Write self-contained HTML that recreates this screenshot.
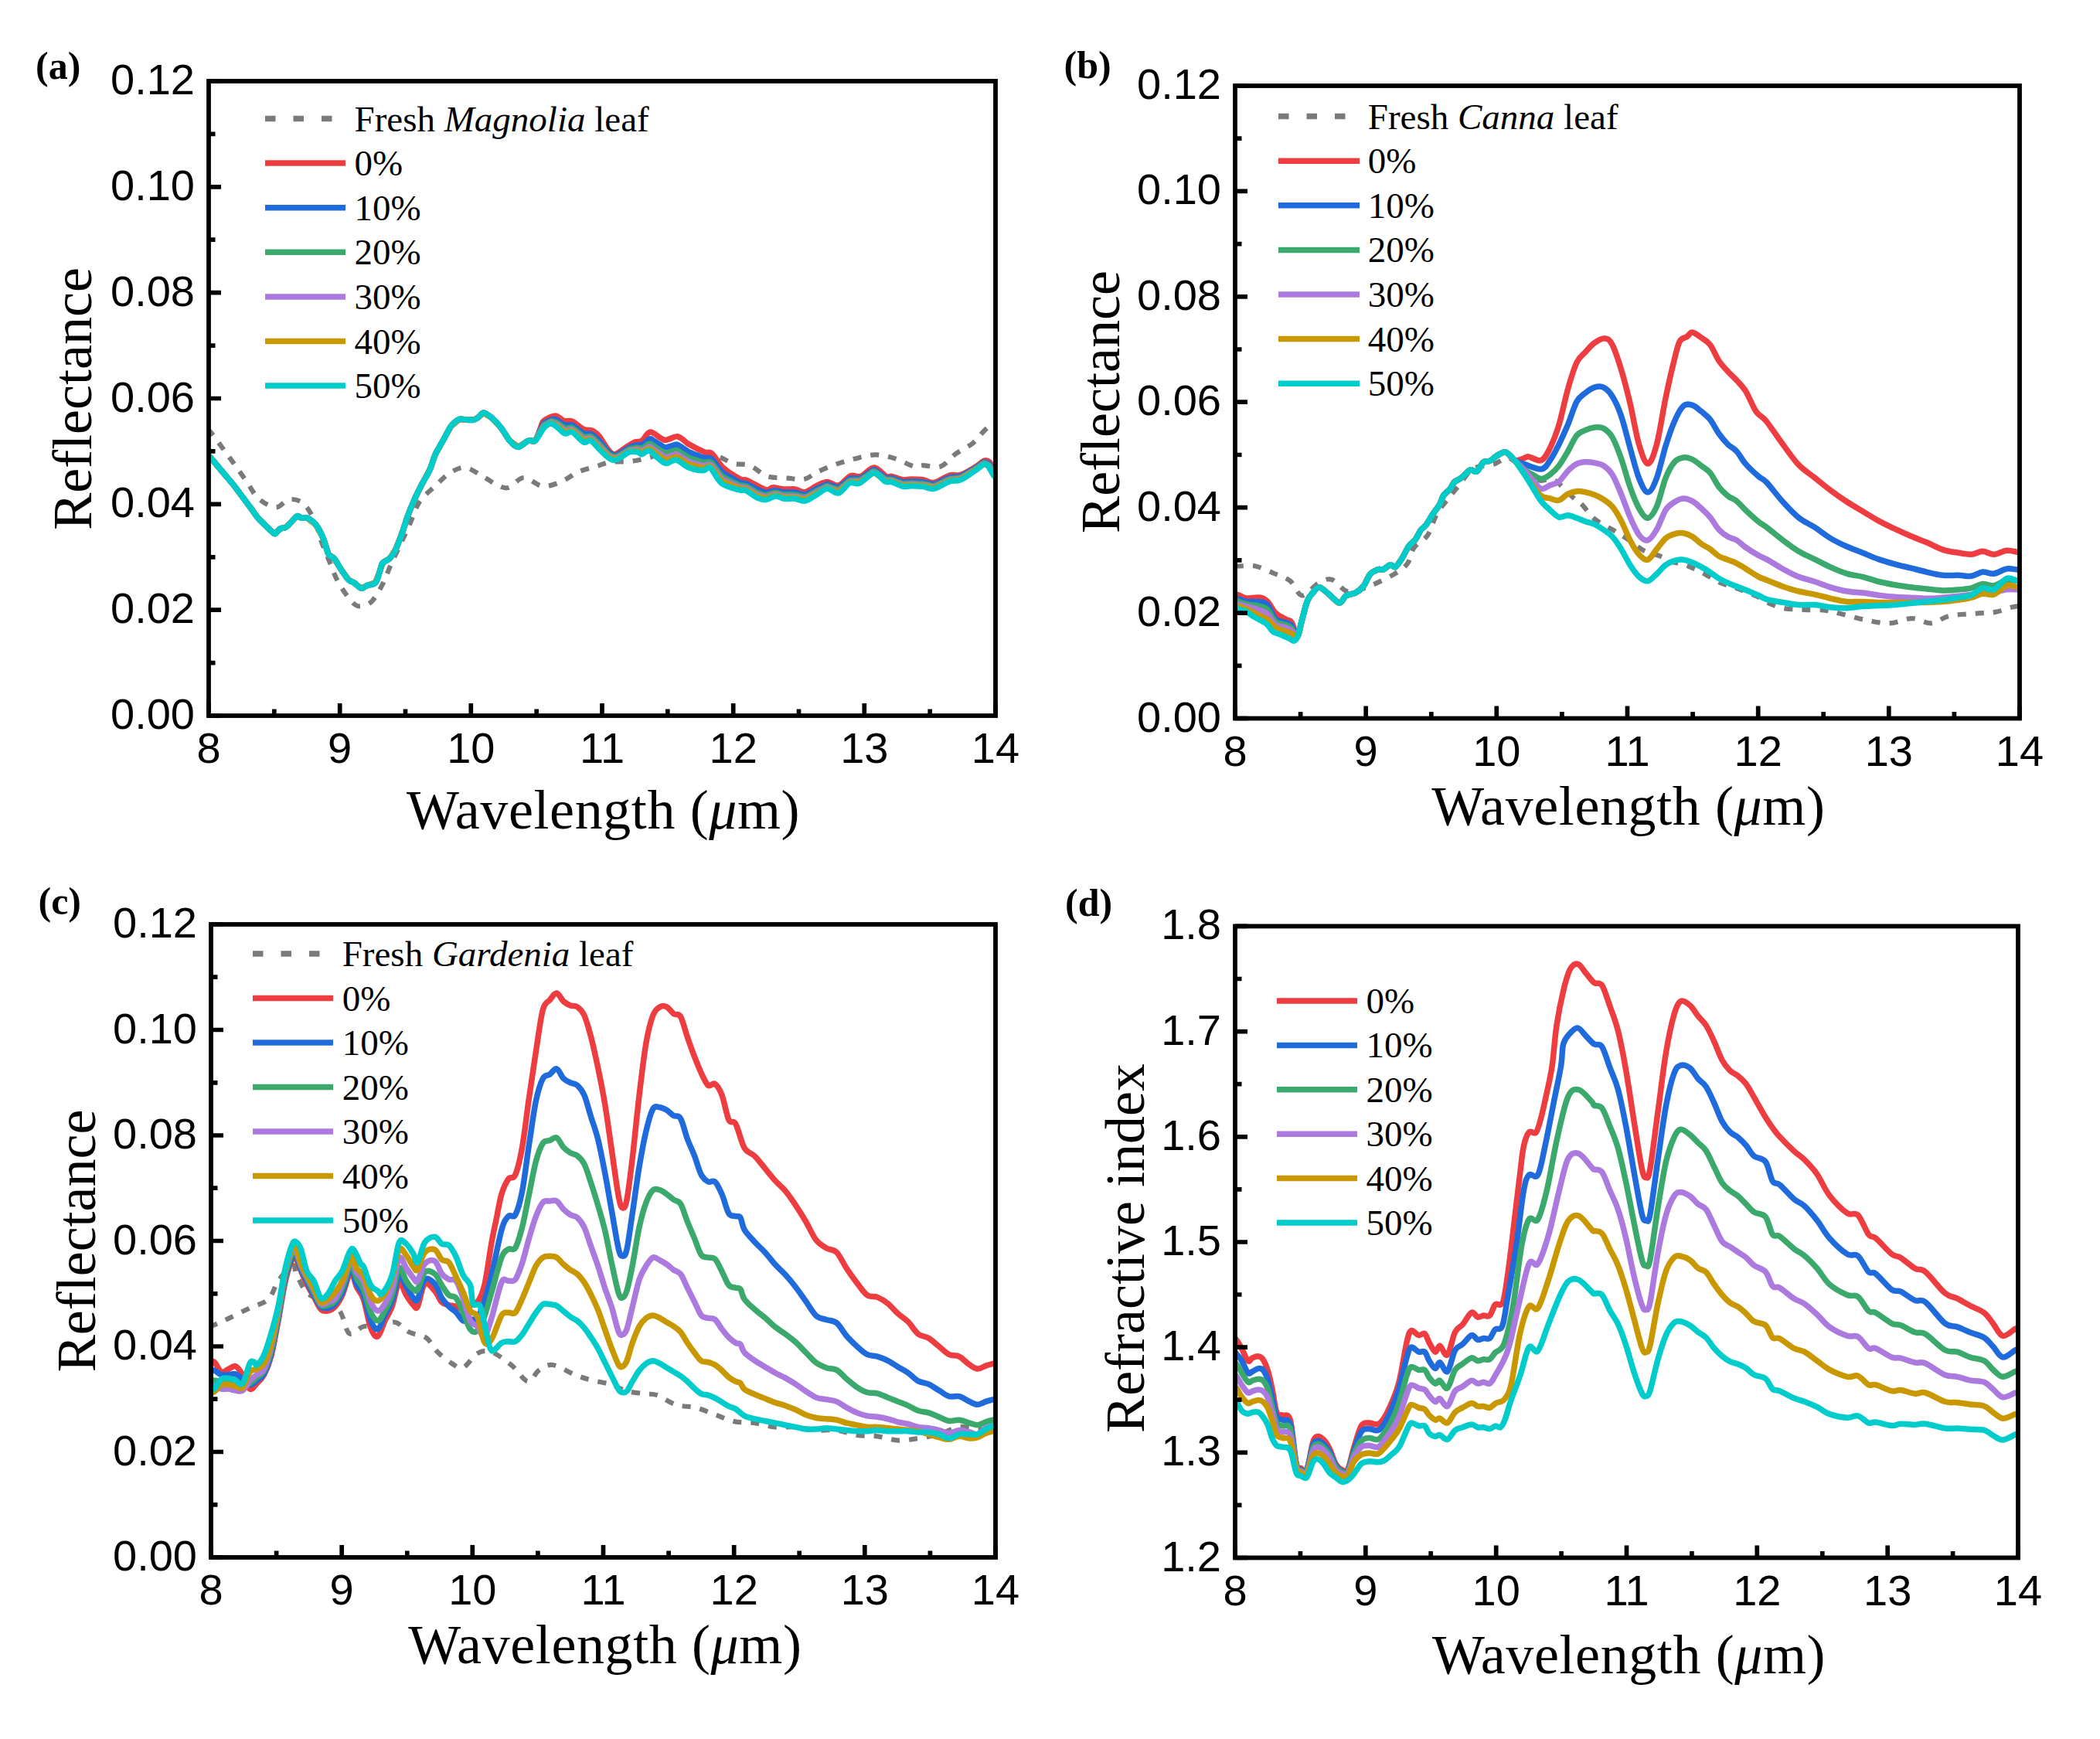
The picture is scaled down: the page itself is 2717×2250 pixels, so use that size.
<!DOCTYPE html><html><head><meta charset="utf-8"><style>html,body{margin:0;padding:0;background:#fff;width:2717px;height:2250px;overflow:hidden}svg{display:block}</style></head><body>
<svg width="2717" height="2250" viewBox="0 0 2717 2250">
<rect width="2717" height="2250" fill="#fff"/>
<clipPath id="clipa"><rect x="270.0" y="105.0" width="1018.0" height="821.0"/></clipPath>
<g clip-path="url(#clipa)" fill="none" stroke-linejoin="round" stroke-linecap="round">
<path d="M268.0 556.0C268.7 556.5 268.9 554.7 272.4 558.9C275.9 563.1 283.7 574.0 288.9 581.0C294.1 588.0 298.5 594.2 303.6 601.2C308.7 608.2 314.1 615.9 319.3 623.3C324.5 630.7 328.6 639.9 334.9 645.4C341.2 650.9 350.6 656.2 357.0 656.4C363.4 656.5 367.8 647.2 373.6 646.3C379.4 645.4 386.5 646.4 392.0 650.9C397.5 655.4 402.7 664.7 406.7 673.0C410.7 681.3 412.5 691.4 415.9 700.6C419.3 709.8 423.3 719.3 427.0 728.2C430.7 737.1 433.1 745.4 438.0 754.0C442.9 762.6 451.5 774.7 456.4 779.7C461.3 784.8 463.3 784.6 467.4 784.3C471.5 784.0 476.6 782.6 481.2 777.9C485.8 773.1 490.9 763.8 495.0 755.8C499.1 747.8 502.0 738.9 506.0 730.0C510.0 721.1 515.0 711.0 519.0 702.4C523.0 693.8 526.0 687.4 530.0 678.5C534.0 669.6 537.4 657.3 542.9 649.0C548.4 640.7 556.7 634.9 563.1 628.8C569.5 622.7 575.0 616.3 581.5 612.3C588.0 608.3 594.7 604.3 601.8 604.9C608.9 605.5 617.0 612.2 623.9 615.9C630.8 619.6 637.3 624.7 642.9 627.2C648.5 629.7 651.8 632.4 657.6 630.9C663.4 629.4 670.4 618.3 677.8 618.0C685.2 617.7 693.8 628.1 701.8 629.0C709.8 629.9 718.0 626.5 725.7 623.5C733.4 620.5 740.1 614.1 747.8 610.7C755.5 607.3 764.7 605.4 771.7 603.3C778.8 601.1 782.7 598.9 790.1 597.8C797.5 596.7 807.6 597.9 815.9 596.9C824.2 595.9 831.8 594.0 840.0 592.0C848.2 590.0 855.0 585.7 865.0 585.0C875.0 584.3 889.5 587.1 900.0 588.0C910.5 588.9 920.0 588.5 928.1 590.4C936.2 592.3 941.4 597.6 948.4 599.6C955.4 601.6 963.0 599.6 970.4 602.4C977.8 605.2 984.5 613.5 992.5 616.2C1000.5 618.9 1010.7 618.0 1018.7 618.6C1026.7 619.2 1033.8 621.3 1040.3 620.0C1046.8 618.7 1050.6 613.9 1057.5 610.7C1064.4 607.5 1073.8 603.5 1081.9 600.6C1090.1 597.7 1098.0 595.4 1106.4 593.4C1114.8 591.4 1123.7 588.4 1132.3 588.4C1140.9 588.4 1149.7 590.9 1158.1 593.4C1166.5 595.9 1176.6 602.0 1182.6 603.5C1188.6 605.0 1188.3 602.1 1194.1 602.1C1199.8 602.1 1210.1 605.9 1217.1 603.5C1224.0 601.1 1228.8 592.7 1235.8 587.7C1242.8 582.7 1252.3 578.6 1258.8 573.3C1265.3 568.0 1269.4 560.8 1274.6 556.1C1279.8 551.4 1287.4 546.9 1290.0 545.0" stroke="#7a7a7a" stroke-width="6.2" stroke-dasharray="11 12" stroke-linecap="butt"/>
<path d="M270.0 590.0C270.4 590.3 270.5 589.8 272.4 592.0C274.3 594.2 278.5 599.3 281.6 603.0C284.7 606.7 287.4 610.0 290.8 614.0C294.2 618.0 298.1 622.4 301.8 627.0C305.5 631.6 309.1 636.8 312.8 641.7C316.5 646.6 320.5 651.8 323.9 656.4C327.3 661.0 329.6 665.3 333.0 669.3C336.4 673.3 340.9 677.2 344.0 680.3C347.1 683.4 349.5 686.0 351.5 687.7C353.5 689.4 354.2 691.1 356.0 690.5C357.8 689.9 360.2 685.4 362.5 684.0C364.8 682.6 367.4 683.7 369.9 682.2C372.4 680.7 374.9 677.2 377.3 674.8C379.8 672.3 382.5 668.3 384.6 667.5C386.7 666.7 388.0 669.8 390.1 670.2C392.2 670.7 394.4 668.8 397.5 670.2C400.6 671.6 405.1 674.4 408.5 678.5C411.9 682.6 414.9 688.5 417.7 695.0C420.5 701.5 422.6 712.6 425.1 717.2C427.6 721.8 429.7 719.3 432.5 722.7C435.3 726.1 438.6 732.8 441.7 737.4C444.8 742.0 448.1 747.5 450.9 750.3C453.6 753.1 455.4 752.2 458.2 754.0C460.9 755.8 464.6 760.7 467.4 761.3C470.2 761.9 471.7 758.8 474.8 757.6C477.9 756.4 483.0 757.1 485.8 754.0C488.6 750.9 489.9 743.5 491.4 739.2C492.9 734.9 492.9 731.0 495.0 728.2C497.1 725.5 501.4 725.5 504.2 722.7C507.0 719.9 509.1 716.5 511.6 711.6C514.1 706.7 516.2 700.9 519.0 693.2C521.8 685.5 525.1 673.9 528.2 665.6C531.3 657.3 534.3 650.2 537.4 643.5C540.5 636.8 543.5 630.9 546.6 625.1C549.7 619.3 553.0 614.7 555.8 608.6C558.5 602.5 560.0 595.0 563.1 588.3C566.2 581.5 570.8 574.2 574.2 568.1C577.6 562.0 580.0 555.8 583.4 551.5C586.8 547.2 591.0 543.7 594.4 542.3C597.8 540.9 600.5 543.1 603.6 543.2C606.7 543.4 610.3 543.7 612.8 543.2C615.2 542.8 616.1 542.0 618.3 540.5C620.4 539.0 622.7 534.0 625.7 534.0C628.7 534.0 632.6 537.4 636.4 540.7C640.2 544.0 644.6 548.7 648.4 553.6C652.2 558.5 655.7 566.1 659.4 570.2C663.1 574.4 666.5 578.5 670.5 578.5C674.5 578.5 679.7 571.6 683.4 570.2C687.1 568.8 689.8 573.2 692.6 570.2C695.4 567.2 698.2 556.3 700.0 552.0C701.8 547.7 700.6 546.7 703.6 544.4C706.6 542.1 714.0 538.0 718.3 538.0C722.6 538.0 725.7 543.2 729.4 544.4C733.1 545.6 736.1 543.5 740.4 545.3C744.7 547.1 750.8 553.4 755.1 555.4C759.4 557.4 762.8 555.8 766.2 557.3C769.6 558.8 772.0 560.7 775.4 564.7C778.8 568.7 783.0 577.4 786.4 581.2C789.8 585.0 791.6 588.2 795.6 587.7C799.6 587.2 806.0 581.1 810.3 578.5C814.6 575.9 818.0 573.4 821.4 572.0C824.8 570.6 827.2 572.4 830.6 570.2C834.0 568.1 836.7 559.2 841.6 559.1C846.5 559.0 854.2 568.4 860.0 569.3C865.8 570.2 871.4 563.8 876.6 564.7C881.8 565.6 885.5 571.4 891.3 574.8C897.1 578.2 906.7 582.9 911.6 584.9C916.5 586.9 916.8 583.3 920.8 586.7C924.8 590.1 929.4 599.6 935.5 605.1C941.6 610.6 952.4 617.1 957.6 619.9C962.8 622.7 961.3 619.4 966.8 621.7C972.3 624.0 985.2 632.2 990.7 633.7C996.2 635.2 996.0 630.9 1000.0 630.8C1004.0 630.7 1009.6 632.6 1014.4 633.0C1019.2 633.4 1024.2 632.4 1028.8 633.0C1033.3 633.6 1036.9 637.4 1041.7 636.6C1046.5 635.8 1052.7 630.2 1057.5 628.0C1062.3 625.8 1065.9 623.6 1070.4 623.6C1075.0 623.6 1079.8 629.3 1084.8 628.0C1089.8 626.7 1095.8 617.6 1100.6 615.7C1105.4 613.8 1108.6 618.2 1113.6 616.4C1118.6 614.6 1125.3 604.9 1130.8 604.9C1136.3 604.9 1142.8 614.5 1146.6 616.4C1150.4 618.3 1150.2 615.7 1153.8 616.4C1157.4 617.1 1164.1 620.2 1168.2 620.8C1172.3 621.4 1174.0 620.0 1178.3 620.0C1182.6 620.0 1189.1 620.1 1194.1 620.8C1199.1 621.5 1202.8 625.4 1208.5 624.4C1214.2 623.4 1222.8 616.7 1228.6 615.0C1234.3 613.3 1237.2 616.2 1243.0 614.3C1248.8 612.4 1258.1 606.5 1263.1 603.5C1268.1 600.5 1270.2 597.2 1273.1 596.3C1276.0 595.3 1278.2 596.1 1280.3 597.8C1282.3 599.5 1283.8 604.0 1285.4 606.4C1287.0 608.8 1289.2 611.1 1290.0 612.0" stroke="#ee3d40" stroke-width="7.5"/>
<path d="M266.0 590.0C266.5 590.0 268.0 589.7 269.0 590.0C270.0 590.3 271.0 590.8 272.0 591.7C273.0 592.5 274.0 593.9 275.0 595.1C276.0 596.3 277.0 597.5 278.0 598.7C279.0 599.9 280.0 601.1 281.0 602.3C282.0 603.5 283.0 604.7 284.0 605.9C285.0 607.1 286.0 608.3 287.0 609.5C288.0 610.7 289.0 611.9 290.0 613.0C291.0 614.2 292.0 615.4 293.0 616.6C294.0 617.8 295.0 619.0 296.0 620.1C297.0 621.3 298.0 622.5 299.0 623.7C300.0 624.9 301.0 626.0 302.0 627.3C303.0 628.5 304.0 629.9 305.0 631.3C306.0 632.6 307.0 633.9 308.0 635.3C309.0 636.6 310.0 638.0 311.0 639.3C312.0 640.6 313.0 642.0 314.0 643.3C315.0 644.6 316.0 645.9 317.0 647.3C318.0 648.6 319.0 649.9 320.0 651.2C321.0 652.6 322.0 653.9 323.0 655.2C324.0 656.6 325.0 658.0 326.0 659.4C327.0 660.8 328.0 662.2 329.0 663.6C330.0 665.0 331.0 666.6 332.0 667.9C333.0 669.2 334.0 670.2 335.0 671.3C336.0 672.4 337.0 673.3 338.0 674.3C339.0 675.3 340.0 676.3 341.0 677.3C342.0 678.3 343.0 679.3 344.0 680.3C345.0 681.3 346.0 682.3 347.0 683.3C348.0 684.2 349.0 685.3 350.0 686.2C351.0 687.1 352.0 687.9 353.0 688.6C354.0 689.3 355.0 690.7 356.0 690.5C357.0 690.3 358.0 688.5 359.0 687.5C360.0 686.5 361.0 685.2 362.0 684.5C363.0 683.8 364.0 683.7 365.0 683.4C366.0 683.1 367.0 683.0 368.0 682.7C369.0 682.3 370.0 681.9 371.0 681.1C372.0 680.3 373.0 679.1 374.0 678.1C375.0 677.1 376.0 676.1 377.0 675.1C378.0 674.1 379.0 673.1 380.0 672.1C381.0 671.1 382.0 669.8 383.0 669.1C384.0 668.4 385.0 668.1 386.0 668.2C387.0 668.3 388.0 669.3 389.0 669.7C390.0 670.0 391.0 670.1 392.0 670.2C393.0 670.3 394.0 670.1 395.0 670.2C396.0 670.3 397.0 670.1 398.0 670.6C399.0 671.0 400.0 672.1 401.0 672.8C402.0 673.6 403.0 674.4 404.0 675.1C405.0 675.9 406.0 676.4 407.0 677.4C408.0 678.4 409.0 679.7 410.0 681.2C411.0 682.7 412.0 684.8 413.0 686.6C414.0 688.4 415.0 689.9 416.0 692.0C417.0 694.0 418.0 696.2 419.0 698.9C420.0 701.6 421.0 704.9 422.0 707.9C423.0 710.9 424.0 715.0 425.0 716.9C426.0 718.8 427.0 718.6 428.0 719.4C429.0 720.1 430.0 720.6 431.0 721.6C432.0 722.5 433.0 723.7 434.0 725.1C435.0 726.5 436.0 728.3 437.0 729.9C438.0 731.5 439.0 733.1 440.0 734.7C441.0 736.2 442.0 737.8 443.0 739.2C444.0 740.7 445.0 742.0 446.0 743.4C447.0 744.8 448.0 746.4 449.0 747.6C450.0 748.9 451.0 750.1 452.0 750.9C453.0 751.6 454.0 751.9 455.0 752.4C456.0 752.9 457.0 753.3 458.0 753.9C459.0 754.5 460.0 755.4 461.0 756.2C462.0 757.0 463.0 757.8 464.0 758.6C465.0 759.4 466.0 760.7 467.0 761.0C468.0 761.2 469.0 760.4 470.0 760.0C471.0 759.6 472.0 759.0 473.0 758.5C474.0 758.0 475.0 757.6 476.0 757.2C477.0 756.8 478.0 756.6 479.0 756.2C480.0 755.9 481.0 755.6 482.0 755.2C483.0 754.9 484.0 755.4 485.0 754.3C486.0 753.1 487.0 750.5 488.0 748.2C489.0 745.9 490.0 743.1 491.0 740.3C492.0 737.4 493.0 733.5 494.0 731.3C495.0 729.0 496.0 728.0 497.0 727.0C498.0 726.0 499.0 725.8 500.0 725.2C501.0 724.6 502.0 724.3 503.0 723.4C504.0 722.5 505.0 721.3 506.0 720.0C507.0 718.7 508.0 717.1 509.0 715.5C510.0 713.9 511.0 712.7 512.0 710.6C513.0 708.5 514.0 705.6 515.0 703.1C516.0 700.7 517.0 698.3 518.0 695.7C519.0 693.0 520.0 690.1 521.0 687.2C522.0 684.3 523.0 681.2 524.0 678.2C525.0 675.2 526.0 672.0 527.0 669.2C528.0 666.4 529.0 663.8 530.0 661.3C531.0 658.8 532.0 656.5 533.0 654.1C534.0 651.7 535.0 649.2 536.0 646.9C537.0 644.6 538.0 642.4 539.0 640.3C540.0 638.2 541.0 636.3 542.0 634.3C543.0 632.3 544.0 630.3 545.0 628.3C546.0 626.3 547.0 624.4 548.0 622.6C549.0 620.7 550.0 619.0 551.0 617.2C552.0 615.4 553.0 613.8 554.0 611.8C555.0 609.8 556.0 607.7 557.0 605.3C558.0 602.8 559.0 599.7 560.0 596.9C561.0 594.1 562.0 590.9 563.0 588.6C564.0 586.3 565.0 584.9 566.0 583.0C567.0 581.2 568.0 579.4 569.0 577.6C570.0 575.7 571.0 573.9 572.0 572.1C573.0 570.3 574.0 568.5 575.0 566.7C576.0 564.8 577.0 563.0 578.0 561.2C579.0 559.4 580.0 557.5 581.0 555.8C582.0 554.1 583.0 552.2 584.0 551.0C585.0 549.8 586.0 549.3 587.0 548.5C588.0 547.7 589.0 546.8 590.0 546.0C591.0 545.1 592.0 544.1 593.0 543.5C594.0 542.9 595.0 542.6 596.0 542.5C597.0 542.3 598.0 542.7 599.0 542.8C600.0 542.8 601.0 543.0 602.0 543.0C603.0 543.1 604.0 543.2 605.0 543.2C606.0 543.2 607.0 543.2 608.0 543.2C609.0 543.2 610.0 543.3 611.0 543.2C612.0 543.1 613.0 543.0 614.0 542.6C615.0 542.3 616.0 541.7 617.0 541.1C618.0 540.5 619.0 539.8 620.0 539.0C621.0 538.2 622.0 537.2 623.0 536.4C624.0 535.6 625.0 534.2 626.0 534.2C627.0 534.1 628.0 535.4 629.0 536.1C630.0 536.7 631.0 537.3 632.0 537.9C633.0 538.6 634.0 539.1 635.0 539.8C636.0 540.6 637.0 541.4 638.0 542.4C639.0 543.4 640.0 544.6 641.0 545.6C642.0 546.7 643.0 547.8 644.0 548.9C645.0 549.9 646.0 550.9 647.0 552.1C648.0 553.3 649.0 554.6 650.0 556.0C651.0 557.4 652.0 559.0 653.0 560.5C654.0 562.1 655.0 563.6 656.0 565.1C657.0 566.6 658.0 568.4 659.0 569.6C660.0 570.8 661.0 571.3 662.0 572.1C663.0 572.9 664.0 573.6 665.0 574.4C666.0 575.1 667.0 576.0 668.0 576.6C669.0 577.3 670.0 578.2 671.0 578.2C672.0 578.1 673.0 576.9 674.0 576.2C675.0 575.6 676.0 575.0 677.0 574.3C678.0 573.7 679.0 573.0 680.0 572.4C681.0 571.7 682.0 570.8 683.0 570.5C684.0 570.1 685.0 570.2 686.0 570.2C687.0 570.2 688.0 570.2 689.0 570.2C690.0 570.2 691.0 571.1 692.0 570.2C693.0 569.3 694.0 567.0 695.0 565.0C696.0 563.1 697.0 560.7 698.0 558.6C699.0 556.5 700.0 554.3 701.0 552.4C702.0 550.5 703.0 548.3 704.0 547.2C705.0 546.1 706.0 546.3 707.0 545.8C708.0 545.3 709.0 544.8 710.0 544.3C711.0 543.8 712.0 543.2 713.0 542.9C714.0 542.6 715.0 542.7 716.0 542.6C717.0 542.6 718.0 542.5 719.0 542.8C720.0 543.2 721.0 544.0 722.0 544.6C723.0 545.2 724.0 545.9 725.0 546.5C726.0 547.2 727.0 547.9 728.0 548.5C729.0 549.1 730.0 549.7 731.0 549.9C732.0 550.2 733.0 549.9 734.0 549.9C735.0 549.9 736.0 549.9 737.0 549.9C738.0 549.9 739.0 549.5 740.0 549.9C741.0 550.2 742.0 551.1 743.0 551.8C744.0 552.5 745.0 553.3 746.0 554.1C747.0 554.8 748.0 555.6 749.0 556.3C750.0 557.1 751.0 557.8 752.0 558.6C753.0 559.3 754.0 560.4 755.0 560.8C756.0 561.2 757.0 561.0 758.0 561.0C759.0 561.1 760.0 561.1 761.0 561.2C762.0 561.2 763.0 561.0 764.0 561.3C765.0 561.6 766.0 562.2 767.0 562.9C768.0 563.6 769.0 564.6 770.0 565.5C771.0 566.4 772.0 567.2 773.0 568.1C774.0 569.0 775.0 569.8 776.0 571.0C777.0 572.1 778.0 573.6 779.0 574.9C780.0 576.2 781.0 577.5 782.0 578.8C783.0 580.0 784.0 581.5 785.0 582.6C786.0 583.8 787.0 584.8 788.0 585.6C789.0 586.5 790.0 587.1 791.0 587.6C792.0 588.2 793.0 588.8 794.0 589.1C795.0 589.3 796.0 589.4 797.0 589.2C798.0 589.0 799.0 588.4 800.0 587.8C801.0 587.3 802.0 586.6 803.0 585.9C804.0 585.3 805.0 584.7 806.0 584.1C807.0 583.4 808.0 582.8 809.0 582.2C810.0 581.6 811.0 580.9 812.0 580.4C813.0 579.8 814.0 579.2 815.0 578.8C816.0 578.3 817.0 578.0 818.0 577.6C819.0 577.2 820.0 576.7 821.0 576.4C822.0 576.1 823.0 576.0 824.0 575.9C825.0 575.8 826.0 575.8 827.0 575.8C828.0 575.8 829.0 576.3 830.0 576.0C831.0 575.6 832.0 574.7 833.0 574.0C834.0 573.2 835.0 572.3 836.0 571.4C837.0 570.6 838.0 569.5 839.0 568.9C840.0 568.3 841.0 567.6 842.0 567.8C843.0 567.9 844.0 569.1 845.0 569.7C846.0 570.4 847.0 571.0 848.0 571.7C849.0 572.3 850.0 573.0 851.0 573.6C852.0 574.2 853.0 574.8 854.0 575.4C855.0 575.9 856.0 576.5 857.0 577.1C858.0 577.7 859.0 578.6 860.0 578.9C861.0 579.1 862.0 578.8 863.0 578.6C864.0 578.4 865.0 578.0 866.0 577.7C867.0 577.4 868.0 577.1 869.0 576.8C870.0 576.5 871.0 576.2 872.0 575.9C873.0 575.6 874.0 575.0 875.0 575.0C876.0 575.1 877.0 575.5 878.0 576.0C879.0 576.5 880.0 577.3 881.0 578.0C882.0 578.6 883.0 579.3 884.0 580.0C885.0 580.6 886.0 581.3 887.0 582.0C888.0 582.6 889.0 583.4 890.0 583.9C891.0 584.5 892.0 585.0 893.0 585.5C894.0 585.9 895.0 586.3 896.0 586.7C897.0 587.1 898.0 587.5 899.0 587.9C900.0 588.3 901.0 588.7 902.0 589.1C903.0 589.5 904.0 589.9 905.0 590.3C906.0 590.7 907.0 591.1 908.0 591.5C909.0 591.8 910.0 592.2 911.0 592.4C912.0 592.6 913.0 592.5 914.0 592.5C915.0 592.5 916.0 592.4 917.0 592.5C918.0 592.6 919.0 592.5 920.0 593.2C921.0 593.8 922.0 595.3 923.0 596.5C924.0 597.7 925.0 599.1 926.0 600.4C927.0 601.7 928.0 603.0 929.0 604.3C930.0 605.5 931.0 606.9 932.0 608.1C933.0 609.4 934.0 610.7 935.0 611.6C936.0 612.4 937.0 612.9 938.0 613.5C939.0 614.1 940.0 614.6 941.0 615.2C942.0 615.8 943.0 616.3 944.0 616.9C945.0 617.5 946.0 618.0 947.0 618.6C948.0 619.2 949.0 619.8 950.0 620.3C951.0 620.9 952.0 621.5 953.0 622.1C954.0 622.6 955.0 623.3 956.0 623.7C957.0 624.2 958.0 624.5 959.0 624.7C960.0 625.0 961.0 625.1 962.0 625.2C963.0 625.4 964.0 625.4 965.0 625.7C966.0 626.0 967.0 626.5 968.0 627.0C969.0 627.5 970.0 628.1 971.0 628.6C972.0 629.2 973.0 629.7 974.0 630.3C975.0 630.8 976.0 631.4 977.0 631.9C978.0 632.4 979.0 633.0 980.0 633.5C981.0 633.9 982.0 634.3 983.0 634.7C984.0 635.1 985.0 635.5 986.0 636.0C987.0 636.4 988.0 637.0 989.0 637.2C990.0 637.5 991.0 637.6 992.0 637.5C993.0 637.4 994.0 636.8 995.0 636.5C996.0 636.2 997.0 635.8 998.0 635.5C999.0 635.3 1000.0 635.0 1001.0 634.9C1002.0 634.8 1003.0 634.8 1004.0 634.9C1005.0 635.0 1006.0 635.3 1007.0 635.5C1008.0 635.7 1009.0 635.9 1010.0 636.1C1011.0 636.3 1012.0 636.6 1013.0 636.7C1014.0 636.9 1015.0 637.0 1016.0 637.0C1017.0 637.1 1018.0 637.0 1019.0 637.0C1020.0 637.0 1021.0 637.0 1022.0 637.0C1023.0 637.0 1024.0 637.0 1025.0 637.0C1026.0 637.0 1027.0 636.9 1028.0 637.0C1029.0 637.1 1030.0 637.4 1031.0 637.6C1032.0 637.8 1033.0 638.1 1034.0 638.4C1035.0 638.6 1036.0 638.9 1037.0 639.2C1038.0 639.4 1039.0 639.9 1040.0 640.0C1041.0 640.0 1042.0 640.0 1043.0 639.7C1044.0 639.4 1045.0 638.6 1046.0 638.0C1047.0 637.5 1048.0 637.0 1049.0 636.4C1050.0 635.9 1051.0 635.3 1052.0 634.8C1053.0 634.2 1054.0 633.7 1055.0 633.1C1056.0 632.6 1057.0 632.0 1058.0 631.6C1059.0 631.1 1060.0 630.7 1061.0 630.3C1062.0 629.9 1063.0 629.5 1064.0 629.1C1065.0 628.7 1066.0 628.3 1067.0 627.9C1068.0 627.5 1069.0 626.7 1070.0 626.6C1071.0 626.5 1072.0 627.1 1073.0 627.3C1074.0 627.6 1075.0 628.0 1076.0 628.3C1077.0 628.7 1078.0 629.0 1079.0 629.4C1080.0 629.7 1081.0 630.1 1082.0 630.4C1083.0 630.7 1084.0 631.4 1085.0 631.1C1086.0 630.9 1087.0 629.5 1088.0 628.7C1089.0 627.9 1090.0 627.1 1091.0 626.2C1092.0 625.4 1093.0 624.6 1094.0 623.8C1095.0 623.0 1096.0 622.1 1097.0 621.3C1098.0 620.6 1099.0 619.5 1100.0 619.1C1101.0 618.7 1102.0 618.9 1103.0 618.9C1104.0 618.9 1105.0 619.0 1106.0 619.0C1107.0 619.0 1108.0 619.1 1109.0 619.1C1110.0 619.1 1111.0 619.4 1112.0 619.2C1113.0 619.0 1114.0 618.5 1115.0 618.0C1116.0 617.4 1117.0 616.6 1118.0 615.9C1119.0 615.3 1120.0 614.6 1121.0 613.9C1122.0 613.2 1123.0 612.6 1124.0 611.9C1125.0 611.2 1126.0 610.5 1127.0 609.9C1128.0 609.2 1129.0 608.0 1130.0 607.8C1131.0 607.7 1132.0 608.3 1133.0 608.9C1134.0 609.4 1135.0 610.4 1136.0 611.1C1137.0 611.8 1138.0 612.6 1139.0 613.3C1140.0 614.0 1141.0 614.8 1142.0 615.5C1143.0 616.2 1144.0 617.2 1145.0 617.7C1146.0 618.2 1147.0 618.5 1148.0 618.6C1149.0 618.8 1150.0 618.7 1151.0 618.7C1152.0 618.7 1153.0 618.7 1154.0 618.8C1155.0 619.0 1156.0 619.5 1157.0 619.9C1158.0 620.2 1159.0 620.5 1160.0 620.9C1161.0 621.2 1162.0 621.5 1163.0 621.9C1164.0 622.2 1165.0 622.6 1166.0 622.9C1167.0 623.2 1168.0 623.5 1169.0 623.6C1170.0 623.7 1171.0 623.4 1172.0 623.3C1173.0 623.3 1174.0 623.2 1175.0 623.1C1176.0 623.0 1177.0 622.9 1178.0 622.9C1179.0 622.9 1180.0 623.0 1181.0 623.0C1182.0 623.0 1183.0 623.1 1184.0 623.1C1185.0 623.2 1186.0 623.2 1187.0 623.3C1188.0 623.3 1189.0 623.4 1190.0 623.4C1191.0 623.5 1192.0 623.5 1193.0 623.6C1194.0 623.7 1195.0 623.9 1196.0 624.1C1197.0 624.3 1198.0 624.6 1199.0 624.8C1200.0 625.0 1201.0 625.3 1202.0 625.5C1203.0 625.7 1204.0 626.0 1205.0 626.2C1206.0 626.4 1207.0 626.9 1208.0 626.9C1209.0 626.8 1210.0 626.2 1211.0 625.8C1212.0 625.4 1213.0 624.9 1214.0 624.4C1215.0 624.0 1216.0 623.5 1217.0 623.0C1218.0 622.6 1219.0 622.1 1220.0 621.6C1221.0 621.2 1222.0 620.7 1223.0 620.2C1224.0 619.8 1225.0 619.3 1226.0 618.8C1227.0 618.4 1228.0 617.8 1229.0 617.6C1230.0 617.3 1231.0 617.4 1232.0 617.3C1233.0 617.3 1234.0 617.2 1235.0 617.1C1236.0 617.0 1237.0 616.9 1238.0 616.8C1239.0 616.8 1240.0 616.8 1241.0 616.6C1242.0 616.4 1243.0 616.3 1244.0 615.9C1245.0 615.5 1246.0 614.7 1247.0 614.2C1248.0 613.6 1249.0 613.0 1250.0 612.4C1251.0 611.9 1252.0 611.3 1253.0 610.7C1254.0 610.1 1255.0 609.6 1256.0 609.0C1257.0 608.4 1258.0 607.8 1259.0 607.3C1260.0 606.7 1261.0 606.2 1262.0 605.5C1263.0 604.9 1264.0 604.2 1265.0 603.6C1266.0 602.9 1267.0 602.1 1268.0 601.4C1269.0 600.7 1270.0 599.8 1271.0 599.2C1272.0 598.7 1273.0 598.0 1274.0 598.0C1275.0 597.9 1276.0 598.5 1277.0 598.9C1278.0 599.3 1279.0 599.2 1280.0 600.3C1281.0 601.3 1282.0 603.5 1283.0 605.1C1284.0 606.7 1285.0 608.4 1286.0 609.8C1287.0 611.2 1288.0 612.6 1289.0 613.4C1290.0 614.2 1291.5 614.4 1292.0 614.6" stroke="#1f6bdb" stroke-width="7.5"/>
<path d="M266.0 590.0C266.5 590.0 268.0 589.7 269.0 590.0C270.0 590.3 271.0 590.8 272.0 591.7C273.0 592.5 274.0 593.9 275.0 595.1C276.0 596.3 277.0 597.5 278.0 598.7C279.0 599.9 280.0 601.1 281.0 602.3C282.0 603.5 283.0 604.7 284.0 605.9C285.0 607.1 286.0 608.3 287.0 609.5C288.0 610.7 289.0 611.9 290.0 613.0C291.0 614.2 292.0 615.4 293.0 616.6C294.0 617.8 295.0 619.0 296.0 620.1C297.0 621.3 298.0 622.5 299.0 623.7C300.0 624.9 301.0 626.0 302.0 627.3C303.0 628.5 304.0 629.9 305.0 631.3C306.0 632.6 307.0 633.9 308.0 635.3C309.0 636.6 310.0 638.0 311.0 639.3C312.0 640.6 313.0 642.0 314.0 643.3C315.0 644.6 316.0 645.9 317.0 647.3C318.0 648.6 319.0 649.9 320.0 651.2C321.0 652.6 322.0 653.9 323.0 655.2C324.0 656.6 325.0 658.0 326.0 659.4C327.0 660.8 328.0 662.2 329.0 663.6C330.0 665.0 331.0 666.6 332.0 667.9C333.0 669.2 334.0 670.2 335.0 671.3C336.0 672.4 337.0 673.3 338.0 674.3C339.0 675.3 340.0 676.3 341.0 677.3C342.0 678.3 343.0 679.3 344.0 680.3C345.0 681.3 346.0 682.3 347.0 683.3C348.0 684.2 349.0 685.3 350.0 686.2C351.0 687.1 352.0 687.9 353.0 688.6C354.0 689.3 355.0 690.7 356.0 690.5C357.0 690.3 358.0 688.5 359.0 687.5C360.0 686.5 361.0 685.2 362.0 684.5C363.0 683.8 364.0 683.7 365.0 683.4C366.0 683.1 367.0 683.0 368.0 682.7C369.0 682.3 370.0 681.9 371.0 681.1C372.0 680.3 373.0 679.1 374.0 678.1C375.0 677.1 376.0 676.1 377.0 675.1C378.0 674.1 379.0 673.1 380.0 672.1C381.0 671.1 382.0 669.8 383.0 669.1C384.0 668.4 385.0 668.1 386.0 668.2C387.0 668.3 388.0 669.3 389.0 669.7C390.0 670.0 391.0 670.1 392.0 670.2C393.0 670.3 394.0 670.1 395.0 670.2C396.0 670.3 397.0 670.1 398.0 670.6C399.0 671.0 400.0 672.1 401.0 672.8C402.0 673.6 403.0 674.4 404.0 675.1C405.0 675.9 406.0 676.4 407.0 677.4C408.0 678.4 409.0 679.7 410.0 681.2C411.0 682.7 412.0 684.8 413.0 686.6C414.0 688.4 415.0 689.9 416.0 692.0C417.0 694.0 418.0 696.2 419.0 698.9C420.0 701.6 421.0 704.9 422.0 707.9C423.0 710.9 424.0 715.0 425.0 716.9C426.0 718.8 427.0 718.6 428.0 719.4C429.0 720.1 430.0 720.6 431.0 721.6C432.0 722.5 433.0 723.7 434.0 725.1C435.0 726.5 436.0 728.3 437.0 729.9C438.0 731.5 439.0 733.1 440.0 734.7C441.0 736.2 442.0 737.8 443.0 739.2C444.0 740.7 445.0 742.0 446.0 743.4C447.0 744.8 448.0 746.4 449.0 747.6C450.0 748.9 451.0 750.1 452.0 750.9C453.0 751.6 454.0 751.9 455.0 752.4C456.0 752.9 457.0 753.3 458.0 753.9C459.0 754.5 460.0 755.4 461.0 756.2C462.0 757.0 463.0 757.8 464.0 758.6C465.0 759.4 466.0 760.7 467.0 761.0C468.0 761.2 469.0 760.4 470.0 760.0C471.0 759.6 472.0 759.0 473.0 758.5C474.0 758.0 475.0 757.6 476.0 757.2C477.0 756.8 478.0 756.6 479.0 756.2C480.0 755.9 481.0 755.6 482.0 755.2C483.0 754.9 484.0 755.4 485.0 754.3C486.0 753.1 487.0 750.5 488.0 748.2C489.0 745.9 490.0 743.1 491.0 740.3C492.0 737.4 493.0 733.5 494.0 731.3C495.0 729.0 496.0 728.0 497.0 727.0C498.0 726.0 499.0 725.8 500.0 725.2C501.0 724.6 502.0 724.3 503.0 723.4C504.0 722.5 505.0 721.3 506.0 720.0C507.0 718.7 508.0 717.1 509.0 715.5C510.0 713.9 511.0 712.7 512.0 710.6C513.0 708.5 514.0 705.6 515.0 703.1C516.0 700.7 517.0 698.3 518.0 695.7C519.0 693.0 520.0 690.1 521.0 687.2C522.0 684.3 523.0 681.2 524.0 678.2C525.0 675.2 526.0 672.0 527.0 669.2C528.0 666.4 529.0 663.8 530.0 661.3C531.0 658.8 532.0 656.5 533.0 654.1C534.0 651.7 535.0 649.2 536.0 646.9C537.0 644.6 538.0 642.4 539.0 640.3C540.0 638.2 541.0 636.3 542.0 634.3C543.0 632.3 544.0 630.3 545.0 628.3C546.0 626.3 547.0 624.4 548.0 622.6C549.0 620.7 550.0 619.0 551.0 617.2C552.0 615.4 553.0 613.8 554.0 611.8C555.0 609.8 556.0 607.7 557.0 605.3C558.0 602.8 559.0 599.7 560.0 596.9C561.0 594.1 562.0 590.9 563.0 588.6C564.0 586.3 565.0 584.9 566.0 583.0C567.0 581.2 568.0 579.4 569.0 577.6C570.0 575.7 571.0 573.9 572.0 572.1C573.0 570.3 574.0 568.5 575.0 566.7C576.0 564.8 577.0 563.0 578.0 561.2C579.0 559.4 580.0 557.5 581.0 555.8C582.0 554.1 583.0 552.2 584.0 551.0C585.0 549.8 586.0 549.3 587.0 548.5C588.0 547.7 589.0 546.8 590.0 546.0C591.0 545.1 592.0 544.1 593.0 543.5C594.0 542.9 595.0 542.6 596.0 542.5C597.0 542.3 598.0 542.7 599.0 542.8C600.0 542.8 601.0 543.0 602.0 543.0C603.0 543.1 604.0 543.2 605.0 543.2C606.0 543.2 607.0 543.2 608.0 543.2C609.0 543.2 610.0 543.3 611.0 543.2C612.0 543.1 613.0 543.0 614.0 542.6C615.0 542.3 616.0 541.7 617.0 541.1C618.0 540.5 619.0 539.8 620.0 539.0C621.0 538.2 622.0 537.2 623.0 536.4C624.0 535.6 625.0 534.2 626.0 534.2C627.0 534.1 628.0 535.4 629.0 536.1C630.0 536.7 631.0 537.3 632.0 537.9C633.0 538.6 634.0 539.1 635.0 539.8C636.0 540.6 637.0 541.4 638.0 542.4C639.0 543.4 640.0 544.6 641.0 545.6C642.0 546.7 643.0 547.8 644.0 548.9C645.0 549.9 646.0 550.9 647.0 552.1C648.0 553.3 649.0 554.6 650.0 556.0C651.0 557.4 652.0 559.0 653.0 560.5C654.0 562.1 655.0 563.6 656.0 565.1C657.0 566.6 658.0 568.4 659.0 569.6C660.0 570.8 661.0 571.3 662.0 572.1C663.0 572.9 664.0 573.6 665.0 574.4C666.0 575.1 667.0 576.0 668.0 576.6C669.0 577.3 670.0 578.2 671.0 578.2C672.0 578.1 673.0 576.9 674.0 576.2C675.0 575.6 676.0 575.0 677.0 574.3C678.0 573.7 679.0 573.0 680.0 572.4C681.0 571.7 682.0 570.8 683.0 570.5C684.0 570.1 685.0 570.2 686.0 570.2C687.0 570.2 688.0 570.2 689.0 570.2C690.0 570.2 691.0 571.0 692.0 570.2C693.0 569.4 694.0 567.3 695.0 565.6C696.0 563.9 697.0 561.8 698.0 559.9C699.0 558.0 700.0 556.0 701.0 554.3C702.0 552.6 703.0 550.6 704.0 549.5C705.0 548.5 706.0 548.5 707.0 547.9C708.0 547.4 709.0 546.9 710.0 546.3C711.0 545.8 712.0 545.1 713.0 544.9C714.0 544.7 715.0 545.2 716.0 545.4C717.0 545.6 718.0 545.8 719.0 546.2C720.0 546.6 721.0 547.3 722.0 547.9C723.0 548.6 724.0 549.4 725.0 550.1C726.0 550.8 727.0 551.5 728.0 552.2C729.0 552.8 730.0 553.7 731.0 554.0C732.0 554.3 733.0 553.9 734.0 553.9C735.0 553.8 736.0 553.7 737.0 553.6C738.0 553.5 739.0 553.0 740.0 553.3C741.0 553.6 742.0 554.6 743.0 555.4C744.0 556.1 745.0 557.0 746.0 557.8C747.0 558.6 748.0 559.4 749.0 560.2C750.0 561.0 751.0 561.8 752.0 562.6C753.0 563.4 754.0 564.6 755.0 564.9C756.0 565.3 757.0 564.9 758.0 564.9C759.0 564.9 760.0 564.8 761.0 564.8C762.0 564.7 763.0 564.4 764.0 564.7C765.0 565.0 766.0 565.8 767.0 566.6C768.0 567.4 769.0 568.5 770.0 569.4C771.0 570.3 772.0 571.2 773.0 572.1C774.0 573.1 775.0 574.0 776.0 575.1C777.0 576.1 778.0 577.4 779.0 578.5C780.0 579.7 781.0 580.8 782.0 581.9C783.0 583.0 784.0 584.2 785.0 585.3C786.0 586.3 787.0 587.3 788.0 588.1C789.0 588.9 790.0 589.6 791.0 590.0C792.0 590.5 793.0 590.8 794.0 590.9C795.0 591.1 796.0 591.2 797.0 591.0C798.0 590.9 799.0 590.5 800.0 590.0C801.0 589.5 802.0 588.7 803.0 588.1C804.0 587.5 805.0 586.9 806.0 586.2C807.0 585.6 808.0 585.0 809.0 584.4C810.0 583.7 811.0 583.1 812.0 582.5C813.0 582.0 814.0 581.4 815.0 581.1C816.0 580.7 817.0 580.6 818.0 580.3C819.0 580.1 820.0 579.8 821.0 579.6C822.0 579.4 823.0 579.3 824.0 579.3C825.0 579.3 826.0 579.4 827.0 579.6C828.0 579.7 829.0 580.4 830.0 580.2C831.0 580.1 832.0 579.3 833.0 578.6C834.0 578.0 835.0 577.2 836.0 576.5C837.0 575.8 838.0 574.7 839.0 574.4C840.0 574.0 841.0 573.9 842.0 574.2C843.0 574.5 844.0 575.6 845.0 576.3C846.0 577.1 847.0 577.8 848.0 578.5C849.0 579.2 850.0 580.0 851.0 580.6C852.0 581.3 853.0 581.8 854.0 582.5C855.0 583.1 856.0 583.7 857.0 584.3C858.0 584.9 859.0 585.8 860.0 586.1C861.0 586.5 862.0 586.4 863.0 586.3C864.0 586.2 865.0 585.7 866.0 585.3C867.0 585.0 868.0 584.7 869.0 584.4C870.0 584.0 871.0 583.7 872.0 583.4C873.0 583.1 874.0 582.5 875.0 582.5C876.0 582.6 877.0 583.3 878.0 583.8C879.0 584.3 880.0 585.1 881.0 585.7C882.0 586.4 883.0 587.0 884.0 587.7C885.0 588.3 886.0 589.0 887.0 589.6C888.0 590.3 889.0 591.0 890.0 591.5C891.0 592.1 892.0 592.5 893.0 592.9C894.0 593.3 895.0 593.6 896.0 593.9C897.0 594.2 898.0 594.6 899.0 594.9C900.0 595.2 901.0 595.5 902.0 595.9C903.0 596.2 904.0 596.5 905.0 596.8C906.0 597.2 907.0 597.6 908.0 597.8C909.0 598.1 910.0 598.3 911.0 598.3C912.0 598.4 913.0 598.1 914.0 598.0C915.0 597.8 916.0 597.5 917.0 597.5C918.0 597.5 919.0 597.5 920.0 598.2C921.0 598.9 922.0 600.5 923.0 601.8C924.0 603.1 925.0 604.5 926.0 605.8C927.0 607.1 928.0 608.4 929.0 609.8C930.0 611.1 931.0 612.6 932.0 613.8C933.0 614.9 934.0 616.1 935.0 616.9C936.0 617.7 937.0 618.0 938.0 618.5C939.0 619.1 940.0 619.5 941.0 620.0C942.0 620.5 943.0 621.0 944.0 621.5C945.0 622.0 946.0 622.5 947.0 623.0C948.0 623.5 949.0 624.0 950.0 624.5C951.0 625.0 952.0 625.5 953.0 626.0C954.0 626.5 955.0 627.1 956.0 627.5C957.0 627.8 958.0 628.0 959.0 628.2C960.0 628.4 961.0 628.5 962.0 628.6C963.0 628.8 964.0 628.7 965.0 629.1C966.0 629.4 967.0 630.0 968.0 630.6C969.0 631.1 970.0 631.7 971.0 632.3C972.0 632.9 973.0 633.4 974.0 634.0C975.0 634.6 976.0 635.2 977.0 635.7C978.0 636.3 979.0 636.9 980.0 637.4C981.0 637.8 982.0 638.1 983.0 638.4C984.0 638.8 985.0 639.1 986.0 639.5C987.0 639.8 988.0 640.3 989.0 640.5C990.0 640.7 991.0 640.8 992.0 640.7C993.0 640.5 994.0 640.0 995.0 639.7C996.0 639.3 997.0 639.0 998.0 638.7C999.0 638.4 1000.0 638.0 1001.0 637.8C1002.0 637.7 1003.0 637.5 1004.0 637.6C1005.0 637.6 1006.0 638.0 1007.0 638.3C1008.0 638.5 1009.0 638.8 1010.0 639.0C1011.0 639.3 1012.0 639.6 1013.0 639.7C1014.0 639.9 1015.0 640.0 1016.0 640.1C1017.0 640.1 1018.0 640.1 1019.0 640.1C1020.0 640.1 1021.0 640.1 1022.0 640.1C1023.0 640.1 1024.0 640.1 1025.0 640.1C1026.0 640.1 1027.0 640.0 1028.0 640.1C1029.0 640.2 1030.0 640.4 1031.0 640.6C1032.0 640.8 1033.0 641.1 1034.0 641.4C1035.0 641.6 1036.0 641.9 1037.0 642.1C1038.0 642.4 1039.0 642.8 1040.0 642.8C1041.0 642.9 1042.0 642.9 1043.0 642.6C1044.0 642.2 1045.0 641.5 1046.0 640.9C1047.0 640.4 1048.0 639.8 1049.0 639.3C1050.0 638.7 1051.0 638.2 1052.0 637.6C1053.0 637.1 1054.0 636.5 1055.0 636.0C1056.0 635.4 1057.0 634.9 1058.0 634.4C1059.0 633.9 1060.0 633.5 1061.0 633.0C1062.0 632.5 1063.0 632.1 1064.0 631.6C1065.0 631.1 1066.0 630.7 1067.0 630.2C1068.0 629.8 1069.0 628.9 1070.0 628.8C1071.0 628.7 1072.0 629.3 1073.0 629.6C1074.0 629.9 1075.0 630.3 1076.0 630.7C1077.0 631.0 1078.0 631.4 1079.0 631.7C1080.0 632.1 1081.0 632.5 1082.0 632.8C1083.0 633.1 1084.0 633.9 1085.0 633.6C1086.0 633.3 1087.0 631.9 1088.0 631.1C1089.0 630.2 1090.0 629.4 1091.0 628.6C1092.0 627.7 1093.0 626.9 1094.0 626.0C1095.0 625.2 1096.0 624.2 1097.0 623.5C1098.0 622.7 1099.0 621.7 1100.0 621.3C1101.0 621.0 1102.0 621.2 1103.0 621.2C1104.0 621.2 1105.0 621.3 1106.0 621.3C1107.0 621.3 1108.0 621.3 1109.0 621.3C1110.0 621.4 1111.0 621.7 1112.0 621.4C1113.0 621.2 1114.0 620.5 1115.0 619.9C1116.0 619.3 1117.0 618.5 1118.0 617.8C1119.0 617.1 1120.0 616.5 1121.0 615.8C1122.0 615.1 1123.0 614.4 1124.0 613.7C1125.0 613.0 1126.0 612.4 1127.0 611.7C1128.0 611.0 1129.0 609.8 1130.0 609.6C1131.0 609.5 1132.0 610.2 1133.0 610.7C1134.0 611.3 1135.0 612.2 1136.0 612.9C1137.0 613.7 1138.0 614.4 1139.0 615.1C1140.0 615.9 1141.0 616.6 1142.0 617.4C1143.0 618.1 1144.0 619.1 1145.0 619.6C1146.0 620.1 1147.0 620.2 1148.0 620.3C1149.0 620.4 1150.0 620.4 1151.0 620.4C1152.0 620.5 1153.0 620.4 1154.0 620.6C1155.0 620.9 1156.0 621.4 1157.0 621.7C1158.0 622.1 1159.0 622.5 1160.0 622.8C1161.0 623.2 1162.0 623.5 1163.0 623.9C1164.0 624.3 1165.0 624.7 1166.0 625.0C1167.0 625.3 1168.0 625.6 1169.0 625.7C1170.0 625.8 1171.0 625.6 1172.0 625.5C1173.0 625.4 1174.0 625.4 1175.0 625.3C1176.0 625.2 1177.0 625.1 1178.0 625.1C1179.0 625.0 1180.0 625.1 1181.0 625.2C1182.0 625.2 1183.0 625.3 1184.0 625.3C1185.0 625.4 1186.0 625.4 1187.0 625.5C1188.0 625.5 1189.0 625.5 1190.0 625.6C1191.0 625.6 1192.0 625.6 1193.0 625.7C1194.0 625.8 1195.0 626.0 1196.0 626.2C1197.0 626.4 1198.0 626.7 1199.0 626.9C1200.0 627.1 1201.0 627.3 1202.0 627.5C1203.0 627.8 1204.0 628.0 1205.0 628.2C1206.0 628.4 1207.0 628.9 1208.0 628.9C1209.0 628.8 1210.0 628.2 1211.0 627.8C1212.0 627.4 1213.0 626.9 1214.0 626.4C1215.0 625.9 1216.0 625.5 1217.0 625.0C1218.0 624.5 1219.0 624.1 1220.0 623.6C1221.0 623.1 1222.0 622.7 1223.0 622.2C1224.0 621.7 1225.0 621.2 1226.0 620.8C1227.0 620.4 1228.0 619.8 1229.0 619.5C1230.0 619.3 1231.0 619.3 1232.0 619.2C1233.0 619.1 1234.0 619.0 1235.0 618.9C1236.0 618.8 1237.0 618.7 1238.0 618.6C1239.0 618.5 1240.0 618.5 1241.0 618.3C1242.0 618.1 1243.0 617.9 1244.0 617.5C1245.0 617.0 1246.0 616.3 1247.0 615.7C1248.0 615.1 1249.0 614.5 1250.0 613.9C1251.0 613.3 1252.0 612.7 1253.0 612.1C1254.0 611.5 1255.0 610.9 1256.0 610.3C1257.0 609.7 1258.0 609.1 1259.0 608.5C1260.0 607.9 1261.0 607.3 1262.0 606.7C1263.0 606.0 1264.0 605.3 1265.0 604.6C1266.0 603.9 1267.0 603.2 1268.0 602.5C1269.0 601.7 1270.0 600.9 1271.0 600.3C1272.0 599.8 1273.0 599.1 1274.0 599.1C1275.0 599.1 1276.0 599.8 1277.0 600.3C1278.0 600.8 1279.0 601.0 1280.0 602.2C1281.0 603.4 1282.0 605.6 1283.0 607.2C1284.0 608.8 1285.0 610.5 1286.0 611.8C1287.0 613.2 1288.0 614.6 1289.0 615.4C1290.0 616.2 1291.5 616.4 1292.0 616.6" stroke="#3aa96b" stroke-width="7.5"/>
<path d="M266.0 590.0C266.5 590.0 268.0 589.7 269.0 590.0C270.0 590.3 271.0 590.8 272.0 591.7C273.0 592.5 274.0 593.9 275.0 595.1C276.0 596.3 277.0 597.5 278.0 598.7C279.0 599.9 280.0 601.1 281.0 602.3C282.0 603.5 283.0 604.7 284.0 605.9C285.0 607.1 286.0 608.3 287.0 609.5C288.0 610.7 289.0 611.9 290.0 613.0C291.0 614.2 292.0 615.4 293.0 616.6C294.0 617.8 295.0 619.0 296.0 620.1C297.0 621.3 298.0 622.5 299.0 623.7C300.0 624.9 301.0 626.0 302.0 627.3C303.0 628.5 304.0 629.9 305.0 631.3C306.0 632.6 307.0 633.9 308.0 635.3C309.0 636.6 310.0 638.0 311.0 639.3C312.0 640.6 313.0 642.0 314.0 643.3C315.0 644.6 316.0 645.9 317.0 647.3C318.0 648.6 319.0 649.9 320.0 651.2C321.0 652.6 322.0 653.9 323.0 655.2C324.0 656.6 325.0 658.0 326.0 659.4C327.0 660.8 328.0 662.2 329.0 663.6C330.0 665.0 331.0 666.6 332.0 667.9C333.0 669.2 334.0 670.2 335.0 671.3C336.0 672.4 337.0 673.3 338.0 674.3C339.0 675.3 340.0 676.3 341.0 677.3C342.0 678.3 343.0 679.3 344.0 680.3C345.0 681.3 346.0 682.3 347.0 683.3C348.0 684.2 349.0 685.3 350.0 686.2C351.0 687.1 352.0 687.9 353.0 688.6C354.0 689.3 355.0 690.7 356.0 690.5C357.0 690.3 358.0 688.5 359.0 687.5C360.0 686.5 361.0 685.2 362.0 684.5C363.0 683.8 364.0 683.7 365.0 683.4C366.0 683.1 367.0 683.0 368.0 682.7C369.0 682.3 370.0 681.9 371.0 681.1C372.0 680.3 373.0 679.1 374.0 678.1C375.0 677.1 376.0 676.1 377.0 675.1C378.0 674.1 379.0 673.1 380.0 672.1C381.0 671.1 382.0 669.8 383.0 669.1C384.0 668.4 385.0 668.1 386.0 668.2C387.0 668.3 388.0 669.3 389.0 669.7C390.0 670.0 391.0 670.1 392.0 670.2C393.0 670.3 394.0 670.1 395.0 670.2C396.0 670.3 397.0 670.1 398.0 670.6C399.0 671.0 400.0 672.1 401.0 672.8C402.0 673.6 403.0 674.4 404.0 675.1C405.0 675.9 406.0 676.4 407.0 677.4C408.0 678.4 409.0 679.7 410.0 681.2C411.0 682.7 412.0 684.8 413.0 686.6C414.0 688.4 415.0 689.9 416.0 692.0C417.0 694.0 418.0 696.2 419.0 698.9C420.0 701.6 421.0 704.9 422.0 707.9C423.0 710.9 424.0 715.0 425.0 716.9C426.0 718.8 427.0 718.6 428.0 719.4C429.0 720.1 430.0 720.6 431.0 721.6C432.0 722.5 433.0 723.7 434.0 725.1C435.0 726.5 436.0 728.3 437.0 729.9C438.0 731.5 439.0 733.1 440.0 734.7C441.0 736.2 442.0 737.8 443.0 739.2C444.0 740.7 445.0 742.0 446.0 743.4C447.0 744.8 448.0 746.4 449.0 747.6C450.0 748.9 451.0 750.1 452.0 750.9C453.0 751.6 454.0 751.9 455.0 752.4C456.0 752.9 457.0 753.3 458.0 753.9C459.0 754.5 460.0 755.4 461.0 756.2C462.0 757.0 463.0 757.8 464.0 758.6C465.0 759.4 466.0 760.7 467.0 761.0C468.0 761.2 469.0 760.4 470.0 760.0C471.0 759.6 472.0 759.0 473.0 758.5C474.0 758.0 475.0 757.6 476.0 757.2C477.0 756.8 478.0 756.6 479.0 756.2C480.0 755.9 481.0 755.6 482.0 755.2C483.0 754.9 484.0 755.4 485.0 754.3C486.0 753.1 487.0 750.5 488.0 748.2C489.0 745.9 490.0 743.1 491.0 740.3C492.0 737.4 493.0 733.5 494.0 731.3C495.0 729.0 496.0 728.0 497.0 727.0C498.0 726.0 499.0 725.8 500.0 725.2C501.0 724.6 502.0 724.3 503.0 723.4C504.0 722.5 505.0 721.3 506.0 720.0C507.0 718.7 508.0 717.1 509.0 715.5C510.0 713.9 511.0 712.7 512.0 710.6C513.0 708.5 514.0 705.6 515.0 703.1C516.0 700.7 517.0 698.3 518.0 695.7C519.0 693.0 520.0 690.1 521.0 687.2C522.0 684.3 523.0 681.2 524.0 678.2C525.0 675.2 526.0 672.0 527.0 669.2C528.0 666.4 529.0 663.8 530.0 661.3C531.0 658.8 532.0 656.5 533.0 654.1C534.0 651.7 535.0 649.2 536.0 646.9C537.0 644.6 538.0 642.4 539.0 640.3C540.0 638.2 541.0 636.3 542.0 634.3C543.0 632.3 544.0 630.3 545.0 628.3C546.0 626.3 547.0 624.4 548.0 622.6C549.0 620.7 550.0 619.0 551.0 617.2C552.0 615.4 553.0 613.8 554.0 611.8C555.0 609.8 556.0 607.7 557.0 605.3C558.0 602.8 559.0 599.7 560.0 596.9C561.0 594.1 562.0 590.9 563.0 588.6C564.0 586.3 565.0 584.9 566.0 583.0C567.0 581.2 568.0 579.4 569.0 577.6C570.0 575.7 571.0 573.9 572.0 572.1C573.0 570.3 574.0 568.5 575.0 566.7C576.0 564.8 577.0 563.0 578.0 561.2C579.0 559.4 580.0 557.5 581.0 555.8C582.0 554.1 583.0 552.2 584.0 551.0C585.0 549.8 586.0 549.3 587.0 548.5C588.0 547.7 589.0 546.8 590.0 546.0C591.0 545.1 592.0 544.1 593.0 543.5C594.0 542.9 595.0 542.6 596.0 542.5C597.0 542.3 598.0 542.7 599.0 542.8C600.0 542.8 601.0 543.0 602.0 543.0C603.0 543.1 604.0 543.2 605.0 543.2C606.0 543.2 607.0 543.2 608.0 543.2C609.0 543.2 610.0 543.3 611.0 543.2C612.0 543.1 613.0 543.0 614.0 542.6C615.0 542.3 616.0 541.7 617.0 541.1C618.0 540.5 619.0 539.8 620.0 539.0C621.0 538.2 622.0 537.2 623.0 536.4C624.0 535.6 625.0 534.2 626.0 534.2C627.0 534.1 628.0 535.4 629.0 536.1C630.0 536.7 631.0 537.3 632.0 537.9C633.0 538.6 634.0 539.1 635.0 539.8C636.0 540.6 637.0 541.4 638.0 542.4C639.0 543.4 640.0 544.6 641.0 545.6C642.0 546.7 643.0 547.8 644.0 548.9C645.0 549.9 646.0 550.9 647.0 552.1C648.0 553.3 649.0 554.6 650.0 556.0C651.0 557.4 652.0 559.0 653.0 560.5C654.0 562.1 655.0 563.6 656.0 565.1C657.0 566.6 658.0 568.4 659.0 569.6C660.0 570.8 661.0 571.3 662.0 572.1C663.0 572.9 664.0 573.6 665.0 574.4C666.0 575.1 667.0 576.0 668.0 576.6C669.0 577.3 670.0 578.2 671.0 578.2C672.0 578.1 673.0 576.9 674.0 576.2C675.0 575.6 676.0 575.0 677.0 574.3C678.0 573.7 679.0 573.0 680.0 572.4C681.0 571.7 682.0 570.8 683.0 570.5C684.0 570.1 685.0 570.2 686.0 570.2C687.0 570.2 688.0 570.2 689.0 570.2C690.0 570.2 691.0 570.9 692.0 570.2C693.0 569.5 694.0 567.6 695.0 566.0C696.0 564.4 697.0 562.5 698.0 560.8C699.0 559.0 700.0 557.2 701.0 555.6C702.0 554.0 703.0 552.1 704.0 551.1C705.0 550.0 706.0 550.0 707.0 549.4C708.0 548.8 709.0 548.3 710.0 547.7C711.0 547.2 712.0 546.3 713.0 546.2C714.0 546.2 715.0 546.9 716.0 547.3C717.0 547.6 718.0 548.0 719.0 548.5C720.0 549.0 721.0 549.6 722.0 550.2C723.0 550.9 724.0 551.7 725.0 552.5C726.0 553.2 727.0 554.0 728.0 554.7C729.0 555.4 730.0 556.5 731.0 556.8C732.0 557.1 733.0 556.6 734.0 556.5C735.0 556.4 736.0 556.2 737.0 556.1C738.0 556.0 739.0 555.4 740.0 555.7C741.0 556.0 742.0 557.0 743.0 557.8C744.0 558.6 745.0 559.5 746.0 560.3C747.0 561.1 748.0 562.0 749.0 562.8C750.0 563.6 751.0 564.4 752.0 565.3C753.0 566.1 754.0 567.4 755.0 567.8C756.0 568.1 757.0 567.6 758.0 567.5C759.0 567.5 760.0 567.3 761.0 567.2C762.0 567.1 763.0 566.6 764.0 566.9C765.0 567.2 766.0 568.3 767.0 569.2C768.0 570.0 769.0 571.1 770.0 572.0C771.0 573.0 772.0 573.9 773.0 574.9C774.0 575.8 775.0 576.8 776.0 577.8C777.0 578.8 778.0 580.0 779.0 581.0C780.0 582.0 781.0 583.0 782.0 584.0C783.0 585.1 784.0 586.1 785.0 587.1C786.0 588.1 787.0 589.0 788.0 589.8C789.0 590.6 790.0 591.3 791.0 591.7C792.0 592.1 793.0 592.1 794.0 592.2C795.0 592.3 796.0 592.4 797.0 592.3C798.0 592.2 799.0 591.9 800.0 591.5C801.0 591.0 802.0 590.2 803.0 589.6C804.0 589.0 805.0 588.4 806.0 587.7C807.0 587.1 808.0 586.5 809.0 585.9C810.0 585.2 811.0 584.5 812.0 584.0C813.0 583.5 814.0 582.9 815.0 582.6C816.0 582.3 817.0 582.3 818.0 582.2C819.0 582.0 820.0 581.8 821.0 581.7C822.0 581.6 823.0 581.5 824.0 581.5C825.0 581.6 826.0 581.9 827.0 582.1C828.0 582.4 829.0 583.2 830.0 583.1C831.0 583.1 832.0 582.4 833.0 581.8C834.0 581.3 835.0 580.6 836.0 579.9C837.0 579.3 838.0 578.3 839.0 578.1C840.0 577.8 841.0 578.1 842.0 578.5C843.0 579.0 844.0 580.1 845.0 580.8C846.0 581.6 847.0 582.4 848.0 583.1C849.0 583.9 850.0 584.7 851.0 585.4C852.0 586.1 853.0 586.7 854.0 587.3C855.0 587.9 856.0 588.6 857.0 589.2C858.0 589.8 859.0 590.7 860.0 591.1C861.0 591.5 862.0 591.6 863.0 591.5C864.0 591.4 865.0 590.8 866.0 590.5C867.0 590.2 868.0 589.8 869.0 589.5C870.0 589.2 871.0 588.8 872.0 588.5C873.0 588.2 874.0 587.5 875.0 587.6C876.0 587.7 877.0 588.6 878.0 589.1C879.0 589.7 880.0 590.4 881.0 591.0C882.0 591.7 883.0 592.3 884.0 592.9C885.0 593.6 886.0 594.2 887.0 594.8C888.0 595.4 889.0 596.2 890.0 596.7C891.0 597.2 892.0 597.6 893.0 598.0C894.0 598.3 895.0 598.5 896.0 598.8C897.0 599.1 898.0 599.4 899.0 599.6C900.0 599.9 901.0 600.2 902.0 600.5C903.0 600.7 904.0 601.0 905.0 601.3C906.0 601.6 907.0 601.9 908.0 602.1C909.0 602.3 910.0 602.4 911.0 602.4C912.0 602.3 913.0 601.9 914.0 601.6C915.0 601.4 916.0 600.9 917.0 600.9C918.0 600.9 919.0 600.8 920.0 601.6C921.0 602.4 922.0 604.1 923.0 605.4C924.0 606.7 925.0 608.1 926.0 609.5C927.0 610.8 928.0 612.2 929.0 613.5C930.0 614.9 931.0 616.4 932.0 617.6C933.0 618.7 934.0 619.8 935.0 620.6C936.0 621.3 937.0 621.5 938.0 622.0C939.0 622.4 940.0 622.9 941.0 623.3C942.0 623.8 943.0 624.2 944.0 624.7C945.0 625.1 946.0 625.6 947.0 626.0C948.0 626.5 949.0 626.9 950.0 627.4C951.0 627.8 952.0 628.3 953.0 628.7C954.0 629.2 955.0 629.7 956.0 630.0C957.0 630.3 958.0 630.4 959.0 630.6C960.0 630.7 961.0 630.8 962.0 630.9C963.0 631.1 964.0 631.0 965.0 631.3C966.0 631.7 967.0 632.4 968.0 633.0C969.0 633.6 970.0 634.2 971.0 634.8C972.0 635.4 973.0 636.0 974.0 636.6C975.0 637.1 976.0 637.8 977.0 638.3C978.0 638.9 979.0 639.6 980.0 640.0C981.0 640.4 982.0 640.6 983.0 640.9C984.0 641.2 985.0 641.5 986.0 641.9C987.0 642.2 988.0 642.6 989.0 642.8C990.0 642.9 991.0 643.0 992.0 642.9C993.0 642.7 994.0 642.2 995.0 641.8C996.0 641.5 997.0 641.1 998.0 640.8C999.0 640.5 1000.0 640.1 1001.0 639.9C1002.0 639.6 1003.0 639.3 1004.0 639.4C1005.0 639.4 1006.0 639.9 1007.0 640.2C1008.0 640.4 1009.0 640.7 1010.0 641.0C1011.0 641.2 1012.0 641.6 1013.0 641.8C1014.0 642.0 1015.0 642.1 1016.0 642.2C1017.0 642.2 1018.0 642.2 1019.0 642.2C1020.0 642.2 1021.0 642.2 1022.0 642.2C1023.0 642.2 1024.0 642.2 1025.0 642.2C1026.0 642.2 1027.0 642.1 1028.0 642.2C1029.0 642.2 1030.0 642.5 1031.0 642.7C1032.0 642.9 1033.0 643.2 1034.0 643.4C1035.0 643.6 1036.0 643.9 1037.0 644.1C1038.0 644.3 1039.0 644.8 1040.0 644.8C1041.0 644.9 1042.0 644.8 1043.0 644.5C1044.0 644.2 1045.0 643.4 1046.0 642.9C1047.0 642.3 1048.0 641.8 1049.0 641.2C1050.0 640.7 1051.0 640.1 1052.0 639.6C1053.0 639.0 1054.0 638.5 1055.0 637.9C1056.0 637.4 1057.0 636.8 1058.0 636.3C1059.0 635.8 1060.0 635.3 1061.0 634.8C1062.0 634.3 1063.0 633.8 1064.0 633.3C1065.0 632.8 1066.0 632.3 1067.0 631.8C1068.0 631.3 1069.0 630.4 1070.0 630.3C1071.0 630.2 1072.0 630.8 1073.0 631.1C1074.0 631.4 1075.0 631.8 1076.0 632.2C1077.0 632.6 1078.0 633.0 1079.0 633.3C1080.0 633.7 1081.0 634.1 1082.0 634.5C1083.0 634.8 1084.0 635.6 1085.0 635.3C1086.0 635.0 1087.0 633.6 1088.0 632.7C1089.0 631.9 1090.0 631.0 1091.0 630.1C1092.0 629.3 1093.0 628.4 1094.0 627.5C1095.0 626.7 1096.0 625.7 1097.0 624.9C1098.0 624.2 1099.0 623.2 1100.0 622.9C1101.0 622.5 1102.0 622.8 1103.0 622.8C1104.0 622.8 1105.0 622.8 1106.0 622.8C1107.0 622.8 1108.0 622.8 1109.0 622.9C1110.0 622.9 1111.0 623.2 1112.0 622.9C1113.0 622.6 1114.0 621.8 1115.0 621.2C1116.0 620.5 1117.0 619.8 1118.0 619.1C1119.0 618.4 1120.0 617.7 1121.0 617.0C1122.0 616.4 1123.0 615.7 1124.0 615.0C1125.0 614.3 1126.0 613.6 1127.0 612.9C1128.0 612.2 1129.0 611.0 1130.0 610.9C1131.0 610.7 1132.0 611.4 1133.0 611.9C1134.0 612.5 1135.0 613.4 1136.0 614.2C1137.0 614.9 1138.0 615.7 1139.0 616.4C1140.0 617.1 1141.0 617.9 1142.0 618.6C1143.0 619.4 1144.0 620.4 1145.0 620.9C1146.0 621.3 1147.0 621.3 1148.0 621.4C1149.0 621.6 1150.0 621.6 1151.0 621.6C1152.0 621.7 1153.0 621.6 1154.0 621.9C1155.0 622.1 1156.0 622.6 1157.0 623.0C1158.0 623.4 1159.0 623.8 1160.0 624.1C1161.0 624.5 1162.0 624.9 1163.0 625.3C1164.0 625.7 1165.0 626.1 1166.0 626.4C1167.0 626.7 1168.0 627.1 1169.0 627.2C1170.0 627.3 1171.0 627.0 1172.0 627.0C1173.0 626.9 1174.0 626.8 1175.0 626.8C1176.0 626.7 1177.0 626.6 1178.0 626.5C1179.0 626.5 1180.0 626.6 1181.0 626.6C1182.0 626.7 1183.0 626.7 1184.0 626.8C1185.0 626.8 1186.0 626.9 1187.0 626.9C1188.0 627.0 1189.0 627.0 1190.0 627.1C1191.0 627.1 1192.0 627.1 1193.0 627.2C1194.0 627.3 1195.0 627.5 1196.0 627.7C1197.0 627.8 1198.0 628.1 1199.0 628.3C1200.0 628.5 1201.0 628.7 1202.0 628.9C1203.0 629.2 1204.0 629.4 1205.0 629.6C1206.0 629.8 1207.0 630.3 1208.0 630.2C1209.0 630.1 1210.0 629.6 1211.0 629.2C1212.0 628.7 1213.0 628.2 1214.0 627.8C1215.0 627.3 1216.0 626.8 1217.0 626.3C1218.0 625.9 1219.0 625.4 1220.0 624.9C1221.0 624.5 1222.0 624.0 1223.0 623.5C1224.0 623.1 1225.0 622.6 1226.0 622.1C1227.0 621.7 1228.0 621.1 1229.0 620.9C1230.0 620.6 1231.0 620.6 1232.0 620.5C1233.0 620.4 1234.0 620.3 1235.0 620.1C1236.0 620.0 1237.0 619.9 1238.0 619.8C1239.0 619.7 1240.0 619.6 1241.0 619.4C1242.0 619.2 1243.0 619.0 1244.0 618.6C1245.0 618.1 1246.0 617.3 1247.0 616.7C1248.0 616.1 1249.0 615.5 1250.0 614.8C1251.0 614.2 1252.0 613.6 1253.0 613.0C1254.0 612.4 1255.0 611.7 1256.0 611.1C1257.0 610.5 1258.0 609.9 1259.0 609.3C1260.0 608.6 1261.0 608.1 1262.0 607.4C1263.0 606.8 1264.0 606.1 1265.0 605.4C1266.0 604.7 1267.0 603.9 1268.0 603.2C1269.0 602.5 1270.0 601.6 1271.0 601.0C1272.0 600.5 1273.0 599.9 1274.0 599.9C1275.0 599.9 1276.0 600.6 1277.0 601.2C1278.0 601.8 1279.0 602.3 1280.0 603.5C1281.0 604.8 1282.0 607.0 1283.0 608.7C1284.0 610.3 1285.0 611.9 1286.0 613.2C1287.0 614.6 1288.0 616.0 1289.0 616.8C1290.0 617.6 1291.5 617.8 1292.0 618.0" stroke="#ac79df" stroke-width="7.5"/>
<path d="M266.0 590.0C266.5 590.0 268.0 589.7 269.0 590.0C270.0 590.3 271.0 590.8 272.0 591.7C273.0 592.5 274.0 593.9 275.0 595.1C276.0 596.3 277.0 597.5 278.0 598.7C279.0 599.9 280.0 601.1 281.0 602.3C282.0 603.5 283.0 604.7 284.0 605.9C285.0 607.1 286.0 608.3 287.0 609.5C288.0 610.7 289.0 611.9 290.0 613.0C291.0 614.2 292.0 615.4 293.0 616.6C294.0 617.8 295.0 619.0 296.0 620.1C297.0 621.3 298.0 622.5 299.0 623.7C300.0 624.9 301.0 626.0 302.0 627.3C303.0 628.5 304.0 629.9 305.0 631.3C306.0 632.6 307.0 633.9 308.0 635.3C309.0 636.6 310.0 638.0 311.0 639.3C312.0 640.6 313.0 642.0 314.0 643.3C315.0 644.6 316.0 645.9 317.0 647.3C318.0 648.6 319.0 649.9 320.0 651.2C321.0 652.6 322.0 653.9 323.0 655.2C324.0 656.6 325.0 658.0 326.0 659.4C327.0 660.8 328.0 662.2 329.0 663.6C330.0 665.0 331.0 666.6 332.0 667.9C333.0 669.2 334.0 670.2 335.0 671.3C336.0 672.4 337.0 673.3 338.0 674.3C339.0 675.3 340.0 676.3 341.0 677.3C342.0 678.3 343.0 679.3 344.0 680.3C345.0 681.3 346.0 682.3 347.0 683.3C348.0 684.2 349.0 685.3 350.0 686.2C351.0 687.1 352.0 687.9 353.0 688.6C354.0 689.3 355.0 690.7 356.0 690.5C357.0 690.3 358.0 688.5 359.0 687.5C360.0 686.5 361.0 685.2 362.0 684.5C363.0 683.8 364.0 683.7 365.0 683.4C366.0 683.1 367.0 683.0 368.0 682.7C369.0 682.3 370.0 681.9 371.0 681.1C372.0 680.3 373.0 679.1 374.0 678.1C375.0 677.1 376.0 676.1 377.0 675.1C378.0 674.1 379.0 673.1 380.0 672.1C381.0 671.1 382.0 669.8 383.0 669.1C384.0 668.4 385.0 668.1 386.0 668.2C387.0 668.3 388.0 669.3 389.0 669.7C390.0 670.0 391.0 670.1 392.0 670.2C393.0 670.3 394.0 670.1 395.0 670.2C396.0 670.3 397.0 670.1 398.0 670.6C399.0 671.0 400.0 672.1 401.0 672.8C402.0 673.6 403.0 674.4 404.0 675.1C405.0 675.9 406.0 676.4 407.0 677.4C408.0 678.4 409.0 679.7 410.0 681.2C411.0 682.7 412.0 684.8 413.0 686.6C414.0 688.4 415.0 689.9 416.0 692.0C417.0 694.0 418.0 696.2 419.0 698.9C420.0 701.6 421.0 704.9 422.0 707.9C423.0 710.9 424.0 715.0 425.0 716.9C426.0 718.8 427.0 718.6 428.0 719.4C429.0 720.1 430.0 720.6 431.0 721.6C432.0 722.5 433.0 723.7 434.0 725.1C435.0 726.5 436.0 728.3 437.0 729.9C438.0 731.5 439.0 733.1 440.0 734.7C441.0 736.2 442.0 737.8 443.0 739.2C444.0 740.7 445.0 742.0 446.0 743.4C447.0 744.8 448.0 746.4 449.0 747.6C450.0 748.9 451.0 750.1 452.0 750.9C453.0 751.6 454.0 751.9 455.0 752.4C456.0 752.9 457.0 753.3 458.0 753.9C459.0 754.5 460.0 755.4 461.0 756.2C462.0 757.0 463.0 757.8 464.0 758.6C465.0 759.4 466.0 760.7 467.0 761.0C468.0 761.2 469.0 760.4 470.0 760.0C471.0 759.6 472.0 759.0 473.0 758.5C474.0 758.0 475.0 757.6 476.0 757.2C477.0 756.8 478.0 756.6 479.0 756.2C480.0 755.9 481.0 755.6 482.0 755.2C483.0 754.9 484.0 755.4 485.0 754.3C486.0 753.1 487.0 750.5 488.0 748.2C489.0 745.9 490.0 743.1 491.0 740.3C492.0 737.4 493.0 733.5 494.0 731.3C495.0 729.0 496.0 728.0 497.0 727.0C498.0 726.0 499.0 725.8 500.0 725.2C501.0 724.6 502.0 724.3 503.0 723.4C504.0 722.5 505.0 721.3 506.0 720.0C507.0 718.7 508.0 717.1 509.0 715.5C510.0 713.9 511.0 712.7 512.0 710.6C513.0 708.5 514.0 705.6 515.0 703.1C516.0 700.7 517.0 698.3 518.0 695.7C519.0 693.0 520.0 690.1 521.0 687.2C522.0 684.3 523.0 681.2 524.0 678.2C525.0 675.2 526.0 672.0 527.0 669.2C528.0 666.4 529.0 663.8 530.0 661.3C531.0 658.8 532.0 656.5 533.0 654.1C534.0 651.7 535.0 649.2 536.0 646.9C537.0 644.6 538.0 642.4 539.0 640.3C540.0 638.2 541.0 636.3 542.0 634.3C543.0 632.3 544.0 630.3 545.0 628.3C546.0 626.3 547.0 624.4 548.0 622.6C549.0 620.7 550.0 619.0 551.0 617.2C552.0 615.4 553.0 613.8 554.0 611.8C555.0 609.8 556.0 607.7 557.0 605.3C558.0 602.8 559.0 599.7 560.0 596.9C561.0 594.1 562.0 590.9 563.0 588.6C564.0 586.3 565.0 584.9 566.0 583.0C567.0 581.2 568.0 579.4 569.0 577.6C570.0 575.7 571.0 573.9 572.0 572.1C573.0 570.3 574.0 568.5 575.0 566.7C576.0 564.8 577.0 563.0 578.0 561.2C579.0 559.4 580.0 557.5 581.0 555.8C582.0 554.1 583.0 552.2 584.0 551.0C585.0 549.8 586.0 549.3 587.0 548.5C588.0 547.7 589.0 546.8 590.0 546.0C591.0 545.1 592.0 544.1 593.0 543.5C594.0 542.9 595.0 542.6 596.0 542.5C597.0 542.3 598.0 542.7 599.0 542.8C600.0 542.8 601.0 543.0 602.0 543.0C603.0 543.1 604.0 543.2 605.0 543.2C606.0 543.2 607.0 543.2 608.0 543.2C609.0 543.2 610.0 543.3 611.0 543.2C612.0 543.1 613.0 543.0 614.0 542.6C615.0 542.3 616.0 541.7 617.0 541.1C618.0 540.5 619.0 539.8 620.0 539.0C621.0 538.2 622.0 537.2 623.0 536.4C624.0 535.6 625.0 534.2 626.0 534.2C627.0 534.1 628.0 535.4 629.0 536.1C630.0 536.7 631.0 537.3 632.0 537.9C633.0 538.6 634.0 539.1 635.0 539.8C636.0 540.6 637.0 541.4 638.0 542.4C639.0 543.4 640.0 544.6 641.0 545.6C642.0 546.7 643.0 547.8 644.0 548.9C645.0 549.9 646.0 550.9 647.0 552.1C648.0 553.3 649.0 554.6 650.0 556.0C651.0 557.4 652.0 559.0 653.0 560.5C654.0 562.1 655.0 563.6 656.0 565.1C657.0 566.6 658.0 568.4 659.0 569.6C660.0 570.8 661.0 571.3 662.0 572.1C663.0 572.9 664.0 573.6 665.0 574.4C666.0 575.1 667.0 576.0 668.0 576.6C669.0 577.3 670.0 578.2 671.0 578.2C672.0 578.1 673.0 576.9 674.0 576.2C675.0 575.6 676.0 575.0 677.0 574.3C678.0 573.7 679.0 573.0 680.0 572.4C681.0 571.7 682.0 570.8 683.0 570.5C684.0 570.1 685.0 570.2 686.0 570.2C687.0 570.2 688.0 570.2 689.0 570.2C690.0 570.2 691.0 570.9 692.0 570.2C693.0 569.5 694.0 567.7 695.0 566.3C696.0 564.8 697.0 563.0 698.0 561.3C699.0 559.7 700.0 558.0 701.0 556.5C702.0 554.9 703.0 553.1 704.0 552.1C705.0 551.1 706.0 550.9 707.0 550.4C708.0 549.8 709.0 549.2 710.0 548.6C711.0 548.1 712.0 547.1 713.0 547.1C714.0 547.1 715.0 548.0 716.0 548.5C717.0 548.9 718.0 549.4 719.0 549.9C720.0 550.5 721.0 551.0 722.0 551.7C723.0 552.4 724.0 553.3 725.0 554.0C726.0 554.8 727.0 555.6 728.0 556.3C729.0 557.1 730.0 558.2 731.0 558.6C732.0 558.9 733.0 558.4 734.0 558.2C735.0 558.1 736.0 557.9 737.0 557.7C738.0 557.6 739.0 557.0 740.0 557.2C741.0 557.5 742.0 558.6 743.0 559.4C744.0 560.2 745.0 561.1 746.0 561.9C747.0 562.8 748.0 563.6 749.0 564.5C750.0 565.3 751.0 566.2 752.0 567.0C753.0 567.9 754.0 569.2 755.0 569.6C756.0 570.0 757.0 569.4 758.0 569.3C759.0 569.1 760.0 569.0 761.0 568.8C762.0 568.7 763.0 568.1 764.0 568.4C765.0 568.7 766.0 569.9 767.0 570.8C768.0 571.7 769.0 572.8 770.0 573.7C771.0 574.7 772.0 575.7 773.0 576.6C774.0 577.6 775.0 578.6 776.0 579.6C777.0 580.6 778.0 581.6 779.0 582.6C780.0 583.6 781.0 584.5 782.0 585.4C783.0 586.4 784.0 587.3 785.0 588.3C786.0 589.2 787.0 590.2 788.0 590.9C789.0 591.7 790.0 592.4 791.0 592.7C792.0 593.1 793.0 593.0 794.0 593.0C795.0 593.1 796.0 593.2 797.0 593.1C798.0 593.0 799.0 592.9 800.0 592.4C801.0 592.0 802.0 591.2 803.0 590.6C804.0 589.9 805.0 589.3 806.0 588.7C807.0 588.1 808.0 587.4 809.0 586.8C810.0 586.2 811.0 585.5 812.0 584.9C813.0 584.4 814.0 583.9 815.0 583.6C816.0 583.4 817.0 583.5 818.0 583.4C819.0 583.3 820.0 583.2 821.0 583.1C822.0 583.1 823.0 582.9 824.0 583.0C825.0 583.1 826.0 583.4 827.0 583.8C828.0 584.1 829.0 585.0 830.0 585.0C831.0 585.0 832.0 584.4 833.0 583.9C834.0 583.4 835.0 582.7 836.0 582.2C837.0 581.6 838.0 580.6 839.0 580.5C840.0 580.3 841.0 580.8 842.0 581.4C843.0 581.9 844.0 582.9 845.0 583.7C846.0 584.5 847.0 585.3 848.0 586.1C849.0 586.9 850.0 587.8 851.0 588.5C852.0 589.2 853.0 589.8 854.0 590.4C855.0 591.1 856.0 591.7 857.0 592.4C858.0 593.0 859.0 593.9 860.0 594.3C861.0 594.7 862.0 595.0 863.0 594.9C864.0 594.8 865.0 594.2 866.0 593.9C867.0 593.5 868.0 593.2 869.0 592.8C870.0 592.5 871.0 592.1 872.0 591.8C873.0 591.5 874.0 590.8 875.0 590.9C876.0 591.1 877.0 592.0 878.0 592.6C879.0 593.2 880.0 593.8 881.0 594.4C882.0 595.1 883.0 595.7 884.0 596.3C885.0 596.9 886.0 597.6 887.0 598.2C888.0 598.8 889.0 599.5 890.0 600.0C891.0 600.6 892.0 600.9 893.0 601.3C894.0 601.6 895.0 601.8 896.0 602.0C897.0 602.2 898.0 602.5 899.0 602.7C900.0 603.0 901.0 603.2 902.0 603.5C903.0 603.7 904.0 603.9 905.0 604.2C906.0 604.4 907.0 604.8 908.0 604.9C909.0 605.0 910.0 605.1 911.0 605.0C912.0 604.8 913.0 604.3 914.0 604.0C915.0 603.7 916.0 603.1 917.0 603.1C918.0 603.0 919.0 603.0 920.0 603.8C921.0 604.6 922.0 606.4 923.0 607.8C924.0 609.1 925.0 610.5 926.0 611.9C927.0 613.2 928.0 614.6 929.0 616.0C930.0 617.3 931.0 618.9 932.0 620.0C933.0 621.2 934.0 622.2 935.0 622.9C936.0 623.6 937.0 623.8 938.0 624.2C939.0 624.6 940.0 625.0 941.0 625.5C942.0 625.9 943.0 626.3 944.0 626.7C945.0 627.1 946.0 627.5 947.0 628.0C948.0 628.4 949.0 628.8 950.0 629.2C951.0 629.6 952.0 630.1 953.0 630.5C954.0 630.9 955.0 631.4 956.0 631.6C957.0 631.9 958.0 632.0 959.0 632.1C960.0 632.2 961.0 632.3 962.0 632.4C963.0 632.5 964.0 632.4 965.0 632.8C966.0 633.2 967.0 634.0 968.0 634.5C969.0 635.1 970.0 635.8 971.0 636.4C972.0 637.0 973.0 637.6 974.0 638.2C975.0 638.8 976.0 639.4 977.0 640.0C978.0 640.6 979.0 641.3 980.0 641.7C981.0 642.1 982.0 642.3 983.0 642.6C984.0 642.8 985.0 643.1 986.0 643.4C987.0 643.7 988.0 644.1 989.0 644.2C990.0 644.4 991.0 644.4 992.0 644.3C993.0 644.1 994.0 643.6 995.0 643.2C996.0 642.9 997.0 642.5 998.0 642.2C999.0 641.8 1000.0 641.4 1001.0 641.2C1002.0 640.9 1003.0 640.5 1004.0 640.5C1005.0 640.6 1006.0 641.1 1007.0 641.4C1008.0 641.7 1009.0 642.0 1010.0 642.2C1011.0 642.5 1012.0 642.9 1013.0 643.1C1014.0 643.3 1015.0 643.4 1016.0 643.5C1017.0 643.6 1018.0 643.5 1019.0 643.5C1020.0 643.5 1021.0 643.5 1022.0 643.5C1023.0 643.5 1024.0 643.5 1025.0 643.5C1026.0 643.5 1027.0 643.4 1028.0 643.5C1029.0 643.6 1030.0 643.8 1031.0 644.0C1032.0 644.2 1033.0 644.5 1034.0 644.7C1035.0 644.9 1036.0 645.2 1037.0 645.4C1038.0 645.6 1039.0 646.0 1040.0 646.1C1041.0 646.2 1042.0 646.1 1043.0 645.8C1044.0 645.4 1045.0 644.7 1046.0 644.1C1047.0 643.6 1048.0 643.0 1049.0 642.5C1050.0 641.9 1051.0 641.4 1052.0 640.8C1053.0 640.3 1054.0 639.7 1055.0 639.2C1056.0 638.6 1057.0 638.1 1058.0 637.5C1059.0 637.0 1060.0 636.5 1061.0 636.0C1062.0 635.5 1063.0 634.9 1064.0 634.4C1065.0 633.9 1066.0 633.4 1067.0 632.9C1068.0 632.3 1069.0 631.4 1070.0 631.3C1071.0 631.2 1072.0 631.8 1073.0 632.1C1074.0 632.4 1075.0 632.8 1076.0 633.2C1077.0 633.6 1078.0 634.0 1079.0 634.4C1080.0 634.8 1081.0 635.2 1082.0 635.5C1083.0 635.9 1084.0 636.7 1085.0 636.4C1086.0 636.1 1087.0 634.7 1088.0 633.8C1089.0 632.9 1090.0 632.0 1091.0 631.1C1092.0 630.3 1093.0 629.4 1094.0 628.5C1095.0 627.6 1096.0 626.6 1097.0 625.9C1098.0 625.1 1099.0 624.2 1100.0 623.8C1101.0 623.5 1102.0 623.8 1103.0 623.8C1104.0 623.8 1105.0 623.8 1106.0 623.8C1107.0 623.8 1108.0 623.8 1109.0 623.8C1110.0 623.9 1111.0 624.2 1112.0 623.9C1113.0 623.6 1114.0 622.7 1115.0 622.0C1116.0 621.4 1117.0 620.6 1118.0 619.9C1119.0 619.3 1120.0 618.6 1121.0 617.9C1122.0 617.2 1123.0 616.5 1124.0 615.8C1125.0 615.1 1126.0 614.4 1127.0 613.7C1128.0 613.0 1129.0 611.8 1130.0 611.6C1131.0 611.5 1132.0 612.2 1133.0 612.7C1134.0 613.3 1135.0 614.2 1136.0 615.0C1137.0 615.7 1138.0 616.5 1139.0 617.2C1140.0 618.0 1141.0 618.7 1142.0 619.5C1143.0 620.2 1144.0 621.2 1145.0 621.7C1146.0 622.2 1147.0 622.1 1148.0 622.2C1149.0 622.3 1150.0 622.3 1151.0 622.4C1152.0 622.5 1153.0 622.4 1154.0 622.7C1155.0 622.9 1156.0 623.4 1157.0 623.8C1158.0 624.2 1159.0 624.6 1160.0 625.0C1161.0 625.4 1162.0 625.8 1163.0 626.2C1164.0 626.6 1165.0 627.0 1166.0 627.3C1167.0 627.7 1168.0 628.0 1169.0 628.1C1170.0 628.2 1171.0 628.0 1172.0 627.9C1173.0 627.9 1174.0 627.8 1175.0 627.7C1176.0 627.6 1177.0 627.5 1178.0 627.5C1179.0 627.5 1180.0 627.6 1181.0 627.6C1182.0 627.6 1183.0 627.7 1184.0 627.7C1185.0 627.8 1186.0 627.8 1187.0 627.9C1188.0 627.9 1189.0 628.0 1190.0 628.0C1191.0 628.1 1192.0 628.0 1193.0 628.1C1194.0 628.2 1195.0 628.4 1196.0 628.6C1197.0 628.8 1198.0 629.0 1199.0 629.2C1200.0 629.4 1201.0 629.6 1202.0 629.8C1203.0 630.0 1204.0 630.3 1205.0 630.5C1206.0 630.7 1207.0 631.2 1208.0 631.1C1209.0 631.0 1210.0 630.4 1211.0 630.0C1212.0 629.6 1213.0 629.1 1214.0 628.6C1215.0 628.2 1216.0 627.7 1217.0 627.2C1218.0 626.8 1219.0 626.3 1220.0 625.8C1221.0 625.3 1222.0 624.9 1223.0 624.4C1224.0 623.9 1225.0 623.5 1226.0 623.0C1227.0 622.6 1228.0 622.0 1229.0 621.7C1230.0 621.5 1231.0 621.5 1232.0 621.3C1233.0 621.2 1234.0 621.1 1235.0 620.9C1236.0 620.8 1237.0 620.7 1238.0 620.6C1239.0 620.4 1240.0 620.4 1241.0 620.2C1242.0 619.9 1243.0 619.7 1244.0 619.3C1245.0 618.8 1246.0 618.0 1247.0 617.4C1248.0 616.7 1249.0 616.1 1250.0 615.5C1251.0 614.8 1252.0 614.2 1253.0 613.6C1254.0 612.9 1255.0 612.3 1256.0 611.7C1257.0 611.0 1258.0 610.4 1259.0 609.8C1260.0 609.2 1261.0 608.6 1262.0 607.9C1263.0 607.2 1264.0 606.5 1265.0 605.8C1266.0 605.1 1267.0 604.4 1268.0 603.7C1269.0 602.9 1270.0 602.1 1271.0 601.5C1272.0 601.0 1273.0 600.4 1274.0 600.4C1275.0 600.5 1276.0 601.1 1277.0 601.8C1278.0 602.4 1279.0 603.1 1280.0 604.4C1281.0 605.7 1282.0 608.0 1283.0 609.6C1284.0 611.2 1285.0 612.8 1286.0 614.1C1287.0 615.5 1288.0 616.9 1289.0 617.7C1290.0 618.5 1291.5 618.7 1292.0 618.9" stroke="#c99700" stroke-width="7.5"/>
<path d="M270.0 590.0C270.4 590.3 270.5 589.8 272.4 592.0C274.3 594.2 278.5 599.3 281.6 603.0C284.7 606.7 287.4 610.0 290.8 614.0C294.2 618.0 298.1 622.4 301.8 627.0C305.5 631.6 309.1 636.8 312.8 641.7C316.5 646.6 320.5 651.8 323.9 656.4C327.3 661.0 329.6 665.3 333.0 669.3C336.4 673.3 340.9 677.2 344.0 680.3C347.1 683.4 349.5 686.0 351.5 687.7C353.5 689.4 354.2 691.1 356.0 690.5C357.8 689.9 360.2 685.4 362.5 684.0C364.8 682.6 367.4 683.7 369.9 682.2C372.4 680.7 374.9 677.2 377.3 674.8C379.8 672.3 382.5 668.3 384.6 667.5C386.7 666.7 388.0 669.8 390.1 670.2C392.2 670.7 394.4 668.8 397.5 670.2C400.6 671.6 405.1 674.4 408.5 678.5C411.9 682.6 414.9 688.5 417.7 695.0C420.5 701.5 422.6 712.6 425.1 717.2C427.6 721.8 429.7 719.3 432.5 722.7C435.3 726.1 438.6 732.8 441.7 737.4C444.8 742.0 448.1 747.5 450.9 750.3C453.6 753.1 455.4 752.2 458.2 754.0C460.9 755.8 464.6 760.7 467.4 761.3C470.2 761.9 471.7 758.8 474.8 757.6C477.9 756.4 483.0 757.1 485.8 754.0C488.6 750.9 489.9 743.5 491.4 739.2C492.9 734.9 492.9 731.0 495.0 728.2C497.1 725.5 501.4 725.5 504.2 722.7C507.0 719.9 509.1 716.5 511.6 711.6C514.1 706.7 516.2 700.9 519.0 693.2C521.8 685.5 525.1 673.9 528.2 665.6C531.3 657.3 534.3 650.2 537.4 643.5C540.5 636.8 543.5 630.9 546.6 625.1C549.7 619.3 553.0 614.7 555.8 608.6C558.5 602.5 560.0 595.0 563.1 588.3C566.2 581.5 570.8 574.2 574.2 568.1C577.6 562.0 580.0 555.8 583.4 551.5C586.8 547.2 591.0 543.7 594.4 542.3C597.8 540.9 600.5 543.1 603.6 543.2C606.7 543.4 610.3 543.7 612.8 543.2C615.2 542.8 616.1 542.0 618.3 540.5C620.4 539.0 622.7 534.0 625.7 534.0C628.7 534.0 632.6 537.4 636.4 540.7C640.2 544.0 644.6 548.7 648.4 553.6C652.2 558.5 655.7 566.1 659.4 570.2C663.1 574.4 666.5 578.5 670.5 578.5C674.5 578.5 679.7 571.6 683.4 570.2C687.1 568.8 689.2 573.0 692.6 570.2C696.0 567.4 700.2 557.3 703.6 553.6C707.0 549.9 709.7 548.1 712.8 548.1C715.9 548.1 718.9 551.5 722.0 553.6C725.1 555.8 728.1 560.1 731.2 561.0C734.3 561.9 736.4 557.3 740.4 559.1C744.4 560.9 751.1 570.1 755.1 572.0C759.1 573.9 760.6 568.4 764.3 570.2C768.0 572.1 772.9 579.1 777.2 583.1C781.5 587.1 786.4 592.3 790.1 594.1C793.8 595.9 795.3 595.6 799.3 594.1C803.3 592.6 809.7 586.4 814.0 584.9C818.3 583.4 822.3 584.4 825.1 584.9C827.9 585.4 828.2 588.0 830.6 587.7C833.0 587.4 836.4 582.3 839.8 583.1C843.2 583.9 847.1 589.5 850.8 592.3C854.5 595.0 857.9 599.1 861.9 599.6C865.9 600.1 869.9 594.1 874.8 595.0C879.7 595.9 885.5 602.8 891.3 605.1C897.1 607.4 905.1 608.8 909.7 608.8C914.3 608.8 914.9 602.3 918.9 605.1C922.9 607.9 927.5 620.6 933.6 625.4C939.7 630.2 950.5 632.2 955.7 633.7C960.9 635.2 960.9 632.9 964.9 634.6C968.9 636.3 975.3 641.8 979.6 643.8C983.9 645.8 986.7 646.8 990.7 646.5C994.7 646.2 999.7 642.1 1003.6 641.9C1007.5 641.7 1010.2 644.7 1014.4 645.2C1018.6 645.8 1024.2 644.7 1028.8 645.2C1033.3 645.7 1036.9 649.1 1041.7 648.1C1046.5 647.1 1052.7 642.0 1057.5 639.4C1062.3 636.8 1065.9 632.5 1070.4 632.3C1075.0 632.1 1080.0 639.2 1084.8 638.0C1089.6 636.8 1094.7 627.2 1099.2 625.1C1103.8 623.0 1106.8 627.3 1112.1 625.1C1117.4 622.9 1125.3 612.5 1130.8 612.1C1136.3 611.7 1141.4 621.0 1145.2 622.9C1149.0 624.8 1150.0 622.5 1153.8 623.6C1157.6 624.7 1164.1 628.5 1168.2 629.4C1172.3 630.2 1174.0 628.7 1178.3 628.7C1182.6 628.7 1189.1 628.8 1194.1 629.4C1199.1 630.0 1202.8 633.4 1208.5 632.3C1214.2 631.2 1222.8 624.8 1228.6 622.9C1234.3 621.0 1237.2 623.3 1243.0 620.8C1248.8 618.3 1258.1 611.2 1263.1 607.8C1268.1 604.4 1270.5 601.3 1273.1 600.6C1275.7 599.9 1277.0 601.3 1278.9 603.5C1280.8 605.7 1282.8 610.9 1284.6 613.6C1286.4 616.4 1289.1 618.9 1290.0 620.0" stroke="#00cccc" stroke-width="7.5"/>
</g>
<rect x="270.0" y="105.0" width="1018.0" height="821.0" fill="none" stroke="#000" stroke-width="5.8"/>
<path d="M270.0 926.0V910.0M354.8 926.0V917.5M439.7 926.0V910.0M524.5 926.0V917.5M609.3 926.0V910.0M694.2 926.0V917.5M779.0 926.0V910.0M863.8 926.0V917.5M948.7 926.0V910.0M1033.5 926.0V917.5M1118.3 926.0V910.0M1203.2 926.0V917.5M1288.0 926.0V910.0M270.0 926.0H286.0M270.0 857.6H278.5M270.0 789.2H286.0M270.0 720.8H278.5M270.0 652.3H286.0M270.0 583.9H278.5M270.0 515.5H286.0M270.0 447.1H278.5M270.0 378.7H286.0M270.0 310.2H278.5M270.0 241.8H286.0M270.0 173.4H278.5M270.0 105.0H286.0" stroke="#000" stroke-width="5.7" fill="none"/>
<g style="font-family:'Liberation Sans',sans-serif;font-size:56px" fill="#000">
<text x="252.0" y="943.0" text-anchor="end">0.00</text>
<text x="252.0" y="806.2" text-anchor="end">0.02</text>
<text x="252.0" y="669.3" text-anchor="end">0.04</text>
<text x="252.0" y="532.5" text-anchor="end">0.06</text>
<text x="252.0" y="395.7" text-anchor="end">0.08</text>
<text x="252.0" y="258.8" text-anchor="end">0.10</text>
<text x="252.0" y="122.0" text-anchor="end">0.12</text>
<text x="270.0" y="987.0" text-anchor="middle">8</text>
<text x="439.7" y="987.0" text-anchor="middle">9</text>
<text x="609.3" y="987.0" text-anchor="middle">10</text>
<text x="779.0" y="987.0" text-anchor="middle">11</text>
<text x="948.7" y="987.0" text-anchor="middle">12</text>
<text x="1118.3" y="987.0" text-anchor="middle">13</text>
<text x="1288.0" y="987.0" text-anchor="middle">14</text>
</g>
<text x="118.2" y="516.0" style="font-family:'Liberation Serif',serif;font-size:72px" transform="rotate(-90 118.2 516.0)" text-anchor="middle">Reflectance</text>
<text x="526.0" y="1072.4" style="font-family:'Liberation Serif',serif;font-size:72px;letter-spacing:0.6px">Wavelength (<tspan font-style="italic">&#956;</tspan>m)</text>
<text x="46.0" y="101.5" style="font-family:'Liberation Serif',serif;font-size:50px;font-weight:bold">(a)</text>
<path d="M343.0 153.5H430.0" stroke="#7a7a7a" stroke-width="7.5" stroke-dasharray="13.5 23"/>
<text x="458.5" y="169.5" style="font-family:'Liberation Serif',serif;font-size:47px">Fresh <tspan font-style="italic">Magnolia</tspan> leaf</text>
<path d="M343.0 211.1H447.0" stroke="#ee3d40" stroke-width="7.5"/>
<text x="458.5" y="227.1" style="font-family:'Liberation Serif',serif;font-size:47px">0%</text>
<path d="M343.0 268.7H447.0" stroke="#1f6bdb" stroke-width="7.5"/>
<text x="458.5" y="284.7" style="font-family:'Liberation Serif',serif;font-size:47px">10%</text>
<path d="M343.0 326.3H447.0" stroke="#3aa96b" stroke-width="7.5"/>
<text x="458.5" y="342.3" style="font-family:'Liberation Serif',serif;font-size:47px">20%</text>
<path d="M343.0 383.9H447.0" stroke="#ac79df" stroke-width="7.5"/>
<text x="458.5" y="399.9" style="font-family:'Liberation Serif',serif;font-size:47px">30%</text>
<path d="M343.0 441.5H447.0" stroke="#c99700" stroke-width="7.5"/>
<text x="458.5" y="457.5" style="font-family:'Liberation Serif',serif;font-size:47px">40%</text>
<path d="M343.0 499.1H447.0" stroke="#00cccc" stroke-width="7.5"/>
<text x="458.5" y="515.1" style="font-family:'Liberation Serif',serif;font-size:47px">50%</text>
<clipPath id="clipb"><rect x="1598.0" y="111.0" width="1015.0" height="818.5"/></clipPath>
<g clip-path="url(#clipb)" fill="none" stroke-linejoin="round" stroke-linecap="round">
<path d="M1598.0 732.0C1598.7 732.1 1597.5 732.4 1601.9 732.5C1606.3 732.6 1616.5 730.9 1624.3 732.5C1632.1 734.1 1641.0 738.8 1648.5 742.0C1656.0 745.2 1663.2 746.8 1669.2 751.5C1675.2 756.2 1678.7 769.9 1684.7 770.5C1690.7 771.1 1699.1 758.4 1705.4 754.9C1711.7 751.4 1716.4 748.1 1722.7 749.8C1729.0 751.5 1735.9 763.6 1743.4 765.3C1750.9 767.0 1757.5 763.8 1767.5 760.1C1777.5 756.4 1794.8 748.1 1803.7 742.9C1812.6 737.7 1816.7 734.9 1821.0 729.1C1825.3 723.4 1825.3 714.5 1829.6 708.4C1833.9 702.3 1842.0 700.0 1846.9 692.8C1851.8 685.6 1854.6 673.0 1858.9 665.2C1863.2 657.5 1867.8 652.6 1872.7 646.3C1877.6 640.0 1882.8 633.9 1888.3 627.3C1893.8 620.7 1898.6 610.9 1905.5 606.6C1912.4 602.3 1924.5 602.7 1929.7 601.4C1934.9 600.1 1933.5 600.3 1936.5 598.9C1939.5 597.5 1944.2 593.6 1948.0 593.2C1951.8 592.8 1952.6 592.0 1959.5 596.6C1966.4 601.2 1981.0 616.8 1989.4 620.8C1997.8 624.8 2002.4 617.0 2010.1 620.8C2017.8 624.6 2029.3 638.4 2035.4 643.8C2041.5 649.2 2042.3 648.4 2046.9 653.0C2051.5 657.6 2056.5 666.0 2063.0 671.4C2069.5 676.8 2079.1 681.0 2086.0 685.2C2092.9 689.4 2097.5 692.0 2104.4 696.6C2111.3 701.2 2120.1 708.9 2127.4 712.7C2134.7 716.5 2142.3 717.3 2148.1 719.6C2153.8 721.9 2156.5 724.6 2161.9 726.5C2167.3 728.4 2173.8 728.8 2180.3 731.1C2186.8 733.4 2193.3 736.5 2201.0 740.3C2208.7 744.1 2218.5 750.6 2226.2 754.1C2233.8 757.6 2238.8 757.9 2246.9 761.0C2255.0 764.1 2269.2 769.8 2275.0 772.5C2280.8 775.2 2276.4 775.0 2281.6 777.4C2286.8 779.8 2297.8 784.8 2306.4 786.7C2315.0 788.6 2324.0 788.3 2333.3 788.8C2342.6 789.3 2353.7 788.8 2362.3 789.8C2370.9 790.8 2376.5 792.9 2385.1 795.0C2393.7 797.1 2404.0 800.3 2414.0 802.2C2424.0 804.1 2435.1 806.8 2445.1 806.4C2455.1 806.0 2465.1 800.1 2474.1 800.1C2483.1 800.1 2491.0 806.9 2498.9 806.4C2506.8 805.9 2512.4 799.1 2521.7 797.0C2531.0 794.9 2544.8 794.8 2554.8 793.9C2564.8 793.0 2573.8 793.3 2581.7 791.9C2589.6 790.5 2596.5 787.1 2602.4 785.7C2608.3 784.3 2614.5 784.0 2616.9 783.6" stroke="#7a7a7a" stroke-width="6.2" stroke-dasharray="11 12" stroke-linecap="butt"/>
<path d="M1595.0 769.1C1596.2 769.2 1599.0 768.8 1601.9 769.6C1604.8 770.4 1607.7 773.3 1612.3 773.9C1616.9 774.5 1624.9 772.3 1629.5 773.0C1634.1 773.7 1636.5 774.9 1639.9 778.2C1643.4 781.5 1646.2 789.0 1650.2 792.9C1654.2 796.8 1660.5 799.5 1664.0 801.5C1667.5 803.5 1668.9 802.1 1670.9 805.0C1672.9 807.9 1674.7 815.9 1676.1 818.8C1677.5 821.7 1678.1 825.1 1679.5 822.2C1680.9 819.3 1682.7 809.0 1684.7 801.5C1686.7 794.0 1689.3 783.1 1691.6 777.4C1693.9 771.6 1695.9 769.9 1698.5 767.0C1701.1 764.1 1703.6 759.8 1707.1 760.1C1710.5 760.4 1714.9 765.4 1719.2 768.7C1723.5 772.0 1729.3 779.6 1733.0 779.9C1736.7 780.2 1738.1 772.6 1741.6 770.5C1745.0 768.4 1750.0 769.0 1753.7 767.0C1757.5 765.0 1760.9 762.4 1764.1 758.4C1767.3 754.4 1769.5 746.5 1772.7 742.9C1775.9 739.3 1780.1 737.8 1783.0 736.8C1785.9 735.8 1787.3 737.8 1789.9 736.8C1792.5 735.8 1796.0 731.4 1798.6 730.8C1801.2 730.2 1802.9 734.8 1805.5 733.4C1808.1 732.0 1811.2 726.7 1814.1 722.2C1817.0 717.7 1819.8 710.6 1822.7 706.6C1825.6 702.6 1828.7 701.5 1831.3 698.0C1833.9 694.5 1835.9 689.1 1838.2 685.9C1840.5 682.7 1842.5 682.5 1845.1 679.0C1847.7 675.5 1850.9 669.5 1853.8 665.2C1856.7 660.9 1860.1 657.2 1862.4 653.2C1864.7 649.2 1865.3 644.6 1867.6 641.1C1869.9 637.6 1873.9 635.4 1876.2 632.5C1878.5 629.6 1879.1 626.1 1881.4 623.8C1883.7 621.5 1886.5 621.3 1890.0 618.7C1893.5 616.1 1898.6 609.8 1902.1 608.3C1905.5 606.8 1907.8 611.7 1910.7 610.0C1913.6 608.3 1916.4 600.3 1919.3 598.0C1922.2 595.7 1925.0 597.6 1927.9 596.2C1930.8 594.8 1933.2 591.6 1936.5 589.7C1939.8 587.9 1944.2 584.1 1948.0 585.1C1951.8 586.1 1955.7 594.1 1959.5 595.5C1963.3 596.9 1967.9 594.0 1971.0 593.2C1974.1 592.4 1974.1 590.5 1977.9 590.9C1981.7 591.3 1989.4 597.4 1994.0 595.5C1998.6 593.6 2001.7 587.1 2005.5 579.4C2009.3 571.7 2013.2 562.1 2017.0 549.5C2020.8 536.9 2024.7 516.9 2028.5 503.5C2032.3 490.1 2036.2 477.1 2040.0 469.0C2043.8 460.9 2047.7 459.4 2051.5 455.2C2055.3 451.0 2058.8 446.6 2063.0 443.7C2067.2 440.8 2073.0 437.5 2076.8 437.9C2080.6 438.3 2082.6 439.3 2086.0 446.0C2089.4 452.7 2093.7 465.6 2097.5 478.2C2101.3 490.8 2105.2 505.8 2109.0 521.9C2112.8 538.0 2116.7 561.8 2120.5 574.8C2124.3 587.8 2128.2 600.1 2132.0 600.1C2135.8 600.1 2139.7 589.0 2143.5 574.8C2147.3 560.6 2151.2 533.4 2155.0 515.0C2158.8 496.6 2163.4 476.7 2166.5 464.4C2169.6 452.1 2170.7 446.2 2173.4 441.4C2176.1 436.6 2179.9 437.5 2182.6 435.6C2185.3 433.7 2186.4 429.7 2189.5 429.9C2192.6 430.1 2197.2 434.1 2201.0 436.8C2204.8 439.5 2208.7 441.0 2212.5 446.0C2216.3 451.0 2220.1 460.9 2223.9 466.7C2227.7 472.4 2231.6 476.3 2235.4 480.5C2239.2 484.7 2243.1 487.8 2246.9 492.0C2250.7 496.2 2254.6 499.7 2258.4 505.8C2262.2 511.9 2267.1 523.8 2269.9 528.8C2272.7 533.8 2272.4 532.9 2275.0 535.7C2277.6 538.5 2280.5 539.0 2285.7 545.5C2290.9 552.0 2299.5 565.2 2306.4 574.5C2313.3 583.8 2320.2 594.1 2327.1 601.4C2334.0 608.6 2340.9 612.5 2347.8 618.0C2354.7 623.5 2361.6 629.3 2368.5 634.5C2375.4 639.7 2382.3 644.5 2389.2 649.0C2396.1 653.5 2403.0 657.4 2409.9 661.5C2416.8 665.6 2423.7 670.1 2430.6 673.9C2437.5 677.7 2444.4 680.9 2451.3 684.2C2458.2 687.5 2465.1 690.6 2472.0 693.5C2478.9 696.4 2485.8 698.9 2492.7 701.8C2499.6 704.7 2506.5 708.9 2513.4 711.1C2520.3 713.4 2527.9 714.3 2534.1 715.3C2540.3 716.3 2545.5 717.6 2550.7 717.3C2555.9 716.9 2560.3 713.2 2565.1 713.2C2569.9 713.2 2574.4 717.5 2579.6 717.3C2584.8 717.1 2591.2 712.7 2596.2 712.2C2601.2 711.7 2607.4 713.9 2609.7 714.2" stroke="#ee3d40" stroke-width="7.5"/>
<path d="M1595.0 773.9C1596.2 774.0 1599.0 774.1 1601.9 774.8C1604.8 775.5 1607.7 777.6 1612.3 778.2C1616.9 778.9 1624.9 778.0 1629.5 778.7C1634.1 779.4 1636.5 778.9 1639.9 782.5C1643.4 786.1 1646.2 796.7 1650.2 800.6C1654.2 804.5 1660.5 804.3 1664.0 805.8C1667.5 807.2 1668.9 806.8 1670.9 809.3C1672.9 811.8 1674.7 818.4 1676.1 820.5C1677.5 822.6 1678.1 825.4 1679.5 822.2C1680.9 819.0 1682.7 809.0 1684.7 801.5C1686.7 794.0 1689.3 783.1 1691.6 777.4C1693.9 771.6 1695.9 769.9 1698.5 767.0C1701.1 764.1 1703.6 759.8 1707.1 760.1C1710.5 760.4 1714.9 765.4 1719.2 768.7C1723.5 772.0 1729.3 779.6 1733.0 779.9C1736.7 780.2 1738.1 772.6 1741.6 770.5C1745.0 768.4 1750.0 769.0 1753.7 767.0C1757.5 765.0 1760.9 762.4 1764.1 758.4C1767.3 754.4 1769.5 746.5 1772.7 742.9C1775.9 739.3 1780.1 737.8 1783.0 736.8C1785.9 735.8 1787.3 737.8 1789.9 736.8C1792.5 735.8 1796.0 731.4 1798.6 730.8C1801.2 730.2 1802.9 734.8 1805.5 733.4C1808.1 732.0 1811.2 726.7 1814.1 722.2C1817.0 717.7 1819.8 710.6 1822.7 706.6C1825.6 702.6 1828.7 701.5 1831.3 698.0C1833.9 694.5 1835.9 689.1 1838.2 685.9C1840.5 682.7 1842.5 682.5 1845.1 679.0C1847.7 675.5 1850.9 669.5 1853.8 665.2C1856.7 660.9 1860.1 657.2 1862.4 653.2C1864.7 649.2 1865.3 644.6 1867.6 641.1C1869.9 637.6 1873.9 635.4 1876.2 632.5C1878.5 629.6 1879.1 626.1 1881.4 623.8C1883.7 621.5 1886.5 621.3 1890.0 618.7C1893.5 616.1 1898.6 609.8 1902.1 608.3C1905.5 606.8 1907.8 611.7 1910.7 610.0C1913.6 608.3 1916.4 600.3 1919.3 598.0C1922.2 595.7 1925.0 597.6 1927.9 596.2C1930.8 594.8 1933.2 591.6 1936.5 589.7C1939.8 587.9 1944.2 584.1 1948.0 585.1C1951.8 586.1 1955.7 593.0 1959.5 595.5C1963.3 598.0 1965.2 598.2 1971.0 600.1C1976.8 602.0 1988.2 607.8 1994.0 607.0C1999.8 606.2 2001.7 600.9 2005.5 595.5C2009.3 590.1 2013.2 582.5 2017.0 574.8C2020.8 567.1 2024.7 558.7 2028.5 549.5C2032.3 540.3 2036.2 526.5 2040.0 519.6C2043.8 512.7 2047.7 511.2 2051.5 508.1C2055.3 505.0 2059.2 502.4 2063.0 501.2C2066.8 500.0 2070.7 499.3 2074.5 501.2C2078.3 503.1 2082.2 506.6 2086.0 512.7C2089.8 518.8 2093.7 526.9 2097.5 538.0C2101.3 549.1 2105.2 566.0 2109.0 579.4C2112.8 592.8 2116.7 608.9 2120.5 618.5C2124.3 628.1 2128.2 636.9 2132.0 636.9C2135.8 636.9 2139.7 628.5 2143.5 618.5C2147.3 608.5 2151.2 589.4 2155.0 577.1C2158.8 564.8 2162.7 553.5 2166.5 544.9C2170.3 536.3 2174.2 528.8 2178.0 525.3C2181.8 521.8 2185.7 523.1 2189.5 524.2C2193.3 525.4 2197.2 529.1 2201.0 532.2C2204.8 535.3 2208.7 537.8 2212.5 542.6C2216.3 547.4 2220.1 555.6 2223.9 561.0C2227.7 566.4 2231.6 571.0 2235.4 574.8C2239.2 578.6 2243.1 579.8 2246.9 584.0C2250.7 588.2 2253.7 594.7 2258.4 600.1C2263.1 605.5 2270.4 612.2 2275.0 616.2C2279.6 620.2 2280.5 618.7 2285.7 624.2C2290.9 629.7 2299.5 641.4 2306.4 649.0C2313.3 656.6 2320.2 664.2 2327.1 669.7C2334.0 675.2 2340.9 677.7 2347.8 682.2C2354.7 686.7 2361.6 692.5 2368.5 696.6C2375.4 700.7 2382.3 703.9 2389.2 707.0C2396.1 710.1 2403.0 712.5 2409.9 715.3C2416.8 718.1 2423.7 721.2 2430.6 723.6C2437.5 726.0 2444.4 727.9 2451.3 729.8C2458.2 731.7 2465.1 733.2 2472.0 734.9C2478.9 736.6 2485.8 738.5 2492.7 740.1C2499.6 741.7 2506.5 743.6 2513.4 744.3C2520.3 745.0 2527.9 744.1 2534.1 744.3C2540.3 744.5 2545.5 746.0 2550.7 745.3C2555.9 744.6 2560.3 740.6 2565.1 740.1C2569.9 739.6 2574.4 742.9 2579.6 742.2C2584.8 741.5 2591.2 736.9 2596.2 736.0C2601.2 735.1 2607.4 736.8 2609.7 737.0" stroke="#1f6bdb" stroke-width="7.5"/>
<path d="M1595.0 777.7C1596.2 777.8 1599.0 777.5 1601.9 778.2C1604.8 778.9 1607.7 780.7 1612.3 781.7C1616.9 782.7 1624.9 783.1 1629.5 784.3C1634.1 785.4 1636.5 785.3 1639.9 788.6C1643.4 791.9 1646.2 800.8 1650.2 804.1C1654.2 807.4 1660.5 807.0 1664.0 808.4C1667.5 809.8 1668.9 810.6 1670.9 812.7C1672.9 814.9 1674.7 819.7 1676.1 821.3C1677.5 822.9 1678.1 825.5 1679.5 822.2C1680.9 818.9 1682.7 809.0 1684.7 801.5C1686.7 794.0 1689.3 783.1 1691.6 777.4C1693.9 771.6 1695.9 769.9 1698.5 767.0C1701.1 764.1 1703.6 759.8 1707.1 760.1C1710.5 760.4 1714.9 765.4 1719.2 768.7C1723.5 772.0 1729.3 779.6 1733.0 779.9C1736.7 780.2 1738.1 772.6 1741.6 770.5C1745.0 768.4 1750.0 769.0 1753.7 767.0C1757.5 765.0 1760.9 762.4 1764.1 758.4C1767.3 754.4 1769.5 746.5 1772.7 742.9C1775.9 739.3 1780.1 737.8 1783.0 736.8C1785.9 735.8 1787.3 737.8 1789.9 736.8C1792.5 735.8 1796.0 731.4 1798.6 730.8C1801.2 730.2 1802.9 734.8 1805.5 733.4C1808.1 732.0 1811.2 726.7 1814.1 722.2C1817.0 717.7 1819.8 710.6 1822.7 706.6C1825.6 702.6 1828.7 701.5 1831.3 698.0C1833.9 694.5 1835.9 689.1 1838.2 685.9C1840.5 682.7 1842.5 682.5 1845.1 679.0C1847.7 675.5 1850.9 669.5 1853.8 665.2C1856.7 660.9 1860.1 657.2 1862.4 653.2C1864.7 649.2 1865.3 644.6 1867.6 641.1C1869.9 637.6 1873.9 635.4 1876.2 632.5C1878.5 629.6 1879.1 626.1 1881.4 623.8C1883.7 621.5 1886.5 621.3 1890.0 618.7C1893.5 616.1 1898.6 609.8 1902.1 608.3C1905.5 606.8 1907.8 611.7 1910.7 610.0C1913.6 608.3 1916.4 600.3 1919.3 598.0C1922.2 595.7 1925.0 597.6 1927.9 596.2C1930.8 594.8 1933.2 591.6 1936.5 589.7C1939.8 587.9 1944.2 584.1 1948.0 585.1C1951.8 586.1 1955.7 591.9 1959.5 595.5C1963.3 599.1 1967.2 603.9 1971.0 607.0C1974.8 610.1 1978.7 611.8 1982.5 613.9C1986.3 616.0 1990.2 619.6 1994.0 619.6C1997.8 619.6 2001.7 616.8 2005.5 613.9C2009.3 611.0 2013.2 607.4 2017.0 602.4C2020.8 597.4 2024.7 590.5 2028.5 584.0C2032.3 577.5 2036.2 567.9 2040.0 563.3C2043.8 558.7 2047.7 558.1 2051.5 556.4C2055.3 554.7 2059.2 553.3 2063.0 552.9C2066.8 552.5 2070.7 552.0 2074.5 554.1C2078.3 556.2 2082.2 559.1 2086.0 565.6C2089.8 572.1 2093.7 582.5 2097.5 593.2C2101.3 603.9 2105.2 619.3 2109.0 630.0C2112.8 640.7 2116.7 650.9 2120.5 657.6C2124.3 664.3 2128.2 670.6 2132.0 670.2C2135.8 669.8 2139.7 663.9 2143.5 655.3C2147.3 646.7 2151.2 628.1 2155.0 618.5C2158.8 608.9 2162.7 602.2 2166.5 597.8C2170.3 593.4 2174.2 592.6 2178.0 592.0C2181.8 591.4 2185.7 592.6 2189.5 594.3C2193.3 596.0 2197.2 599.5 2201.0 602.4C2204.8 605.3 2208.7 607.0 2212.5 611.6C2216.3 616.2 2220.1 625.0 2223.9 630.0C2227.7 635.0 2231.6 638.4 2235.4 641.5C2239.2 644.6 2243.1 645.3 2246.9 648.4C2250.7 651.5 2253.7 655.5 2258.4 659.9C2263.1 664.3 2270.4 671.1 2275.0 674.8C2279.6 678.5 2280.5 678.2 2285.7 682.2C2290.9 686.2 2299.5 693.5 2306.4 698.7C2313.3 703.9 2320.2 709.1 2327.1 713.2C2334.0 717.4 2340.9 720.2 2347.8 723.6C2354.7 727.0 2361.6 730.8 2368.5 733.9C2375.4 737.0 2382.3 740.1 2389.2 742.2C2396.1 744.3 2403.0 744.6 2409.9 746.3C2416.8 748.0 2423.7 750.8 2430.6 752.5C2437.5 754.2 2444.4 755.5 2451.3 756.7C2458.2 757.9 2465.1 758.9 2472.0 759.8C2478.9 760.7 2485.8 761.2 2492.7 761.9C2499.6 762.6 2506.5 763.7 2513.4 763.9C2520.3 764.1 2527.9 763.4 2534.1 762.9C2540.3 762.4 2545.5 762.0 2550.7 760.8C2555.9 759.6 2560.3 756.1 2565.1 755.6C2569.9 755.1 2574.4 758.6 2579.6 757.7C2584.8 756.9 2591.2 751.5 2596.2 750.5C2601.2 749.5 2607.4 751.3 2609.7 751.5" stroke="#3aa96b" stroke-width="7.5"/>
<path d="M1595.0 780.8C1596.2 780.9 1599.0 781.1 1601.9 781.7C1604.8 782.3 1607.7 783.0 1612.3 784.3C1616.9 785.6 1624.9 787.7 1629.5 789.4C1634.1 791.1 1636.5 791.4 1639.9 794.6C1643.4 797.8 1646.2 805.5 1650.2 808.4C1654.2 811.3 1660.5 810.6 1664.0 811.9C1667.5 813.2 1668.9 814.5 1670.9 816.2C1672.9 817.9 1674.7 821.2 1676.1 822.2C1677.5 823.2 1678.1 825.7 1679.5 822.2C1680.9 818.8 1682.7 809.0 1684.7 801.5C1686.7 794.0 1689.3 783.1 1691.6 777.4C1693.9 771.6 1695.9 769.9 1698.5 767.0C1701.1 764.1 1703.6 759.8 1707.1 760.1C1710.5 760.4 1714.9 765.4 1719.2 768.7C1723.5 772.0 1729.3 779.6 1733.0 779.9C1736.7 780.2 1738.1 772.6 1741.6 770.5C1745.0 768.4 1750.0 769.0 1753.7 767.0C1757.5 765.0 1760.9 762.4 1764.1 758.4C1767.3 754.4 1769.5 746.5 1772.7 742.9C1775.9 739.3 1780.1 737.8 1783.0 736.8C1785.9 735.8 1787.3 737.8 1789.9 736.8C1792.5 735.8 1796.0 731.4 1798.6 730.8C1801.2 730.2 1802.9 734.8 1805.5 733.4C1808.1 732.0 1811.2 726.7 1814.1 722.2C1817.0 717.7 1819.8 710.6 1822.7 706.6C1825.6 702.6 1828.7 701.5 1831.3 698.0C1833.9 694.5 1835.9 689.1 1838.2 685.9C1840.5 682.7 1842.5 682.5 1845.1 679.0C1847.7 675.5 1850.9 669.5 1853.8 665.2C1856.7 660.9 1860.1 657.2 1862.4 653.2C1864.7 649.2 1865.3 644.6 1867.6 641.1C1869.9 637.6 1873.9 635.4 1876.2 632.5C1878.5 629.6 1879.1 626.1 1881.4 623.8C1883.7 621.5 1886.5 621.3 1890.0 618.7C1893.5 616.1 1898.6 609.8 1902.1 608.3C1905.5 606.8 1907.8 611.7 1910.7 610.0C1913.6 608.3 1916.4 600.3 1919.3 598.0C1922.2 595.7 1925.0 597.6 1927.9 596.2C1930.8 594.8 1933.2 591.6 1936.5 589.7C1939.8 587.9 1944.2 584.1 1948.0 585.1C1951.8 586.1 1955.7 591.9 1959.5 595.5C1963.3 599.1 1967.2 602.8 1971.0 607.0C1974.8 611.2 1978.7 616.6 1982.5 620.8C1986.3 625.0 1990.2 631.1 1994.0 632.3C1997.8 633.4 2001.7 629.2 2005.5 627.7C2009.3 626.2 2013.2 626.2 2017.0 623.1C2020.8 620.0 2024.7 613.1 2028.5 609.3C2032.3 605.5 2036.2 602.0 2040.0 600.1C2043.8 598.2 2047.7 598.0 2051.5 597.8C2055.3 597.6 2059.2 598.1 2063.0 598.9C2066.8 599.7 2070.7 599.9 2074.5 602.4C2078.3 604.9 2082.2 607.8 2086.0 613.9C2089.8 620.0 2093.7 630.0 2097.5 639.2C2101.3 648.4 2105.2 660.3 2109.0 669.1C2112.8 677.9 2116.7 687.0 2120.5 692.0C2124.3 697.0 2128.2 700.0 2132.0 698.9C2135.8 697.8 2139.7 691.7 2143.5 685.2C2147.3 678.7 2151.2 665.9 2155.0 659.9C2158.8 653.9 2162.7 652.0 2166.5 649.5C2170.3 647.0 2174.2 645.1 2178.0 644.9C2181.8 644.7 2185.7 646.3 2189.5 648.4C2193.3 650.5 2197.2 654.1 2201.0 657.6C2204.8 661.1 2208.7 664.5 2212.5 669.1C2216.3 673.7 2220.1 681.0 2223.9 685.2C2227.7 689.4 2231.6 692.0 2235.4 694.3C2239.2 696.6 2243.1 696.6 2246.9 698.9C2250.7 701.2 2253.7 704.8 2258.4 708.1C2263.1 711.4 2270.4 715.9 2275.0 718.5C2279.6 721.1 2280.5 720.7 2285.7 723.6C2290.9 726.5 2299.5 732.2 2306.4 736.0C2313.3 739.8 2320.2 743.5 2327.1 746.3C2334.0 749.0 2340.9 750.2 2347.8 752.5C2354.7 754.8 2361.6 757.7 2368.5 759.8C2375.4 761.9 2382.3 763.8 2389.2 765.0C2396.1 766.2 2403.0 766.1 2409.9 767.0C2416.8 767.9 2423.7 769.2 2430.6 770.1C2437.5 771.0 2444.4 771.7 2451.3 772.2C2458.2 772.7 2465.1 772.9 2472.0 773.2C2478.9 773.6 2485.8 774.3 2492.7 774.3C2499.6 774.3 2506.5 773.7 2513.4 773.2C2520.3 772.7 2527.2 771.9 2534.1 771.2C2541.0 770.5 2547.9 769.8 2554.8 769.1C2561.7 768.4 2568.6 768.0 2575.5 767.0C2582.4 766.0 2590.5 763.6 2596.2 762.9C2601.9 762.2 2607.4 762.9 2609.7 762.9" stroke="#ac79df" stroke-width="7.5"/>
<path d="M1595.0 784.3C1596.2 784.3 1599.0 783.7 1601.9 784.3C1604.8 784.9 1607.7 785.7 1612.3 787.7C1616.9 789.7 1624.9 794.0 1629.5 796.3C1634.1 798.6 1636.5 798.9 1639.9 801.5C1643.4 804.1 1646.2 809.3 1650.2 811.9C1654.2 814.5 1660.5 815.7 1664.0 817.0C1667.5 818.3 1668.9 818.5 1670.9 819.6C1672.9 820.8 1674.7 823.5 1676.1 823.9C1677.5 824.3 1678.1 825.9 1679.5 822.2C1680.9 818.5 1682.7 809.0 1684.7 801.5C1686.7 794.0 1689.3 783.1 1691.6 777.4C1693.9 771.6 1695.9 769.9 1698.5 767.0C1701.1 764.1 1703.6 759.8 1707.1 760.1C1710.5 760.4 1714.9 765.4 1719.2 768.7C1723.5 772.0 1729.3 779.6 1733.0 779.9C1736.7 780.2 1738.1 772.6 1741.6 770.5C1745.0 768.4 1750.0 769.0 1753.7 767.0C1757.5 765.0 1760.9 762.4 1764.1 758.4C1767.3 754.4 1769.5 746.5 1772.7 742.9C1775.9 739.3 1780.1 737.8 1783.0 736.8C1785.9 735.8 1787.3 737.8 1789.9 736.8C1792.5 735.8 1796.0 731.4 1798.6 730.8C1801.2 730.2 1802.9 734.8 1805.5 733.4C1808.1 732.0 1811.2 726.7 1814.1 722.2C1817.0 717.7 1819.8 710.6 1822.7 706.6C1825.6 702.6 1828.7 701.5 1831.3 698.0C1833.9 694.5 1835.9 689.1 1838.2 685.9C1840.5 682.7 1842.5 682.5 1845.1 679.0C1847.7 675.5 1850.9 669.5 1853.8 665.2C1856.7 660.9 1860.1 657.2 1862.4 653.2C1864.7 649.2 1865.3 644.6 1867.6 641.1C1869.9 637.6 1873.9 635.4 1876.2 632.5C1878.5 629.6 1879.1 626.1 1881.4 623.8C1883.7 621.5 1886.5 621.3 1890.0 618.7C1893.5 616.1 1898.6 609.8 1902.1 608.3C1905.5 606.8 1907.8 611.7 1910.7 610.0C1913.6 608.3 1916.4 600.3 1919.3 598.0C1922.2 595.7 1925.0 597.6 1927.9 596.2C1930.8 594.8 1933.2 591.6 1936.5 589.7C1939.8 587.9 1944.2 584.1 1948.0 585.1C1951.8 586.1 1955.7 591.1 1959.5 595.5C1963.3 599.9 1967.2 606.2 1971.0 611.6C1974.8 617.0 1978.7 622.7 1982.5 627.7C1986.3 632.7 1990.2 638.6 1994.0 641.5C1997.8 644.4 2001.7 643.9 2005.5 644.9C2009.3 645.9 2013.2 648.2 2017.0 647.2C2020.8 646.2 2024.7 641.1 2028.5 639.2C2032.3 637.3 2036.2 636.1 2040.0 635.7C2043.8 635.3 2047.7 636.1 2051.5 636.9C2055.3 637.7 2059.2 638.8 2063.0 640.3C2066.8 641.8 2070.7 643.6 2074.5 646.1C2078.3 648.6 2082.2 650.7 2086.0 655.3C2089.8 659.9 2093.7 666.4 2097.5 673.7C2101.3 681.0 2105.2 691.6 2109.0 698.9C2112.8 706.2 2116.7 713.1 2120.5 717.3C2124.3 721.5 2128.2 725.4 2132.0 724.2C2135.8 723.1 2139.7 715.0 2143.5 710.4C2147.3 705.8 2151.2 699.9 2155.0 696.6C2158.8 693.4 2162.7 692.0 2166.5 690.9C2170.3 689.8 2174.2 689.2 2178.0 689.8C2181.8 690.4 2185.7 692.0 2189.5 694.3C2193.3 696.6 2197.2 700.8 2201.0 703.5C2204.8 706.2 2208.7 707.7 2212.5 710.4C2216.3 713.1 2220.1 717.3 2223.9 719.6C2227.7 721.9 2231.6 722.7 2235.4 724.2C2239.2 725.7 2243.1 726.9 2246.9 728.8C2250.7 730.7 2253.7 732.8 2258.4 735.7C2263.1 738.6 2270.4 743.6 2275.0 746.1C2279.6 748.6 2280.5 748.4 2285.7 750.5C2290.9 752.6 2299.5 756.3 2306.4 758.7C2313.3 761.1 2320.2 763.3 2327.1 765.0C2334.0 766.7 2340.9 767.6 2347.8 769.1C2354.7 770.6 2361.6 772.8 2368.5 774.3C2375.4 775.8 2382.3 777.7 2389.2 778.4C2396.1 779.1 2403.0 778.2 2409.9 778.4C2416.8 778.6 2423.7 779.2 2430.6 779.4C2437.5 779.6 2444.4 779.4 2451.3 779.4C2458.2 779.4 2465.1 779.4 2472.0 779.4C2478.9 779.4 2485.8 779.6 2492.7 779.4C2499.6 779.2 2506.5 778.9 2513.4 778.4C2520.3 777.9 2527.9 777.2 2534.1 776.3C2540.3 775.4 2545.5 774.6 2550.7 773.2C2555.9 771.8 2560.3 768.8 2565.1 768.1C2569.9 767.4 2574.4 770.8 2579.6 769.1C2584.8 767.4 2591.2 759.2 2596.2 757.7C2601.2 756.2 2607.4 759.4 2609.7 759.8" stroke="#c99700" stroke-width="7.5"/>
<path d="M1598.0 785.0C1598.7 785.5 1599.5 786.7 1601.9 787.7C1604.3 788.7 1608.8 789.5 1612.3 791.2C1615.8 792.9 1618.3 795.5 1622.6 798.1C1626.9 800.7 1634.1 803.6 1638.1 806.7C1642.1 809.9 1643.9 814.7 1646.8 817.0C1649.7 819.3 1652.0 819.0 1655.4 820.5C1658.9 822.0 1664.3 824.3 1667.5 825.7C1670.7 827.1 1672.4 829.7 1674.4 829.1C1676.4 828.5 1677.8 826.8 1679.5 822.2C1681.2 817.6 1682.7 809.0 1684.7 801.5C1686.7 794.0 1689.3 783.1 1691.6 777.4C1693.9 771.6 1695.9 769.9 1698.5 767.0C1701.1 764.1 1703.6 759.8 1707.1 760.1C1710.5 760.4 1714.9 765.4 1719.2 768.7C1723.5 772.0 1729.3 779.6 1733.0 779.9C1736.7 780.2 1738.1 772.6 1741.6 770.5C1745.0 768.4 1750.0 769.0 1753.7 767.0C1757.5 765.0 1760.9 762.4 1764.1 758.4C1767.3 754.4 1769.5 746.5 1772.7 742.9C1775.9 739.3 1780.1 737.8 1783.0 736.8C1785.9 735.8 1787.3 737.8 1789.9 736.8C1792.5 735.8 1796.0 731.4 1798.6 730.8C1801.2 730.2 1802.9 734.8 1805.5 733.4C1808.1 732.0 1811.2 726.7 1814.1 722.2C1817.0 717.7 1819.8 710.6 1822.7 706.6C1825.6 702.6 1828.7 701.5 1831.3 698.0C1833.9 694.5 1835.9 689.1 1838.2 685.9C1840.5 682.7 1842.5 682.5 1845.1 679.0C1847.7 675.5 1850.9 669.5 1853.8 665.2C1856.7 660.9 1860.1 657.2 1862.4 653.2C1864.7 649.2 1865.3 644.6 1867.6 641.1C1869.9 637.6 1873.9 635.4 1876.2 632.5C1878.5 629.6 1879.1 626.1 1881.4 623.8C1883.7 621.5 1886.5 621.3 1890.0 618.7C1893.5 616.1 1898.6 609.8 1902.1 608.3C1905.5 606.8 1907.8 611.7 1910.7 610.0C1913.6 608.3 1916.4 600.3 1919.3 598.0C1922.2 595.7 1925.0 597.6 1927.9 596.2C1930.8 594.8 1933.2 591.6 1936.5 589.7C1939.8 587.9 1944.2 584.1 1948.0 585.1C1951.8 586.1 1955.7 591.1 1959.5 595.5C1963.3 599.9 1967.2 605.9 1971.0 611.6C1974.8 617.4 1978.7 623.9 1982.5 630.0C1986.3 636.1 1990.2 643.4 1994.0 648.4C1997.8 653.4 2001.7 656.4 2005.5 659.9C2009.3 663.4 2013.2 668.0 2017.0 669.1C2020.8 670.2 2024.7 666.6 2028.5 666.8C2032.3 667.0 2036.2 668.9 2040.0 670.2C2043.8 671.5 2047.7 673.4 2051.5 674.8C2055.3 676.1 2059.2 676.6 2063.0 678.3C2066.8 680.0 2070.7 682.5 2074.5 685.2C2078.3 687.9 2082.2 690.1 2086.0 694.3C2089.8 698.5 2093.7 704.3 2097.5 710.4C2101.3 716.5 2105.2 725.1 2109.0 731.1C2112.8 737.1 2116.7 742.7 2120.5 746.1C2124.3 749.5 2128.2 752.4 2132.0 751.8C2135.8 751.2 2139.7 746.0 2143.5 742.6C2147.3 739.2 2151.2 734.0 2155.0 731.1C2158.8 728.2 2162.7 726.5 2166.5 725.4C2170.3 724.2 2174.2 723.8 2178.0 724.2C2181.8 724.6 2185.7 726.2 2189.5 727.7C2193.3 729.2 2197.2 731.3 2201.0 733.4C2204.8 735.5 2208.7 737.8 2212.5 740.3C2216.3 742.8 2220.1 746.1 2223.9 748.4C2227.7 750.7 2231.6 752.4 2235.4 754.1C2239.2 755.8 2243.1 757.2 2246.9 758.7C2250.7 760.2 2253.7 761.4 2258.4 763.3C2263.1 765.2 2270.4 768.2 2275.0 770.2C2279.6 772.2 2280.5 773.8 2285.7 775.3C2290.9 776.8 2299.5 778.2 2306.4 779.4C2313.3 780.6 2320.2 782.1 2327.1 782.6C2334.0 783.1 2340.9 782.1 2347.8 782.6C2354.7 783.1 2361.6 785.0 2368.5 785.7C2375.4 786.4 2382.3 786.9 2389.2 786.7C2396.1 786.5 2403.0 785.1 2409.9 784.6C2416.8 784.1 2423.7 783.9 2430.6 783.6C2437.5 783.3 2444.4 783.1 2451.3 782.6C2458.2 782.1 2465.1 781.2 2472.0 780.5C2478.9 779.8 2485.8 779.1 2492.7 778.4C2499.6 777.7 2506.5 777.2 2513.4 776.3C2520.3 775.4 2527.9 774.2 2534.1 773.2C2540.3 772.2 2545.5 772.2 2550.7 770.1C2555.9 768.0 2560.3 762.0 2565.1 760.8C2569.9 759.6 2574.4 765.0 2579.6 762.9C2584.8 760.8 2591.2 750.3 2596.2 748.4C2601.2 746.5 2607.4 751.0 2609.7 751.5" stroke="#00cccc" stroke-width="7.5"/>
</g>
<rect x="1598.0" y="111.0" width="1015.0" height="818.5" fill="none" stroke="#000" stroke-width="5.8"/>
<path d="M1598.0 929.5V913.5M1682.6 929.5V921.0M1767.2 929.5V913.5M1851.8 929.5V921.0M1936.3 929.5V913.5M2020.9 929.5V921.0M2105.5 929.5V913.5M2190.1 929.5V921.0M2274.7 929.5V913.5M2359.2 929.5V921.0M2443.8 929.5V913.5M2528.4 929.5V921.0M2613.0 929.5V913.5M1598.0 929.5H1614.0M1598.0 861.3H1606.5M1598.0 793.1H1614.0M1598.0 724.9H1606.5M1598.0 656.7H1614.0M1598.0 588.5H1606.5M1598.0 520.2H1614.0M1598.0 452.0H1606.5M1598.0 383.8H1614.0M1598.0 315.6H1606.5M1598.0 247.4H1614.0M1598.0 179.2H1606.5M1598.0 111.0H1614.0" stroke="#000" stroke-width="5.7" fill="none"/>
<g style="font-family:'Liberation Sans',sans-serif;font-size:56px" fill="#000">
<text x="1580.0" y="946.5" text-anchor="end">0.00</text>
<text x="1580.0" y="810.1" text-anchor="end">0.02</text>
<text x="1580.0" y="673.7" text-anchor="end">0.04</text>
<text x="1580.0" y="537.2" text-anchor="end">0.06</text>
<text x="1580.0" y="400.8" text-anchor="end">0.08</text>
<text x="1580.0" y="264.4" text-anchor="end">0.10</text>
<text x="1580.0" y="128.0" text-anchor="end">0.12</text>
<text x="1598.0" y="990.5" text-anchor="middle">8</text>
<text x="1767.2" y="990.5" text-anchor="middle">9</text>
<text x="1936.3" y="990.5" text-anchor="middle">10</text>
<text x="2105.5" y="990.5" text-anchor="middle">11</text>
<text x="2274.7" y="990.5" text-anchor="middle">12</text>
<text x="2443.8" y="990.5" text-anchor="middle">13</text>
<text x="2613.0" y="990.5" text-anchor="middle">14</text>
</g>
<text x="1447.9" y="520.0" style="font-family:'Liberation Serif',serif;font-size:72px" transform="rotate(-90 1447.9 520.0)" text-anchor="middle">Reflectance</text>
<text x="1852.3" y="1066.7" style="font-family:'Liberation Serif',serif;font-size:72px;letter-spacing:0.6px">Wavelength (<tspan font-style="italic">&#956;</tspan>m)</text>
<text x="1376.5" y="101.3" style="font-family:'Liberation Serif',serif;font-size:50px;font-weight:bold">(b)</text>
<path d="M1654.0 150.6H1741.0" stroke="#7a7a7a" stroke-width="7.5" stroke-dasharray="13.5 23"/>
<text x="1769.8" y="166.6" style="font-family:'Liberation Serif',serif;font-size:47px">Fresh <tspan font-style="italic">Canna</tspan> leaf</text>
<path d="M1654.0 208.2H1759.0" stroke="#ee3d40" stroke-width="7.5"/>
<text x="1769.8" y="224.2" style="font-family:'Liberation Serif',serif;font-size:47px">0%</text>
<path d="M1654.0 265.8H1759.0" stroke="#1f6bdb" stroke-width="7.5"/>
<text x="1769.8" y="281.8" style="font-family:'Liberation Serif',serif;font-size:47px">10%</text>
<path d="M1654.0 323.4H1759.0" stroke="#3aa96b" stroke-width="7.5"/>
<text x="1769.8" y="339.4" style="font-family:'Liberation Serif',serif;font-size:47px">20%</text>
<path d="M1654.0 381.0H1759.0" stroke="#ac79df" stroke-width="7.5"/>
<text x="1769.8" y="397.0" style="font-family:'Liberation Serif',serif;font-size:47px">30%</text>
<path d="M1654.0 438.6H1759.0" stroke="#c99700" stroke-width="7.5"/>
<text x="1769.8" y="454.6" style="font-family:'Liberation Serif',serif;font-size:47px">40%</text>
<path d="M1654.0 496.2H1759.0" stroke="#00cccc" stroke-width="7.5"/>
<text x="1769.8" y="512.2" style="font-family:'Liberation Serif',serif;font-size:47px">50%</text>
<clipPath id="clipc"><rect x="273.0" y="1196.0" width="1015.0" height="819.0"/></clipPath>
<g clip-path="url(#clipc)" fill="none" stroke-linejoin="round" stroke-linecap="round">
<path d="M271.0 1717.3C272.0 1716.8 272.8 1716.3 277.2 1714.3C281.6 1712.3 289.7 1708.8 297.4 1705.1C305.1 1701.4 314.9 1696.3 323.2 1692.3C331.5 1688.3 341.0 1687.0 347.1 1681.2C353.2 1675.4 354.8 1664.7 360.0 1657.3C365.2 1649.9 374.4 1638.2 378.4 1637.0C382.4 1635.8 380.8 1644.1 383.9 1649.9C387.0 1655.7 391.6 1666.5 396.8 1672.0C402.0 1677.5 408.1 1679.1 415.2 1683.1C422.2 1687.1 433.0 1688.9 439.1 1695.9C445.2 1703.0 446.8 1722.0 452.0 1725.4C457.2 1728.8 464.3 1717.4 470.4 1716.2C476.5 1715.0 482.1 1718.9 488.8 1718.0C495.6 1717.1 504.1 1709.8 510.9 1710.7C517.6 1711.6 522.5 1720.1 529.3 1723.5C536.0 1726.9 545.3 1726.6 551.4 1730.9C557.5 1735.2 560.6 1743.8 566.1 1749.3C571.6 1754.8 579.0 1760.6 584.5 1764.0C590.0 1767.4 593.7 1771.7 599.2 1769.5C604.7 1767.3 611.5 1754.5 617.6 1751.1C623.7 1747.7 628.7 1746.8 636.0 1749.3C643.3 1751.8 653.6 1759.7 661.4 1766.0C669.2 1772.3 676.9 1786.2 682.8 1787.4C688.7 1788.6 691.7 1776.7 697.0 1773.1C702.3 1769.5 707.1 1765.1 714.8 1766.0C722.5 1766.9 735.0 1775.2 743.3 1778.5C751.6 1781.8 757.0 1783.5 764.7 1785.6C772.4 1787.7 782.0 1788.6 789.7 1791.0C797.4 1793.4 803.3 1797.8 811.0 1799.9C818.7 1802.0 829.5 1802.5 836.0 1803.4C842.5 1804.3 843.7 1802.8 850.2 1805.2C856.7 1807.6 866.9 1815.0 875.2 1817.7C883.5 1820.4 891.8 1819.1 900.1 1821.2C908.4 1823.3 916.8 1827.2 925.1 1830.2C933.4 1833.2 941.4 1837.3 950.0 1839.1C958.6 1840.9 967.7 1839.9 976.5 1841.1C985.3 1842.3 994.1 1845.5 1002.9 1846.4C1011.7 1847.3 1020.6 1845.7 1029.4 1846.4C1038.2 1847.1 1047.0 1849.7 1055.8 1850.4C1064.6 1851.1 1073.5 1849.3 1082.3 1850.4C1091.1 1851.5 1099.9 1855.7 1108.7 1857.0C1117.5 1858.3 1126.4 1857.2 1135.2 1858.3C1144.0 1859.4 1152.9 1863.1 1161.7 1863.6C1170.5 1864.0 1179.3 1862.3 1188.1 1861.0C1196.9 1859.7 1205.8 1858.1 1214.6 1855.7C1223.4 1853.3 1232.2 1847.5 1241.0 1846.4C1249.8 1845.3 1260.2 1848.4 1267.5 1849.1C1274.8 1849.8 1281.8 1850.2 1284.7 1850.4" stroke="#7a7a7a" stroke-width="6.2" stroke-dasharray="11 12" stroke-linecap="butt"/>
<path d="M271.0 1762.2C272.0 1762.2 274.6 1760.1 277.2 1762.2C279.8 1764.3 283.3 1773.6 286.4 1775.1C289.5 1776.6 292.5 1772.6 295.6 1771.4C298.7 1770.2 301.7 1766.5 304.8 1767.7C307.9 1768.9 310.9 1773.8 314.0 1778.7C317.1 1783.6 320.1 1795.2 323.2 1797.1C326.3 1798.9 329.3 1792.9 332.4 1789.8C335.5 1786.7 338.5 1784.5 341.6 1778.7C344.7 1772.9 347.7 1766.5 350.8 1754.8C353.9 1743.1 356.9 1725.0 360.0 1708.8C363.1 1692.5 366.1 1670.8 369.2 1657.3C372.3 1643.8 376.2 1633.0 378.4 1627.8C380.5 1622.6 380.2 1623.2 382.1 1626.0C384.0 1628.8 387.1 1638.6 389.5 1644.4C391.9 1650.2 394.1 1655.5 396.8 1661.0C399.6 1666.5 402.9 1672.0 406.0 1677.5C409.1 1683.0 412.1 1691.0 415.2 1694.1C418.3 1697.2 421.3 1696.5 424.4 1695.9C427.5 1695.3 430.5 1693.8 433.6 1690.4C436.7 1687.0 439.7 1682.8 442.8 1675.7C445.9 1668.7 449.9 1653.0 452.0 1648.1C454.1 1643.2 454.2 1643.5 455.7 1646.2C457.2 1649.0 458.8 1658.8 461.2 1664.6C463.6 1670.4 467.3 1672.3 470.4 1681.2C473.5 1690.1 476.5 1710.0 479.6 1718.0C482.7 1726.0 485.7 1730.6 488.8 1729.1C491.9 1727.6 494.9 1715.2 498.0 1708.8C501.1 1702.3 504.1 1698.7 507.2 1690.4C510.3 1682.1 513.3 1661.5 516.4 1659.1C519.5 1656.6 522.5 1670.8 525.6 1675.7C528.7 1680.6 532.3 1686.1 534.8 1688.6C537.2 1691.0 537.8 1695.0 540.3 1690.4C542.8 1685.8 545.8 1664.4 549.5 1661.0C553.2 1657.6 558.7 1666.2 562.4 1670.2C566.1 1674.2 568.5 1681.8 571.6 1684.9C574.7 1688.0 577.7 1687.7 580.8 1688.6C583.9 1689.5 586.9 1689.5 590.0 1690.4C593.1 1691.3 596.1 1694.4 599.2 1694.1C602.3 1693.8 605.3 1690.1 608.4 1688.6C611.5 1687.1 614.5 1689.2 617.6 1684.9C620.7 1680.6 623.7 1675.7 626.8 1662.8C629.9 1649.9 633.5 1621.4 636.0 1607.6C638.5 1593.8 639.5 1590.4 641.6 1580.0C643.8 1569.6 646.2 1554.2 648.9 1545.1C651.6 1536.0 654.8 1529.7 657.8 1525.5C660.8 1521.3 663.7 1526.9 666.7 1520.1C669.7 1513.3 672.6 1501.1 675.6 1484.5C678.6 1467.9 681.5 1441.2 684.5 1420.4C687.5 1399.6 690.5 1378.8 693.5 1359.8C696.5 1340.8 699.4 1317.3 702.4 1306.3C705.4 1295.3 708.3 1297.5 711.3 1293.9C714.3 1290.3 717.2 1284.6 720.2 1284.9C723.2 1285.2 726.1 1292.9 729.1 1295.6C732.1 1298.3 735.0 1299.8 738.0 1301.0C741.0 1302.2 743.9 1300.7 746.9 1302.8C749.9 1304.9 752.8 1307.0 755.8 1313.5C758.8 1320.0 761.7 1330.7 764.7 1342.0C767.7 1353.3 770.6 1367.0 773.6 1381.2C776.6 1395.5 779.5 1409.7 782.5 1427.5C785.5 1445.3 788.4 1467.9 791.4 1488.1C794.4 1508.3 798.0 1536.1 800.4 1548.6C802.8 1561.1 803.9 1562.3 805.7 1562.9C807.5 1563.5 808.9 1562.9 811.0 1552.2C813.1 1541.5 815.5 1521.4 818.2 1498.8C820.9 1476.2 824.1 1441.8 827.1 1416.8C830.1 1391.8 833.0 1366.3 836.0 1349.1C839.0 1331.9 841.9 1321.2 844.9 1313.5C847.9 1305.8 850.8 1304.6 853.8 1302.8C856.8 1301.0 859.7 1301.3 862.7 1302.8C865.7 1304.3 868.6 1309.6 871.6 1311.7C874.6 1313.8 877.5 1310.2 880.5 1315.2C883.5 1320.2 886.4 1333.4 889.4 1342.0C892.4 1350.6 895.4 1359.2 898.4 1366.9C901.4 1374.6 904.3 1382.1 907.3 1388.3C910.3 1394.5 913.2 1401.9 916.2 1404.3C919.2 1406.7 922.1 1400.4 925.1 1402.5C928.1 1404.6 931.0 1409.1 934.0 1416.8C937.0 1424.5 939.9 1442.7 942.9 1448.9C945.9 1455.1 948.4 1448.1 951.8 1454.2C955.2 1460.3 959.1 1478.3 963.2 1485.3C967.3 1492.2 972.1 1491.5 976.5 1495.9C980.9 1500.3 985.3 1506.4 989.7 1511.7C994.1 1517.0 998.5 1522.7 1002.9 1527.6C1007.3 1532.5 1011.7 1535.6 1016.1 1540.9C1020.5 1546.2 1025.0 1552.8 1029.4 1559.4C1033.8 1566.0 1038.2 1573.0 1042.6 1580.5C1047.0 1588.0 1051.4 1598.6 1055.8 1604.3C1060.2 1610.0 1064.7 1612.2 1069.1 1614.9C1073.5 1617.6 1077.9 1615.8 1082.3 1620.2C1086.7 1624.6 1091.1 1634.8 1095.5 1641.4C1099.9 1648.0 1104.3 1654.2 1108.7 1659.9C1113.1 1665.6 1117.6 1672.7 1122.0 1675.8C1126.4 1678.9 1130.8 1676.6 1135.2 1678.4C1139.6 1680.2 1144.0 1682.9 1148.4 1686.4C1152.8 1689.9 1157.3 1695.6 1161.7 1699.6C1166.1 1703.6 1170.5 1705.8 1174.9 1710.2C1179.3 1714.6 1183.7 1722.6 1188.1 1726.1C1192.5 1729.6 1196.9 1728.7 1201.3 1731.3C1205.7 1733.9 1210.2 1738.4 1214.6 1741.9C1219.0 1745.4 1223.4 1750.3 1227.8 1752.5C1232.2 1754.7 1236.6 1753.0 1241.0 1755.2C1245.4 1757.4 1250.3 1763.1 1254.3 1765.7C1258.3 1768.3 1261.3 1770.8 1264.8 1771.0C1268.3 1771.2 1272.1 1768.2 1275.4 1767.1C1278.7 1766.0 1283.2 1764.9 1284.7 1764.4" stroke="#ee3d40" stroke-width="7.5"/>
<path d="M271.0 1773.2C272.0 1773.2 274.6 1772.3 277.2 1773.2C279.8 1774.1 283.3 1777.8 286.4 1778.7C289.5 1779.6 292.5 1778.9 295.6 1778.7C298.7 1778.5 301.7 1776.9 304.8 1777.8C307.9 1778.7 310.9 1782.0 314.0 1784.3C317.1 1786.6 320.1 1791.3 323.2 1791.6C326.3 1791.9 329.3 1788.5 332.4 1786.1C335.5 1783.6 338.5 1782.7 341.6 1776.9C344.7 1771.1 347.7 1763.1 350.8 1751.1C353.9 1739.1 356.9 1721.3 360.0 1705.1C363.1 1688.8 366.1 1667.1 369.2 1653.6C372.3 1640.1 376.2 1629.4 378.4 1624.2C380.5 1619.0 380.2 1619.2 382.1 1622.3C384.0 1625.4 387.1 1636.8 389.5 1642.6C391.9 1648.4 394.1 1651.8 396.8 1657.3C399.6 1662.8 402.9 1670.2 406.0 1675.7C409.1 1681.2 412.1 1687.6 415.2 1690.4C418.3 1693.2 421.3 1692.9 424.4 1692.3C427.5 1691.7 430.5 1690.1 433.6 1686.7C436.7 1683.3 439.7 1679.3 442.8 1672.0C445.9 1664.7 449.9 1647.8 452.0 1642.6C454.1 1637.4 454.2 1637.6 455.7 1640.7C457.2 1643.8 458.8 1655.2 461.2 1661.0C463.6 1666.8 467.3 1667.7 470.4 1675.7C473.5 1683.7 476.5 1701.4 479.6 1708.8C482.7 1716.2 485.7 1721.1 488.8 1719.9C491.9 1718.7 494.9 1707.6 498.0 1701.5C501.1 1695.4 504.1 1691.7 507.2 1683.1C510.3 1674.5 513.3 1653.0 516.4 1649.9C519.5 1646.8 522.5 1659.7 525.6 1664.6C528.7 1669.5 532.3 1676.6 534.8 1679.4C537.2 1682.2 537.8 1685.2 540.3 1681.2C542.8 1677.2 545.8 1658.8 549.5 1655.4C553.2 1652.0 558.7 1657.0 562.4 1661.0C566.1 1665.0 568.5 1674.5 571.6 1679.4C574.7 1684.3 577.7 1687.3 580.8 1690.4C583.9 1693.5 586.9 1694.7 590.0 1697.8C593.1 1700.9 596.1 1707.3 599.2 1708.8C602.3 1710.3 605.3 1707.6 608.4 1707.0C611.5 1706.4 614.5 1709.1 617.6 1705.1C620.7 1701.1 623.7 1692.3 626.8 1683.1C629.9 1673.9 632.3 1665.2 636.0 1649.9C639.7 1634.6 645.3 1604.1 648.9 1591.4C652.5 1578.7 654.8 1576.9 657.8 1573.6C660.8 1570.3 663.7 1577.1 666.7 1571.8C669.7 1566.5 672.6 1556.7 675.6 1541.5C678.6 1526.3 681.5 1500.5 684.5 1480.9C687.5 1461.3 690.5 1438.2 693.5 1423.9C696.5 1409.7 699.4 1401.0 702.4 1395.4C705.4 1389.8 708.3 1392.2 711.3 1390.1C714.3 1388.0 717.2 1382.0 720.2 1382.9C723.2 1383.8 726.1 1392.4 729.1 1395.4C732.1 1398.4 735.0 1399.3 738.0 1400.8C741.0 1402.3 743.9 1401.6 746.9 1404.3C749.9 1407.0 752.8 1410.0 755.8 1416.8C758.8 1423.6 761.7 1435.8 764.7 1445.3C767.7 1454.8 770.6 1461.9 773.6 1473.8C776.6 1485.7 779.5 1501.1 782.5 1516.6C785.5 1532.0 788.4 1549.9 791.4 1566.5C794.4 1583.1 798.0 1606.5 800.4 1616.3C802.8 1626.1 803.9 1625.3 805.7 1625.3C807.5 1625.3 808.9 1625.5 811.0 1616.3C813.1 1607.1 815.5 1587.8 818.2 1570.0C820.9 1552.2 824.1 1527.2 827.1 1509.4C830.1 1491.6 833.0 1475.6 836.0 1463.1C839.0 1450.6 841.9 1439.6 844.9 1434.6C847.9 1429.5 850.8 1432.5 853.8 1432.8C856.8 1433.1 859.7 1434.6 862.7 1436.4C865.7 1438.2 868.6 1441.7 871.6 1443.5C874.6 1445.3 877.5 1442.0 880.5 1447.1C883.5 1452.1 886.4 1465.8 889.4 1473.8C892.4 1481.8 895.4 1487.5 898.4 1495.2C901.4 1502.9 904.3 1514.5 907.3 1520.1C910.3 1525.7 913.2 1527.5 916.2 1529.0C919.2 1530.5 922.1 1526.3 925.1 1529.0C928.1 1531.7 931.0 1538.3 934.0 1545.1C937.0 1551.9 939.9 1565.2 942.9 1570.0C945.9 1574.8 949.3 1572.7 951.8 1573.6C954.3 1574.5 956.0 1572.3 957.9 1575.2C959.8 1578.1 960.1 1585.8 963.2 1591.1C966.3 1596.4 972.1 1602.2 976.5 1607.0C980.9 1611.8 985.3 1615.4 989.7 1620.2C994.1 1625.0 998.5 1631.2 1002.9 1636.1C1007.3 1640.9 1011.7 1644.4 1016.1 1649.3C1020.5 1654.2 1025.0 1659.5 1029.4 1665.2C1033.8 1670.9 1038.2 1677.5 1042.6 1683.7C1047.0 1689.9 1051.4 1698.2 1055.8 1702.2C1060.2 1706.2 1064.7 1706.0 1069.1 1707.5C1073.5 1709.0 1077.9 1708.0 1082.3 1711.5C1086.7 1715.0 1091.1 1723.6 1095.5 1728.7C1099.9 1733.8 1104.3 1737.9 1108.7 1741.9C1113.1 1745.9 1117.6 1750.3 1122.0 1752.5C1126.4 1754.7 1130.8 1753.9 1135.2 1755.2C1139.6 1756.5 1144.0 1758.2 1148.4 1760.4C1152.8 1762.6 1157.3 1765.8 1161.7 1768.4C1166.1 1771.1 1170.5 1773.2 1174.9 1776.3C1179.3 1779.4 1183.7 1784.5 1188.1 1786.9C1192.5 1789.3 1196.9 1788.9 1201.3 1790.9C1205.7 1792.9 1210.2 1796.2 1214.6 1798.8C1219.0 1801.4 1223.4 1805.4 1227.8 1806.7C1232.2 1808.0 1236.6 1805.6 1241.0 1806.7C1245.4 1807.8 1250.3 1811.6 1254.3 1813.4C1258.3 1815.2 1261.3 1817.3 1264.8 1817.3C1268.3 1817.3 1272.1 1814.5 1275.4 1813.4C1278.7 1812.3 1283.2 1811.2 1284.7 1810.7" stroke="#1f6bdb" stroke-width="7.5"/>
<path d="M271.0 1786.1C272.0 1786.1 274.6 1785.8 277.2 1786.1C279.8 1786.4 283.3 1787.6 286.4 1787.9C289.5 1788.2 292.5 1787.3 295.6 1787.9C298.7 1788.5 301.7 1790.7 304.8 1791.6C307.9 1792.5 310.9 1793.8 314.0 1793.5C317.1 1793.2 320.1 1791.6 323.2 1789.8C326.3 1788.0 329.3 1785.2 332.4 1782.4C335.5 1779.6 338.5 1779.0 341.6 1773.2C344.7 1767.4 347.7 1759.5 350.8 1747.5C353.9 1735.5 356.9 1717.8 360.0 1701.5C363.1 1685.2 366.1 1663.4 369.2 1649.9C372.3 1636.4 376.2 1625.7 378.4 1620.5C380.5 1615.3 380.2 1615.5 382.1 1618.6C384.0 1621.7 387.1 1633.1 389.5 1638.9C391.9 1644.7 394.1 1648.1 396.8 1653.6C399.6 1659.1 402.9 1666.2 406.0 1672.0C409.1 1677.8 412.1 1685.8 415.2 1688.6C418.3 1691.4 421.3 1689.5 424.4 1688.6C427.5 1687.7 430.5 1686.8 433.6 1683.1C436.7 1679.4 439.7 1673.9 442.8 1666.5C445.9 1659.1 449.9 1644.1 452.0 1638.9C454.1 1633.7 454.2 1632.8 455.7 1635.2C457.2 1637.7 458.8 1648.1 461.2 1653.6C463.6 1659.1 467.3 1660.9 470.4 1668.3C473.5 1675.7 476.5 1691.0 479.6 1697.8C482.7 1704.5 485.7 1709.1 488.8 1708.8C491.9 1708.5 494.9 1701.4 498.0 1695.9C501.1 1690.4 504.1 1684.9 507.2 1675.7C510.3 1666.5 513.3 1643.8 516.4 1640.7C519.5 1637.6 522.5 1652.7 525.6 1657.3C528.7 1661.9 532.3 1666.5 534.8 1668.3C537.2 1670.1 537.8 1672.0 540.3 1668.3C542.8 1664.6 545.8 1649.6 549.5 1646.2C553.2 1642.8 558.7 1645.3 562.4 1648.1C566.1 1650.9 568.5 1658.2 571.6 1662.8C574.7 1667.4 577.7 1672.9 580.8 1675.7C583.9 1678.5 586.9 1675.7 590.0 1679.4C593.1 1683.1 596.1 1691.0 599.2 1697.8C602.3 1704.5 605.3 1715.9 608.4 1719.9C611.5 1723.9 614.5 1724.5 617.6 1721.7C620.7 1718.9 623.7 1711.6 626.8 1703.3C629.9 1695.0 632.3 1684.7 636.0 1672.0C639.7 1659.3 645.3 1636.3 648.9 1627.0C652.5 1617.7 654.8 1618.4 657.8 1616.3C660.8 1614.2 663.7 1619.3 666.7 1614.6C669.7 1609.8 672.6 1599.4 675.6 1587.8C678.6 1576.2 681.5 1559.3 684.5 1545.1C687.5 1530.8 690.5 1513.3 693.5 1502.3C696.5 1491.3 699.4 1483.7 702.4 1479.2C705.4 1474.8 708.3 1476.8 711.3 1475.6C714.3 1474.4 717.2 1470.5 720.2 1472.0C723.2 1473.5 726.1 1481.2 729.1 1484.5C732.1 1487.8 735.0 1489.8 738.0 1491.6C741.0 1493.4 743.9 1492.8 746.9 1495.2C749.9 1497.6 752.8 1500.0 755.8 1505.9C758.8 1511.8 761.7 1521.9 764.7 1530.8C767.7 1539.7 770.6 1549.2 773.6 1559.3C776.6 1569.4 779.5 1578.9 782.5 1591.4C785.5 1603.9 788.4 1620.5 791.4 1634.2C794.4 1647.9 798.0 1666.0 800.4 1673.4C802.8 1680.8 803.9 1679.3 805.7 1678.7C807.5 1678.1 808.9 1676.6 811.0 1669.8C813.1 1663.0 815.5 1651.4 818.2 1637.7C820.9 1624.0 824.1 1601.5 827.1 1587.8C830.1 1574.1 833.0 1563.8 836.0 1555.8C839.0 1547.8 841.9 1542.4 844.9 1539.7C847.9 1537.0 850.8 1538.8 853.8 1539.7C856.8 1540.6 859.7 1543.0 862.7 1545.1C865.7 1547.2 868.6 1550.1 871.6 1552.2C874.6 1554.3 877.5 1552.8 880.5 1557.6C883.5 1562.3 886.4 1573.3 889.4 1580.7C892.4 1588.1 895.4 1595.0 898.4 1602.1C901.4 1609.2 904.3 1619.3 907.3 1623.5C910.3 1627.7 913.2 1626.1 916.2 1627.0C919.2 1627.9 922.1 1625.8 925.1 1628.8C928.1 1631.8 931.0 1639.2 934.0 1644.9C937.0 1650.6 939.9 1659.2 942.9 1662.7C945.9 1666.2 949.3 1665.4 951.8 1666.2C954.3 1667.0 956.0 1665.3 957.9 1667.8C959.8 1670.3 960.1 1676.7 963.2 1681.1C966.3 1685.5 972.1 1690.3 976.5 1694.3C980.9 1698.3 985.3 1701.2 989.7 1704.9C994.1 1708.7 998.5 1713.3 1002.9 1716.8C1007.3 1720.3 1011.7 1722.8 1016.1 1726.1C1020.5 1729.4 1025.0 1732.6 1029.4 1736.6C1033.8 1740.6 1038.2 1745.5 1042.6 1749.9C1047.0 1754.3 1051.4 1759.8 1055.8 1763.1C1060.2 1766.4 1064.7 1768.2 1069.1 1769.7C1073.5 1771.2 1077.9 1770.0 1082.3 1772.4C1086.7 1774.8 1091.1 1780.6 1095.5 1784.3C1099.9 1788.0 1104.3 1791.9 1108.7 1794.8C1113.1 1797.7 1117.6 1800.2 1122.0 1801.5C1126.4 1802.8 1130.8 1801.7 1135.2 1802.8C1139.6 1803.9 1144.0 1806.3 1148.4 1808.1C1152.8 1809.9 1157.3 1811.6 1161.7 1813.4C1166.1 1815.2 1170.5 1816.7 1174.9 1818.7C1179.3 1820.7 1183.7 1823.8 1188.1 1825.3C1192.5 1826.8 1196.9 1826.6 1201.3 1827.9C1205.7 1829.2 1210.2 1831.4 1214.6 1833.2C1219.0 1835.0 1223.4 1837.8 1227.8 1838.5C1232.2 1839.2 1236.6 1836.8 1241.0 1837.2C1245.4 1837.6 1250.3 1840.0 1254.3 1841.1C1258.3 1842.2 1261.3 1844.0 1264.8 1843.8C1268.3 1843.6 1272.1 1840.9 1275.4 1839.8C1278.7 1838.7 1283.2 1837.6 1284.7 1837.2" stroke="#3aa96b" stroke-width="7.5"/>
<path d="M271.0 1793.5C272.0 1793.5 274.6 1792.9 277.2 1793.5C279.8 1794.1 283.3 1796.5 286.4 1797.1C289.5 1797.7 292.5 1796.8 295.6 1797.1C298.7 1797.4 301.7 1798.7 304.8 1799.0C307.9 1799.3 310.9 1801.2 314.0 1799.0C317.1 1796.8 320.1 1789.5 323.2 1786.1C326.3 1782.7 329.3 1781.2 332.4 1778.7C335.5 1776.2 338.5 1777.5 341.6 1771.4C344.7 1765.3 347.7 1754.2 350.8 1741.9C353.9 1729.6 356.9 1714.0 360.0 1697.8C363.1 1681.5 366.1 1657.9 369.2 1644.4C372.3 1630.9 376.2 1621.5 378.4 1616.8C380.5 1612.0 380.2 1612.5 382.1 1615.9C384.0 1619.3 387.1 1631.0 389.5 1637.0C391.9 1643.0 394.1 1646.6 396.8 1651.8C399.6 1657.0 402.9 1662.5 406.0 1668.3C409.1 1674.1 412.1 1683.9 415.2 1686.7C418.3 1689.5 421.3 1686.1 424.4 1684.9C427.5 1683.7 430.5 1683.4 433.6 1679.4C436.7 1675.4 439.7 1668.7 442.8 1661.0C445.9 1653.3 449.9 1638.9 452.0 1633.4C454.1 1627.9 454.2 1625.7 455.7 1627.8C457.2 1629.9 458.8 1641.3 461.2 1646.2C463.6 1651.1 467.3 1650.8 470.4 1657.3C473.5 1663.8 476.5 1678.5 479.6 1684.9C482.7 1691.3 485.7 1695.6 488.8 1695.9C491.9 1696.2 494.9 1691.6 498.0 1686.7C501.1 1681.8 504.1 1676.3 507.2 1666.5C510.3 1656.7 513.3 1632.1 516.4 1627.8C519.5 1623.5 522.5 1636.4 525.6 1640.7C528.7 1645.0 532.3 1650.8 534.8 1653.6C537.2 1656.4 537.8 1660.4 540.3 1657.3C542.8 1654.2 545.8 1639.5 549.5 1635.2C553.2 1630.9 558.7 1629.3 562.4 1631.5C566.1 1633.7 568.5 1644.1 571.6 1648.1C574.7 1652.1 577.7 1653.9 580.8 1655.4C583.9 1656.9 586.9 1653.3 590.0 1657.3C593.1 1661.3 596.1 1670.8 599.2 1679.4C602.3 1688.0 605.3 1702.7 608.4 1708.8C611.5 1714.9 614.5 1712.8 617.6 1716.2C620.7 1719.6 623.7 1730.9 626.8 1729.1C629.9 1727.2 632.3 1716.8 636.0 1705.1C639.7 1693.4 645.3 1667.1 648.9 1659.1C652.5 1651.1 654.8 1657.9 657.8 1657.3C660.8 1656.7 663.7 1659.3 666.7 1655.5C669.7 1651.7 672.6 1643.1 675.6 1634.2C678.6 1625.3 681.5 1612.2 684.5 1602.1C687.5 1592.0 690.5 1581.3 693.5 1573.6C696.5 1565.9 699.4 1559.1 702.4 1555.8C705.4 1552.5 708.3 1554.3 711.3 1554.0C714.3 1553.7 717.2 1552.2 720.2 1554.0C723.2 1555.8 726.1 1561.7 729.1 1564.7C732.1 1567.7 735.0 1570.0 738.0 1571.8C741.0 1573.6 743.9 1572.7 746.9 1575.4C749.9 1578.1 752.8 1581.6 755.8 1587.8C758.8 1594.0 761.7 1604.5 764.7 1612.8C767.7 1621.1 770.6 1628.8 773.6 1637.7C776.6 1646.6 779.5 1657.3 782.5 1666.2C785.5 1675.1 788.4 1681.7 791.4 1691.2C794.4 1700.7 798.0 1717.4 800.4 1723.3C802.8 1729.2 803.9 1727.4 805.7 1726.8C807.5 1726.2 808.9 1725.6 811.0 1719.7C813.1 1713.8 815.5 1701.9 818.2 1691.2C820.9 1680.5 824.1 1664.4 827.1 1655.5C830.1 1646.6 833.0 1642.5 836.0 1637.7C839.0 1633.0 841.9 1628.2 844.9 1627.0C847.9 1625.8 850.8 1629.1 853.8 1630.6C856.8 1632.1 859.7 1633.8 862.7 1635.9C865.7 1638.0 868.6 1641.0 871.6 1643.1C874.6 1645.2 877.5 1644.6 880.5 1648.4C883.5 1652.2 886.4 1660.2 889.4 1666.2C892.4 1672.2 895.4 1678.1 898.4 1684.1C901.4 1690.0 904.3 1698.4 907.3 1701.9C910.3 1705.5 913.2 1704.5 916.2 1705.4C919.2 1706.3 922.1 1704.8 925.1 1707.2C928.1 1709.6 931.0 1715.8 934.0 1719.7C937.0 1723.6 939.9 1727.4 942.9 1730.4C945.9 1733.4 949.3 1736.0 951.8 1737.5C954.3 1739.0 956.0 1737.2 957.9 1739.3C959.8 1741.4 960.1 1746.4 963.2 1749.9C966.3 1753.4 972.1 1757.3 976.5 1760.4C980.9 1763.5 985.3 1765.8 989.7 1768.4C994.1 1771.1 998.5 1773.9 1002.9 1776.3C1007.3 1778.7 1011.7 1780.5 1016.1 1782.9C1020.5 1785.3 1025.0 1788.0 1029.4 1790.9C1033.8 1793.8 1038.2 1797.2 1042.6 1800.1C1047.0 1803.0 1051.4 1806.3 1055.8 1808.1C1060.2 1809.9 1064.7 1809.8 1069.1 1810.7C1073.5 1811.6 1077.9 1811.6 1082.3 1813.4C1086.7 1815.2 1091.1 1818.9 1095.5 1821.3C1099.9 1823.7 1104.3 1826.1 1108.7 1827.9C1113.1 1829.7 1117.6 1831.0 1122.0 1831.9C1126.4 1832.8 1130.8 1832.6 1135.2 1833.2C1139.6 1833.8 1144.0 1834.7 1148.4 1835.8C1152.8 1836.9 1157.3 1838.7 1161.7 1839.8C1166.1 1840.9 1170.5 1841.4 1174.9 1842.5C1179.3 1843.6 1183.7 1845.5 1188.1 1846.4C1192.5 1847.3 1196.9 1847.1 1201.3 1847.8C1205.7 1848.5 1210.2 1849.3 1214.6 1850.4C1219.0 1851.5 1223.4 1854.4 1227.8 1854.4C1232.2 1854.4 1236.6 1850.6 1241.0 1850.4C1245.4 1850.2 1250.3 1852.1 1254.3 1853.0C1258.3 1853.9 1261.3 1856.6 1264.8 1855.7C1268.3 1854.8 1272.1 1849.6 1275.4 1847.8C1278.7 1846.0 1283.2 1845.5 1284.7 1845.1" stroke="#ac79df" stroke-width="7.5"/>
<path d="M271.0 1800.8C272.0 1800.8 274.6 1802.3 277.2 1800.8C279.8 1799.3 283.3 1793.1 286.4 1791.6C289.5 1790.1 292.5 1791.3 295.6 1791.6C298.7 1791.9 301.7 1792.9 304.8 1793.5C307.9 1794.1 310.9 1798.4 314.0 1795.3C317.1 1792.2 320.1 1779.1 323.2 1775.1C326.3 1771.1 329.3 1773.2 332.4 1771.4C335.5 1769.6 338.5 1769.5 341.6 1764.0C344.7 1758.5 347.7 1750.0 350.8 1738.3C353.9 1726.6 356.9 1710.0 360.0 1694.1C363.1 1678.1 366.1 1656.1 369.2 1642.6C372.3 1629.1 376.2 1618.3 378.4 1613.1C380.5 1607.9 380.2 1607.6 382.1 1611.3C384.0 1615.0 387.1 1628.8 389.5 1635.2C391.9 1641.6 394.1 1644.7 396.8 1649.9C399.6 1655.1 402.9 1660.7 406.0 1666.5C409.1 1672.3 412.1 1682.5 415.2 1684.9C418.3 1687.4 421.3 1683.4 424.4 1681.2C427.5 1679.0 430.5 1676.0 433.6 1672.0C436.7 1668.0 439.7 1664.0 442.8 1657.3C445.9 1650.5 449.9 1637.0 452.0 1631.5C454.1 1626.0 454.2 1622.7 455.7 1624.2C457.2 1625.7 458.8 1636.4 461.2 1640.7C463.6 1645.0 467.3 1644.1 470.4 1649.9C473.5 1655.7 476.5 1670.2 479.6 1675.7C482.7 1681.2 485.7 1683.4 488.8 1683.1C491.9 1682.8 494.9 1678.7 498.0 1673.8C501.1 1668.9 504.1 1663.1 507.2 1653.6C510.3 1644.1 513.3 1621.7 516.4 1616.8C519.5 1611.9 522.5 1620.5 525.6 1624.2C528.7 1627.9 532.3 1635.8 534.8 1638.9C537.2 1642.0 537.8 1645.7 540.3 1642.6C542.8 1639.5 545.8 1624.8 549.5 1620.5C553.2 1616.2 558.7 1615.3 562.4 1616.8C566.1 1618.3 568.5 1626.9 571.6 1629.7C574.7 1632.5 577.7 1629.7 580.8 1633.4C583.9 1637.1 586.9 1645.4 590.0 1651.8C593.1 1658.2 596.1 1664.7 599.2 1672.0C602.3 1679.3 605.3 1690.7 608.4 1695.9C611.5 1701.1 614.5 1696.5 617.6 1703.3C620.7 1710.0 623.7 1731.5 626.8 1736.4C629.9 1741.3 632.3 1738.5 636.0 1732.7C639.7 1727.0 645.3 1707.6 648.9 1701.9C652.5 1696.2 654.8 1698.9 657.8 1698.3C660.8 1697.7 663.7 1701.3 666.7 1698.3C669.7 1695.3 672.6 1687.0 675.6 1680.5C678.6 1674.0 681.5 1666.2 684.5 1659.1C687.5 1652.0 690.5 1643.0 693.5 1637.7C696.5 1632.4 699.4 1629.1 702.4 1627.0C705.4 1624.9 708.3 1625.3 711.3 1625.3C714.3 1625.3 717.2 1625.2 720.2 1627.0C723.2 1628.8 726.1 1633.2 729.1 1635.9C732.1 1638.6 735.0 1641.0 738.0 1643.1C741.0 1645.2 743.9 1645.7 746.9 1648.4C749.9 1651.1 752.8 1654.6 755.8 1659.1C758.8 1663.5 761.7 1669.2 764.7 1675.1C767.7 1681.0 770.6 1687.3 773.6 1694.7C776.6 1702.1 779.5 1711.4 782.5 1719.7C785.5 1728.0 788.4 1736.9 791.4 1744.6C794.4 1752.3 798.0 1762.1 800.4 1766.0C802.8 1769.9 803.9 1768.7 805.7 1767.8C807.5 1766.9 808.9 1765.8 811.0 1760.7C813.1 1755.7 815.5 1744.9 818.2 1737.5C820.9 1730.1 824.1 1721.4 827.1 1716.1C830.1 1710.8 833.0 1707.8 836.0 1705.4C839.0 1703.0 841.9 1701.9 844.9 1701.9C847.9 1701.9 850.8 1703.9 853.8 1705.4C856.8 1706.9 859.7 1709.0 862.7 1710.8C865.7 1712.6 868.6 1714.0 871.6 1716.1C874.6 1718.2 877.5 1719.7 880.5 1723.3C883.5 1726.9 886.4 1733.0 889.4 1737.5C892.4 1742.0 895.4 1746.1 898.4 1750.0C901.4 1753.9 904.3 1758.6 907.3 1760.7C910.3 1762.8 913.2 1761.5 916.2 1762.4C919.2 1763.3 922.1 1764.2 925.1 1766.0C928.1 1767.8 931.0 1770.4 934.0 1773.1C937.0 1775.8 939.9 1779.6 942.9 1782.0C945.9 1784.4 949.3 1786.2 951.8 1787.4C954.3 1788.7 956.0 1787.8 957.9 1789.5C959.8 1791.2 960.1 1795.1 963.2 1797.5C966.3 1799.9 972.1 1802.1 976.5 1804.1C980.9 1806.1 985.3 1807.6 989.7 1809.4C994.1 1811.2 998.5 1813.2 1002.9 1814.7C1007.3 1816.2 1011.7 1817.2 1016.1 1818.7C1020.5 1820.2 1025.0 1821.9 1029.4 1823.9C1033.8 1825.9 1038.2 1828.8 1042.6 1830.6C1047.0 1832.4 1051.4 1833.6 1055.8 1834.5C1060.2 1835.4 1064.7 1835.3 1069.1 1835.8C1073.5 1836.2 1077.9 1836.3 1082.3 1837.2C1086.7 1838.1 1091.1 1840.0 1095.5 1841.1C1099.9 1842.2 1104.3 1842.9 1108.7 1843.8C1113.1 1844.7 1117.6 1846.0 1122.0 1846.4C1126.4 1846.8 1130.8 1846.2 1135.2 1846.4C1139.6 1846.6 1144.0 1847.3 1148.4 1847.8C1152.8 1848.2 1157.3 1848.7 1161.7 1849.1C1166.1 1849.5 1170.5 1850.0 1174.9 1850.4C1179.3 1850.8 1183.7 1850.8 1188.1 1851.7C1192.5 1852.6 1196.9 1854.4 1201.3 1855.7C1205.7 1857.0 1210.2 1858.6 1214.6 1859.7C1219.0 1860.8 1223.4 1862.5 1227.8 1862.3C1232.2 1862.1 1236.6 1858.5 1241.0 1858.3C1245.4 1858.1 1250.3 1860.8 1254.3 1861.0C1258.3 1861.2 1261.3 1860.8 1264.8 1859.7C1268.3 1858.6 1272.1 1855.7 1275.4 1854.4C1278.7 1853.1 1283.2 1852.2 1284.7 1851.7" stroke="#c99700" stroke-width="7.5"/>
<path d="M271.0 1797.1C272.0 1797.1 274.6 1799.2 277.2 1797.1C279.8 1795.0 283.3 1786.6 286.4 1784.3C289.5 1782.0 292.5 1783.0 295.6 1783.3C298.7 1783.6 301.7 1785.0 304.8 1786.1C307.9 1787.2 310.9 1793.5 314.0 1789.8C317.1 1786.1 320.8 1768.6 323.2 1764.0C325.6 1759.4 327.2 1761.9 328.7 1762.2C330.2 1762.5 330.2 1767.4 332.4 1765.9C334.5 1764.4 338.5 1759.8 341.6 1753.0C344.7 1746.2 347.7 1735.8 350.8 1725.4C353.9 1715.0 356.9 1704.5 360.0 1690.4C363.1 1676.3 366.1 1654.2 369.2 1640.7C372.3 1627.2 375.9 1614.9 378.4 1609.4C380.8 1603.9 382.0 1606.4 383.9 1607.6C385.8 1608.8 387.4 1610.7 389.5 1616.8C391.6 1622.9 394.1 1637.7 396.8 1644.4C399.6 1651.2 402.9 1651.5 406.0 1657.3C409.1 1663.1 412.1 1676.7 415.2 1679.4C418.3 1682.2 421.3 1677.5 424.4 1673.8C427.5 1670.1 430.5 1662.2 433.6 1657.3C436.7 1652.4 439.7 1650.5 442.8 1644.4C445.9 1638.3 449.6 1625.1 452.0 1620.5C454.4 1615.9 455.1 1614.3 457.5 1616.8C459.9 1619.2 464.6 1631.5 466.7 1635.2C468.8 1638.9 468.2 1634.3 470.4 1638.9C472.5 1643.5 476.5 1657.6 479.6 1662.8C482.7 1668.0 486.4 1668.4 488.8 1670.2C491.2 1672.0 491.2 1677.2 494.3 1673.8C497.4 1670.4 503.5 1660.9 507.2 1649.9C510.9 1638.9 513.3 1614.3 516.4 1607.6C519.5 1600.8 522.5 1607.0 525.6 1609.4C528.7 1611.9 532.3 1618.3 534.8 1622.3C537.2 1626.3 537.8 1635.9 540.3 1633.4C542.8 1631.0 545.8 1613.1 549.5 1607.6C553.2 1602.1 558.7 1599.9 562.4 1600.2C566.1 1600.5 568.5 1607.6 571.6 1609.4C574.7 1611.2 577.7 1608.5 580.8 1611.3C583.9 1614.1 586.9 1619.6 590.0 1626.0C593.1 1632.4 596.1 1643.8 599.2 1649.9C602.3 1656.0 606.2 1656.7 608.4 1662.8C610.5 1668.9 610.0 1682.1 612.1 1686.7C614.2 1691.3 618.5 1684.6 621.3 1690.4C624.1 1696.2 626.2 1712.2 628.7 1721.7C631.2 1731.2 632.6 1744.9 636.0 1747.5C639.4 1750.1 645.3 1739.5 648.9 1737.5C652.5 1735.5 654.8 1736.0 657.8 1735.7C660.8 1735.4 663.7 1737.2 666.7 1735.7C669.7 1734.2 672.6 1730.7 675.6 1726.8C678.6 1722.9 681.5 1717.3 684.5 1712.6C687.5 1707.8 690.5 1702.5 693.5 1698.3C696.5 1694.1 699.4 1689.4 702.4 1687.6C705.4 1685.8 708.3 1687.3 711.3 1687.6C714.3 1687.9 717.2 1687.9 720.2 1689.4C723.2 1690.9 726.1 1694.1 729.1 1696.5C732.1 1698.9 735.0 1701.6 738.0 1703.7C741.0 1705.8 743.9 1706.6 746.9 1709.0C749.9 1711.4 752.8 1714.3 755.8 1717.9C758.8 1721.5 761.7 1726.0 764.7 1730.4C767.7 1734.9 770.6 1739.3 773.6 1744.6C776.6 1749.9 779.5 1756.5 782.5 1762.4C785.5 1768.4 788.4 1774.3 791.4 1780.3C794.4 1786.2 798.0 1794.5 800.4 1798.1C802.8 1801.6 803.9 1801.3 805.7 1801.6C807.5 1801.9 808.9 1802.3 811.0 1799.9C813.1 1797.5 815.5 1791.9 818.2 1787.4C820.9 1782.9 824.1 1777.0 827.1 1773.1C830.1 1769.2 833.0 1766.3 836.0 1764.2C839.0 1762.1 841.9 1760.7 844.9 1760.7C847.9 1760.7 850.8 1762.7 853.8 1764.2C856.8 1765.7 859.7 1767.8 862.7 1769.6C865.7 1771.4 868.6 1773.1 871.6 1774.9C874.6 1776.7 877.5 1778.2 880.5 1780.3C883.5 1782.4 886.4 1784.7 889.4 1787.4C892.4 1790.1 895.4 1793.6 898.4 1796.3C901.4 1799.0 904.3 1801.9 907.3 1803.4C910.3 1804.9 913.2 1804.3 916.2 1805.2C919.2 1806.1 922.1 1807.3 925.1 1808.8C928.1 1810.3 931.0 1812.3 934.0 1814.1C937.0 1815.9 939.9 1818.0 942.9 1819.5C945.9 1821.0 948.4 1820.9 951.8 1823.0C955.2 1825.1 959.1 1829.8 963.2 1831.9C967.3 1834.0 972.1 1834.7 976.5 1835.8C980.9 1836.9 985.3 1837.6 989.7 1838.5C994.1 1839.4 998.5 1840.2 1002.9 1841.1C1007.3 1842.0 1011.7 1842.9 1016.1 1843.8C1020.5 1844.7 1025.0 1845.5 1029.4 1846.4C1033.8 1847.3 1038.2 1848.6 1042.6 1849.1C1047.0 1849.5 1051.4 1849.3 1055.8 1849.1C1060.2 1848.9 1064.7 1847.8 1069.1 1847.8C1073.5 1847.8 1077.9 1848.7 1082.3 1849.1C1086.7 1849.5 1091.1 1850.0 1095.5 1850.4C1099.9 1850.8 1104.3 1851.5 1108.7 1851.7C1113.1 1851.9 1117.6 1851.9 1122.0 1851.7C1126.4 1851.5 1130.8 1850.4 1135.2 1850.4C1139.6 1850.4 1144.0 1851.5 1148.4 1851.7C1152.8 1851.9 1157.3 1851.7 1161.7 1851.7C1166.1 1851.7 1170.5 1851.5 1174.9 1851.7C1179.3 1851.9 1183.7 1852.8 1188.1 1853.0C1192.5 1853.2 1196.9 1852.5 1201.3 1853.0C1205.7 1853.5 1210.2 1854.4 1214.6 1855.7C1219.0 1857.0 1223.4 1861.0 1227.8 1861.0C1232.2 1861.0 1236.6 1856.6 1241.0 1855.7C1245.4 1854.8 1250.3 1855.7 1254.3 1855.7C1258.3 1855.7 1261.3 1856.8 1264.8 1855.7C1268.3 1854.6 1272.1 1850.9 1275.4 1849.1C1278.7 1847.3 1283.2 1845.8 1284.7 1845.1" stroke="#00cccc" stroke-width="7.5"/>
</g>
<rect x="273.0" y="1196.0" width="1015.0" height="819.0" fill="none" stroke="#000" stroke-width="5.8"/>
<path d="M273.0 2015.0V1999.0M357.6 2015.0V2006.5M442.2 2015.0V1999.0M526.8 2015.0V2006.5M611.3 2015.0V1999.0M695.9 2015.0V2006.5M780.5 2015.0V1999.0M865.1 2015.0V2006.5M949.7 2015.0V1999.0M1034.2 2015.0V2006.5M1118.8 2015.0V1999.0M1203.4 2015.0V2006.5M1288.0 2015.0V1999.0M273.0 2015.0H289.0M273.0 1946.8H281.5M273.0 1878.5H289.0M273.0 1810.2H281.5M273.0 1742.0H289.0M273.0 1673.8H281.5M273.0 1605.5H289.0M273.0 1537.2H281.5M273.0 1469.0H289.0M273.0 1400.8H281.5M273.0 1332.5H289.0M273.0 1264.2H281.5M273.0 1196.0H289.0" stroke="#000" stroke-width="5.7" fill="none"/>
<g style="font-family:'Liberation Sans',sans-serif;font-size:56px" fill="#000">
<text x="255.0" y="2032.0" text-anchor="end">0.00</text>
<text x="255.0" y="1895.5" text-anchor="end">0.02</text>
<text x="255.0" y="1759.0" text-anchor="end">0.04</text>
<text x="255.0" y="1622.5" text-anchor="end">0.06</text>
<text x="255.0" y="1486.0" text-anchor="end">0.08</text>
<text x="255.0" y="1349.5" text-anchor="end">0.10</text>
<text x="255.0" y="1213.0" text-anchor="end">0.12</text>
<text x="273.0" y="2076.0" text-anchor="middle">8</text>
<text x="442.2" y="2076.0" text-anchor="middle">9</text>
<text x="611.3" y="2076.0" text-anchor="middle">10</text>
<text x="780.5" y="2076.0" text-anchor="middle">11</text>
<text x="949.7" y="2076.0" text-anchor="middle">12</text>
<text x="1118.8" y="2076.0" text-anchor="middle">13</text>
<text x="1288.0" y="2076.0" text-anchor="middle">14</text>
</g>
<text x="123.2" y="1605.4" style="font-family:'Liberation Serif',serif;font-size:72px" transform="rotate(-90 123.2 1605.4)" text-anchor="middle">Reflectance</text>
<text x="528.3" y="2151.5" style="font-family:'Liberation Serif',serif;font-size:72px;letter-spacing:0.6px">Wavelength (<tspan font-style="italic">&#956;</tspan>m)</text>
<text x="49.5" y="1182.5" style="font-family:'Liberation Serif',serif;font-size:50px;font-weight:bold">(c)</text>
<path d="M327.0 1234.0H414.0" stroke="#7a7a7a" stroke-width="7.5" stroke-dasharray="13.5 23"/>
<text x="442.7" y="1250.0" style="font-family:'Liberation Serif',serif;font-size:47px">Fresh <tspan font-style="italic">Gardenia</tspan> leaf</text>
<path d="M327.0 1291.5H431.0" stroke="#ee3d40" stroke-width="7.5"/>
<text x="442.7" y="1307.5" style="font-family:'Liberation Serif',serif;font-size:47px">0%</text>
<path d="M327.0 1349.0H431.0" stroke="#1f6bdb" stroke-width="7.5"/>
<text x="442.7" y="1365.0" style="font-family:'Liberation Serif',serif;font-size:47px">10%</text>
<path d="M327.0 1406.5H431.0" stroke="#3aa96b" stroke-width="7.5"/>
<text x="442.7" y="1422.5" style="font-family:'Liberation Serif',serif;font-size:47px">20%</text>
<path d="M327.0 1464.0H431.0" stroke="#ac79df" stroke-width="7.5"/>
<text x="442.7" y="1480.0" style="font-family:'Liberation Serif',serif;font-size:47px">30%</text>
<path d="M327.0 1521.5H431.0" stroke="#c99700" stroke-width="7.5"/>
<text x="442.7" y="1537.5" style="font-family:'Liberation Serif',serif;font-size:47px">40%</text>
<path d="M327.0 1579.0H431.0" stroke="#00cccc" stroke-width="7.5"/>
<text x="442.7" y="1595.0" style="font-family:'Liberation Serif',serif;font-size:47px">50%</text>
<clipPath id="clipd"><rect x="1598.0" y="1198.4" width="1013.0" height="817.1"/></clipPath>
<g clip-path="url(#clipd)" fill="none" stroke-linejoin="round" stroke-linecap="round">
<path d="M1596.0 1729.4C1596.8 1730.4 1599.1 1732.8 1600.9 1735.4C1602.7 1738.0 1604.4 1740.9 1606.7 1745.1C1609.0 1749.3 1612.3 1758.8 1614.6 1760.8C1616.9 1762.8 1618.1 1757.9 1620.4 1756.9C1622.7 1755.9 1625.9 1754.6 1628.2 1754.9C1630.5 1755.2 1632.1 1755.9 1634.1 1758.8C1636.1 1761.7 1638.0 1766.3 1640.0 1772.5C1642.0 1778.7 1643.8 1786.9 1645.8 1796.0C1647.8 1805.1 1649.4 1821.4 1651.7 1827.3C1654.0 1833.2 1656.6 1829.6 1659.5 1831.2C1662.4 1832.8 1666.4 1826.7 1669.3 1837.1C1672.2 1847.5 1674.8 1883.4 1677.1 1893.8C1679.4 1904.2 1680.7 1898.3 1683.0 1899.6C1685.3 1900.9 1688.2 1907.1 1690.8 1901.6C1693.4 1896.1 1696.3 1873.6 1698.6 1866.4C1700.9 1859.2 1702.2 1859.2 1704.5 1858.6C1706.8 1857.9 1709.7 1859.9 1712.3 1862.5C1714.9 1865.1 1717.5 1869.0 1720.1 1874.2C1722.7 1879.4 1725.4 1889.2 1728.0 1893.8C1730.6 1898.4 1733.2 1900.3 1735.8 1901.6C1738.4 1902.9 1741.0 1906.2 1743.6 1901.6C1746.2 1897.0 1748.5 1883.7 1751.4 1874.2C1754.3 1864.8 1757.9 1850.4 1761.2 1844.9C1764.5 1839.4 1767.4 1841.3 1771.0 1841.0C1774.6 1840.7 1779.5 1843.9 1782.7 1842.9C1786.0 1841.9 1787.6 1839.7 1790.5 1835.1C1793.4 1830.5 1797.0 1823.3 1800.3 1815.5C1803.6 1807.7 1806.8 1801.2 1810.1 1788.2C1813.4 1775.2 1817.3 1748.4 1819.9 1737.3C1822.5 1726.2 1823.1 1723.3 1825.7 1721.7C1828.3 1720.1 1832.6 1726.9 1835.5 1727.6C1838.4 1728.2 1841.0 1724.0 1843.3 1725.6C1845.6 1727.2 1846.9 1733.4 1849.2 1737.3C1851.5 1741.2 1854.7 1748.4 1857.0 1749.1C1859.3 1749.8 1860.3 1740.5 1862.9 1741.2C1865.5 1741.9 1869.4 1755.9 1872.7 1753.0C1876.0 1750.1 1879.2 1730.1 1882.5 1723.6C1885.8 1717.1 1888.6 1718.1 1892.2 1713.9C1895.8 1709.7 1900.7 1699.8 1904.0 1698.2C1907.3 1696.6 1909.2 1703.4 1911.8 1704.1C1914.4 1704.8 1917.0 1702.4 1919.6 1702.1C1922.2 1701.8 1924.9 1704.4 1927.4 1702.1C1929.9 1699.8 1932.2 1690.3 1934.5 1688.0C1936.8 1685.7 1939.5 1689.5 1941.4 1688.0C1943.3 1686.5 1944.1 1688.1 1946.0 1678.9C1947.9 1669.7 1950.6 1650.2 1952.9 1632.9C1955.2 1615.7 1957.5 1594.6 1959.8 1575.4C1962.1 1556.2 1964.8 1533.2 1966.7 1517.9C1968.6 1502.6 1969.4 1492.2 1971.3 1483.4C1973.2 1474.6 1975.5 1468.1 1978.2 1465.1C1980.9 1462.0 1984.7 1468.5 1987.4 1465.1C1990.1 1461.6 1992.0 1452.8 1994.3 1444.4C1996.6 1436.0 1998.8 1425.2 2001.1 1414.5C2003.4 1403.8 2005.8 1394.7 2008.0 1380.0C2010.2 1365.3 2011.5 1343.0 2014.0 1326.6C2016.5 1310.2 2019.8 1293.9 2022.7 1281.8C2025.6 1269.7 2028.2 1260.0 2031.3 1254.2C2034.4 1248.5 2038.1 1246.5 2041.6 1247.3C2045.0 1248.1 2048.5 1255.3 2052.0 1259.3C2055.5 1263.3 2059.0 1268.8 2062.4 1271.4C2065.8 1274.0 2069.2 1269.7 2072.7 1274.9C2076.1 1280.1 2079.6 1292.7 2083.1 1302.5C2086.6 1312.3 2089.9 1319.8 2093.4 1333.6C2096.9 1347.4 2100.4 1365.8 2103.8 1385.3C2107.2 1404.8 2110.7 1429.6 2114.1 1450.9C2117.5 1472.2 2121.9 1500.9 2124.5 1513.0C2127.1 1525.1 2128.0 1523.4 2129.7 1523.4C2131.4 1523.4 2132.2 1527.4 2134.8 1513.0C2137.4 1498.6 2141.7 1462.4 2145.2 1437.1C2148.7 1411.8 2152.1 1381.9 2155.6 1361.2C2159.1 1340.5 2162.8 1323.7 2165.9 1312.8C2169.1 1301.9 2171.1 1297.6 2174.5 1295.6C2177.9 1293.6 2182.8 1297.6 2186.6 1300.8C2190.3 1304.0 2193.6 1310.3 2197.0 1314.6C2200.4 1318.9 2203.9 1321.1 2207.3 1326.6C2210.8 1332.1 2214.2 1339.9 2217.7 1347.4C2221.1 1354.9 2224.6 1365.2 2228.0 1371.5C2231.4 1377.8 2234.9 1381.8 2238.4 1385.3C2241.9 1388.8 2245.4 1389.3 2248.8 1392.2C2252.2 1395.1 2255.7 1398.0 2259.1 1402.6C2262.5 1407.2 2265.3 1412.6 2269.5 1419.8C2273.7 1427.0 2280.2 1438.9 2284.2 1445.5C2288.2 1452.1 2290.3 1455.1 2293.4 1459.3C2296.5 1463.5 2298.0 1465.8 2302.6 1470.8C2307.2 1475.8 2315.6 1484.2 2321.0 1489.2C2326.4 1494.2 2329.8 1495.7 2334.8 1500.7C2339.8 1505.7 2345.5 1511.4 2350.9 1519.1C2356.3 1526.8 2360.5 1538.3 2367.0 1546.7C2373.5 1555.1 2383.9 1565.5 2390.0 1569.7C2396.1 1573.9 2399.2 1567.4 2403.8 1572.0C2408.4 1576.6 2413.8 1592.3 2417.6 1597.3C2421.4 1602.3 2421.8 1597.7 2426.8 1601.9C2431.8 1606.1 2442.1 1618.4 2447.5 1622.6C2452.9 1626.8 2454.0 1624.1 2459.0 1627.2C2464.0 1630.3 2472.0 1637.9 2477.4 1641.0C2482.8 1644.1 2484.7 1640.2 2491.2 1645.6C2497.7 1651.0 2509.6 1667.5 2516.5 1673.2C2523.4 1679.0 2527.2 1677.4 2532.6 1680.1C2538.0 1682.8 2542.9 1686.2 2548.7 1689.3C2554.4 1692.4 2562.1 1694.7 2567.1 1698.5C2572.1 1702.3 2574.6 1707.3 2578.6 1712.3C2582.6 1717.3 2586.4 1727.2 2591.2 1728.4C2596.0 1729.6 2604.6 1720.7 2607.3 1719.2" stroke="#ee3d40" stroke-width="7.5"/>
<path d="M1596.0 1747.0C1596.8 1748.0 1599.1 1750.7 1600.9 1753.0C1602.7 1755.3 1604.4 1756.9 1606.7 1760.8C1609.0 1764.7 1612.3 1774.1 1614.6 1776.4C1616.9 1778.7 1618.1 1775.5 1620.4 1774.5C1622.7 1773.5 1625.9 1770.9 1628.2 1770.6C1630.5 1770.3 1632.1 1770.2 1634.1 1772.5C1636.1 1774.8 1638.0 1778.4 1640.0 1784.3C1642.0 1790.2 1643.8 1799.6 1645.8 1807.7C1647.8 1815.8 1649.4 1828.2 1651.7 1833.1C1654.0 1838.0 1656.6 1835.5 1659.5 1837.1C1662.4 1838.7 1666.4 1833.5 1669.3 1842.9C1672.2 1852.4 1674.8 1884.0 1677.1 1893.8C1679.4 1903.6 1680.7 1900.3 1683.0 1901.6C1685.3 1902.9 1688.2 1906.8 1690.8 1901.6C1693.4 1896.4 1696.3 1876.5 1698.6 1870.3C1700.9 1864.1 1702.2 1864.7 1704.5 1864.4C1706.8 1864.1 1709.7 1866.0 1712.3 1868.3C1714.9 1870.6 1717.5 1873.5 1720.1 1878.1C1722.7 1882.7 1725.4 1891.5 1728.0 1895.7C1730.6 1899.9 1733.2 1902.2 1735.8 1903.5C1738.4 1904.8 1741.0 1907.7 1743.6 1903.5C1746.2 1899.3 1748.5 1886.6 1751.4 1878.1C1754.3 1869.6 1757.9 1857.6 1761.2 1852.7C1764.5 1847.8 1767.4 1849.1 1771.0 1848.8C1774.6 1848.5 1779.5 1851.7 1782.7 1850.7C1786.0 1849.7 1787.6 1847.5 1790.5 1842.9C1793.4 1838.4 1797.0 1831.2 1800.3 1823.4C1803.6 1815.6 1806.8 1807.1 1810.1 1796.0C1813.4 1784.9 1817.3 1765.7 1819.9 1756.9C1822.5 1748.1 1823.1 1744.5 1825.7 1743.2C1828.3 1741.9 1832.6 1748.1 1835.5 1749.1C1838.4 1750.1 1841.0 1747.1 1843.3 1749.1C1845.6 1751.0 1846.9 1757.2 1849.2 1760.8C1851.5 1764.4 1854.7 1770.3 1857.0 1770.6C1859.3 1770.9 1860.3 1762.0 1862.9 1762.7C1865.5 1763.4 1869.4 1777.1 1872.7 1774.5C1876.0 1771.9 1879.2 1753.0 1882.5 1747.1C1885.8 1741.2 1888.6 1742.5 1892.2 1739.3C1895.8 1736.0 1900.7 1728.6 1904.0 1727.6C1907.3 1726.6 1909.2 1732.8 1911.8 1733.4C1914.4 1734.1 1917.0 1731.8 1919.6 1731.5C1922.2 1731.2 1924.9 1733.4 1927.4 1731.5C1929.9 1729.6 1931.8 1722.9 1934.5 1720.2C1937.2 1717.5 1941.0 1722.5 1943.7 1715.6C1946.4 1708.7 1947.5 1696.5 1950.6 1678.9C1953.7 1661.3 1958.6 1632.9 1962.1 1609.9C1965.5 1586.9 1968.6 1555.9 1971.3 1540.9C1974.0 1526.0 1975.1 1523.7 1978.2 1520.2C1981.3 1516.8 1986.2 1526.3 1989.7 1520.2C1993.2 1514.1 1995.5 1499.1 1998.9 1483.4C2002.3 1467.7 2006.9 1443.2 2010.3 1426.0C2013.7 1408.8 2017.4 1392.5 2019.5 1380.0C2021.6 1367.5 2020.7 1358.0 2022.7 1350.8C2024.7 1343.6 2028.2 1340.5 2031.3 1337.0C2034.4 1333.5 2038.1 1329.5 2041.6 1330.1C2045.0 1330.7 2048.5 1337.0 2052.0 1340.5C2055.5 1344.0 2059.0 1348.5 2062.4 1350.8C2065.8 1353.1 2069.2 1349.1 2072.7 1354.3C2076.1 1359.5 2079.6 1372.7 2083.1 1381.9C2086.6 1391.1 2089.9 1396.8 2093.4 1409.5C2096.9 1422.2 2100.4 1440.0 2103.8 1457.8C2107.2 1475.6 2110.7 1497.5 2114.1 1516.5C2117.5 1535.5 2121.9 1561.4 2124.5 1571.7C2127.1 1582.0 2128.0 1578.6 2129.7 1578.6C2131.4 1578.6 2132.2 1584.9 2134.8 1571.7C2137.4 1558.5 2141.7 1522.8 2145.2 1499.2C2148.7 1475.6 2152.1 1448.6 2155.6 1430.2C2159.1 1411.8 2162.8 1397.4 2165.9 1388.8C2169.1 1380.2 2171.1 1379.6 2174.5 1378.4C2177.9 1377.2 2182.8 1379.0 2186.6 1381.9C2190.3 1384.8 2193.6 1391.7 2197.0 1395.7C2200.4 1399.7 2203.9 1400.8 2207.3 1406.0C2210.8 1411.2 2214.2 1419.3 2217.7 1426.8C2221.1 1434.3 2224.6 1444.6 2228.0 1450.9C2231.4 1457.2 2234.9 1461.2 2238.4 1464.7C2241.9 1468.2 2245.4 1468.7 2248.8 1471.6C2252.2 1474.5 2255.7 1478.0 2259.1 1482.0C2262.5 1486.0 2265.3 1492.3 2269.5 1495.8C2273.7 1499.3 2280.2 1497.6 2284.2 1503.0C2288.2 1508.4 2290.3 1523.3 2293.4 1528.3C2296.5 1533.3 2298.0 1529.1 2302.6 1532.9C2307.2 1536.7 2315.6 1546.7 2321.0 1551.3C2326.4 1555.9 2329.8 1555.9 2334.8 1560.5C2339.8 1565.1 2345.5 1572.0 2350.9 1578.9C2356.3 1585.8 2360.5 1594.6 2367.0 1601.9C2373.5 1609.2 2383.9 1618.8 2390.0 1622.6C2396.1 1626.4 2399.2 1621.1 2403.8 1624.9C2408.4 1628.7 2413.8 1641.8 2417.6 1645.6C2421.4 1649.4 2421.8 1644.1 2426.8 1647.9C2431.8 1651.7 2442.1 1664.8 2447.5 1668.6C2452.9 1672.4 2454.0 1668.6 2459.0 1670.9C2464.0 1673.2 2472.0 1680.1 2477.4 1682.4C2482.8 1684.7 2484.7 1679.7 2491.2 1684.7C2497.7 1689.7 2509.6 1706.9 2516.5 1712.3C2523.4 1717.7 2527.2 1715.0 2532.6 1716.9C2538.0 1718.8 2542.9 1721.5 2548.7 1723.8C2554.4 1726.1 2562.1 1727.6 2567.1 1730.7C2572.1 1733.8 2574.6 1738.0 2578.6 1742.2C2582.6 1746.4 2586.4 1755.2 2591.2 1756.0C2596.0 1756.8 2604.6 1748.3 2607.3 1746.8" stroke="#1f6bdb" stroke-width="7.5"/>
<path d="M1596.0 1760.7C1596.8 1761.7 1599.1 1764.1 1600.9 1766.7C1602.7 1769.3 1604.4 1772.8 1606.7 1776.4C1609.0 1780.0 1612.3 1786.6 1614.6 1788.2C1616.9 1789.8 1618.1 1786.9 1620.4 1786.2C1622.7 1785.5 1625.9 1784.3 1628.2 1784.3C1630.5 1784.3 1632.1 1784.2 1634.1 1786.2C1636.1 1788.2 1638.0 1790.5 1640.0 1796.0C1642.0 1801.5 1643.8 1812.0 1645.8 1819.5C1647.8 1827.0 1649.4 1836.8 1651.7 1841.0C1654.0 1845.2 1656.6 1843.6 1659.5 1844.9C1662.4 1846.2 1666.4 1840.3 1669.3 1848.8C1672.2 1857.3 1674.8 1886.7 1677.1 1895.7C1679.4 1904.7 1680.7 1901.3 1683.0 1902.6C1685.3 1903.9 1688.2 1908.2 1690.8 1903.5C1693.4 1898.8 1696.3 1880.1 1698.6 1874.2C1700.9 1868.3 1702.2 1868.6 1704.5 1868.3C1706.8 1868.0 1709.7 1870.0 1712.3 1872.3C1714.9 1874.6 1717.5 1877.8 1720.1 1882.0C1722.7 1886.2 1725.4 1894.0 1728.0 1897.7C1730.6 1901.5 1733.2 1903.4 1735.8 1904.5C1738.4 1905.6 1741.0 1908.2 1743.6 1904.5C1746.2 1900.8 1748.5 1888.7 1751.4 1882.0C1754.3 1875.3 1757.9 1868.0 1761.2 1864.4C1764.5 1860.8 1767.4 1860.8 1771.0 1860.5C1774.6 1860.2 1779.5 1863.5 1782.7 1862.5C1786.0 1861.5 1787.6 1858.6 1790.5 1854.7C1793.4 1850.8 1797.0 1845.5 1800.3 1839.0C1803.6 1832.5 1806.8 1825.3 1810.1 1815.5C1813.4 1805.7 1817.3 1788.1 1819.9 1780.3C1822.5 1772.5 1823.1 1769.9 1825.7 1768.6C1828.3 1767.3 1832.6 1771.8 1835.5 1772.5C1838.4 1773.2 1841.0 1770.9 1843.3 1772.5C1845.6 1774.1 1846.9 1779.4 1849.2 1782.3C1851.5 1785.2 1854.7 1789.4 1857.0 1790.1C1859.3 1790.8 1860.3 1785.2 1862.9 1786.2C1865.5 1787.2 1869.4 1798.3 1872.7 1796.0C1876.0 1793.7 1879.2 1777.7 1882.5 1772.5C1885.8 1767.3 1888.6 1767.3 1892.2 1764.7C1895.8 1762.1 1900.7 1757.6 1904.0 1756.9C1907.3 1756.2 1909.2 1760.5 1911.8 1760.8C1914.4 1761.1 1917.0 1759.1 1919.6 1758.8C1922.2 1758.5 1924.9 1760.2 1927.4 1758.8C1929.9 1757.3 1931.4 1753.5 1934.5 1750.1C1937.6 1746.7 1942.2 1748.6 1946.0 1738.6C1949.8 1728.6 1953.7 1711.8 1957.5 1690.3C1961.3 1668.8 1965.5 1628.7 1969.0 1609.9C1972.5 1591.1 1974.8 1583.1 1978.2 1577.7C1981.7 1572.3 1985.9 1583.8 1989.7 1577.7C1993.5 1571.6 1996.9 1558.5 2001.1 1540.9C2005.3 1523.3 2010.3 1492.3 2014.9 1472.0C2019.5 1451.7 2024.1 1429.4 2028.7 1419.1C2033.3 1408.8 2037.3 1408.8 2042.5 1409.9C2047.7 1411.1 2056.7 1422.6 2060.0 1426.0C2063.3 1429.4 2060.3 1428.9 2062.4 1430.2C2064.5 1431.5 2069.2 1429.1 2072.7 1433.7C2076.1 1438.3 2079.6 1449.2 2083.1 1457.8C2086.6 1466.4 2089.9 1473.3 2093.4 1485.4C2096.9 1497.5 2100.4 1514.2 2103.8 1530.3C2107.2 1546.4 2110.7 1565.4 2114.1 1582.1C2117.5 1598.8 2121.9 1621.2 2124.5 1630.4C2127.1 1639.6 2128.0 1637.3 2129.7 1637.3C2131.4 1637.3 2132.2 1643.1 2134.8 1630.4C2137.4 1617.8 2141.7 1582.7 2145.2 1561.4C2148.7 1540.1 2152.1 1517.7 2155.6 1502.7C2159.1 1487.7 2162.8 1478.5 2165.9 1471.6C2169.1 1464.7 2171.1 1461.9 2174.5 1461.3C2177.9 1460.7 2182.8 1465.3 2186.6 1468.2C2190.3 1471.1 2193.6 1475.0 2197.0 1478.5C2200.4 1482.0 2203.9 1483.7 2207.3 1488.9C2210.8 1494.1 2214.2 1502.7 2217.7 1509.6C2221.1 1516.5 2224.6 1525.1 2228.0 1530.3C2231.4 1535.5 2234.9 1537.8 2238.4 1540.7C2241.9 1543.6 2245.4 1544.7 2248.8 1547.6C2252.2 1550.5 2255.7 1554.5 2259.1 1557.9C2262.5 1561.4 2265.3 1565.6 2269.5 1568.3C2273.7 1571.0 2280.2 1569.5 2284.2 1574.3C2288.2 1579.1 2290.3 1593.1 2293.4 1597.3C2296.5 1601.5 2298.0 1596.5 2302.6 1599.6C2307.2 1602.7 2315.6 1611.5 2321.0 1615.7C2326.4 1619.9 2329.8 1620.7 2334.8 1624.9C2339.8 1629.1 2345.5 1634.9 2350.9 1641.0C2356.3 1647.1 2360.5 1656.0 2367.0 1661.7C2373.5 1667.5 2383.9 1672.8 2390.0 1675.5C2396.1 1678.2 2399.2 1674.3 2403.8 1677.8C2408.4 1681.2 2413.8 1692.8 2417.6 1696.2C2421.4 1699.7 2421.8 1695.8 2426.8 1698.5C2431.8 1701.2 2442.1 1709.6 2447.5 1712.3C2452.9 1715.0 2454.0 1712.7 2459.0 1714.6C2464.0 1716.5 2472.0 1721.9 2477.4 1723.8C2482.8 1725.7 2484.7 1722.3 2491.2 1726.1C2497.7 1729.9 2509.6 1743.0 2516.5 1746.8C2523.4 1750.6 2527.2 1747.6 2532.6 1749.1C2538.0 1750.6 2542.9 1754.1 2548.7 1756.0C2554.4 1757.9 2562.1 1757.9 2567.1 1760.6C2572.1 1763.3 2574.6 1768.6 2578.6 1772.1C2582.6 1775.5 2586.4 1780.9 2591.2 1781.3C2596.0 1781.7 2604.6 1775.6 2607.3 1774.4" stroke="#3aa96b" stroke-width="7.5"/>
<path d="M1596.0 1776.3C1596.8 1777.3 1599.1 1779.7 1600.9 1782.3C1602.7 1784.9 1604.4 1788.8 1606.7 1792.1C1609.0 1795.4 1612.3 1800.6 1614.6 1801.9C1616.9 1803.2 1618.1 1800.6 1620.4 1799.9C1622.7 1799.2 1625.9 1797.9 1628.2 1797.9C1630.5 1797.9 1632.1 1798.3 1634.1 1799.9C1636.1 1801.5 1638.0 1803.1 1640.0 1807.7C1642.0 1812.3 1643.8 1820.5 1645.8 1827.3C1647.8 1834.1 1649.4 1844.6 1651.7 1848.8C1654.0 1853.0 1656.6 1851.4 1659.5 1852.7C1662.4 1854.0 1666.4 1849.1 1669.3 1856.6C1672.2 1864.1 1674.8 1889.9 1677.1 1897.7C1679.4 1905.5 1680.7 1902.2 1683.0 1903.5C1685.3 1904.8 1688.2 1909.7 1690.8 1905.5C1693.4 1901.3 1696.3 1883.6 1698.6 1878.1C1700.9 1872.6 1702.2 1872.6 1704.5 1872.3C1706.8 1872.0 1709.7 1873.9 1712.3 1876.2C1714.9 1878.5 1717.5 1881.7 1720.1 1885.9C1722.7 1890.1 1725.4 1898.2 1728.0 1901.6C1730.6 1905.0 1733.2 1905.7 1735.8 1906.5C1738.4 1907.3 1741.0 1909.9 1743.6 1906.5C1746.2 1903.1 1748.5 1891.6 1751.4 1885.9C1754.3 1880.2 1757.9 1874.9 1761.2 1872.3C1764.5 1869.7 1767.4 1870.3 1771.0 1870.3C1774.6 1870.3 1779.5 1873.3 1782.7 1872.3C1786.0 1871.3 1787.6 1868.0 1790.5 1864.4C1793.4 1860.8 1797.0 1855.9 1800.3 1850.7C1803.6 1845.5 1806.8 1840.9 1810.1 1833.1C1813.4 1825.3 1817.3 1810.6 1819.9 1803.8C1822.5 1797.0 1823.1 1793.4 1825.7 1792.1C1828.3 1790.8 1832.6 1795.0 1835.5 1796.0C1838.4 1797.0 1841.0 1796.3 1843.3 1797.9C1845.6 1799.5 1846.9 1803.2 1849.2 1805.8C1851.5 1808.4 1854.7 1812.9 1857.0 1813.6C1859.3 1814.2 1860.3 1808.7 1862.9 1809.7C1865.5 1810.7 1869.4 1821.1 1872.7 1819.5C1876.0 1817.9 1879.2 1804.2 1882.5 1799.9C1885.8 1795.7 1888.6 1796.3 1892.2 1794.0C1895.8 1791.7 1900.7 1786.9 1904.0 1786.2C1907.3 1785.5 1909.2 1789.8 1911.8 1790.1C1914.4 1790.4 1917.0 1788.2 1919.6 1788.2C1922.2 1788.2 1924.9 1791.5 1927.4 1790.1C1929.9 1788.7 1930.6 1786.8 1934.5 1779.8C1938.4 1772.8 1945.6 1762.7 1950.6 1747.8C1955.6 1732.9 1959.8 1709.1 1964.4 1690.3C1969.0 1671.5 1974.0 1644.4 1978.2 1635.2C1982.4 1626.0 1985.5 1641.3 1989.7 1635.2C1993.9 1629.1 1998.8 1614.1 2003.4 1598.4C2008.0 1582.7 2013.0 1557.4 2017.2 1540.9C2021.4 1524.4 2024.5 1507.5 2028.7 1499.5C2032.9 1491.5 2037.3 1490.7 2042.5 1492.6C2047.7 1494.5 2056.7 1507.6 2060.0 1511.0C2063.3 1514.4 2060.3 1512.1 2062.4 1513.0C2064.5 1513.9 2069.2 1511.9 2072.7 1516.5C2076.1 1521.1 2079.6 1532.7 2083.1 1540.7C2086.6 1548.8 2089.9 1554.5 2093.4 1564.8C2096.9 1575.1 2100.4 1588.4 2103.8 1602.8C2107.2 1617.2 2110.7 1636.7 2114.1 1651.1C2117.5 1665.5 2121.9 1681.9 2124.5 1689.1C2127.1 1696.3 2128.0 1694.9 2129.7 1694.3C2131.4 1693.7 2132.2 1698.0 2134.8 1685.6C2137.4 1673.2 2141.7 1639.1 2145.2 1620.1C2148.7 1601.1 2152.1 1583.8 2155.6 1571.7C2159.1 1559.6 2162.8 1552.5 2165.9 1547.6C2169.1 1542.7 2171.1 1542.4 2174.5 1542.4C2177.9 1542.4 2182.8 1545.0 2186.6 1547.6C2190.3 1550.2 2193.6 1555.0 2197.0 1557.9C2200.4 1560.8 2203.9 1560.2 2207.3 1564.8C2210.8 1569.4 2214.2 1578.6 2217.7 1585.5C2221.1 1592.4 2224.6 1601.6 2228.0 1606.2C2231.4 1610.8 2234.9 1610.8 2238.4 1613.1C2241.9 1615.4 2245.4 1617.8 2248.8 1620.1C2252.2 1622.4 2255.7 1624.1 2259.1 1627.0C2262.5 1629.9 2265.3 1634.2 2269.5 1637.3C2273.7 1640.4 2280.2 1641.1 2284.2 1645.6C2288.2 1650.0 2290.3 1660.5 2293.4 1664.0C2296.5 1667.5 2298.0 1663.6 2302.6 1666.3C2307.2 1669.0 2315.6 1676.6 2321.0 1680.1C2326.4 1683.5 2329.8 1683.5 2334.8 1687.0C2339.8 1690.5 2345.5 1695.8 2350.9 1700.8C2356.3 1705.8 2360.5 1712.3 2367.0 1716.9C2373.5 1721.5 2383.9 1726.3 2390.0 1728.4C2396.1 1730.5 2399.2 1726.8 2403.8 1729.5C2408.4 1732.2 2413.8 1742.0 2417.6 1744.5C2421.4 1747.0 2421.8 1742.6 2426.8 1744.5C2431.8 1746.4 2442.1 1753.9 2447.5 1756.0C2452.9 1758.1 2454.0 1756.0 2459.0 1757.2C2464.0 1758.4 2472.0 1761.8 2477.4 1762.9C2482.8 1764.0 2484.7 1761.3 2491.2 1764.0C2497.7 1766.7 2509.6 1776.1 2516.5 1779.0C2523.4 1781.9 2527.2 1780.1 2532.6 1781.3C2538.0 1782.5 2542.9 1784.8 2548.7 1785.9C2554.4 1787.1 2562.1 1786.3 2567.1 1788.2C2572.1 1790.1 2574.6 1794.1 2578.6 1797.4C2582.6 1800.7 2586.4 1807.0 2591.2 1807.8C2596.0 1808.6 2604.6 1803.0 2607.3 1802.0" stroke="#ac79df" stroke-width="7.5"/>
<path d="M1596.0 1791.9C1596.8 1792.9 1599.1 1795.3 1600.9 1797.9C1602.7 1800.5 1604.4 1804.8 1606.7 1807.7C1609.0 1810.6 1612.3 1814.5 1614.6 1815.5C1616.9 1816.5 1618.1 1814.2 1620.4 1813.6C1622.7 1812.9 1625.9 1811.6 1628.2 1811.6C1630.5 1811.6 1632.1 1812.0 1634.1 1813.6C1636.1 1815.2 1638.0 1817.5 1640.0 1821.4C1642.0 1825.3 1643.8 1831.2 1645.8 1837.1C1647.8 1843.0 1649.4 1852.7 1651.7 1856.6C1654.0 1860.5 1656.6 1859.2 1659.5 1860.5C1662.4 1861.8 1666.4 1857.9 1669.3 1864.4C1672.2 1870.9 1674.8 1892.8 1677.1 1899.6C1679.4 1906.4 1680.7 1904.3 1683.0 1905.5C1685.3 1906.7 1688.2 1910.1 1690.8 1906.5C1693.4 1902.9 1696.3 1888.4 1698.6 1884.0C1700.9 1879.6 1702.2 1880.1 1704.5 1880.1C1706.8 1880.1 1709.7 1881.7 1712.3 1884.0C1714.9 1886.3 1717.5 1890.2 1720.1 1893.8C1722.7 1897.4 1725.4 1902.9 1728.0 1905.5C1730.6 1908.1 1733.2 1908.8 1735.8 1909.4C1738.4 1910.1 1741.0 1912.3 1743.6 1909.4C1746.2 1906.5 1748.5 1896.4 1751.4 1891.8C1754.3 1887.2 1757.9 1884.0 1761.2 1882.0C1764.5 1880.0 1767.4 1880.2 1771.0 1880.1C1774.6 1879.9 1779.5 1882.1 1782.7 1881.1C1786.0 1880.1 1787.6 1877.3 1790.5 1874.2C1793.4 1871.1 1797.0 1866.7 1800.3 1862.5C1803.6 1858.3 1806.8 1854.7 1810.1 1848.8C1813.4 1842.9 1817.3 1832.5 1819.9 1827.3C1822.5 1822.1 1823.1 1818.5 1825.7 1817.5C1828.3 1816.5 1832.6 1820.4 1835.5 1821.4C1838.4 1822.4 1841.0 1821.8 1843.3 1823.4C1845.6 1825.0 1846.9 1828.9 1849.2 1831.2C1851.5 1833.5 1854.7 1836.4 1857.0 1837.1C1859.3 1837.8 1860.3 1834.4 1862.9 1835.1C1865.5 1835.8 1869.4 1842.3 1872.7 1841.0C1876.0 1839.7 1879.2 1830.6 1882.5 1827.3C1885.8 1824.0 1888.6 1823.4 1892.2 1821.4C1895.8 1819.4 1900.7 1815.8 1904.0 1815.5C1907.3 1815.2 1909.2 1818.8 1911.8 1819.5C1914.4 1820.2 1917.0 1819.2 1919.6 1819.5C1922.2 1819.8 1924.8 1822.1 1927.4 1821.4C1930.0 1820.7 1932.9 1816.8 1935.2 1815.5C1937.5 1814.2 1939.1 1814.6 1941.1 1813.6C1943.1 1812.6 1944.7 1813.3 1947.0 1809.7C1949.3 1806.1 1951.7 1806.2 1955.0 1792.1C1958.3 1777.9 1962.8 1741.8 1966.7 1724.8C1970.6 1707.8 1974.4 1695.7 1978.2 1690.3C1982.0 1684.9 1985.5 1698.3 1989.7 1692.6C1993.9 1686.9 1998.8 1669.7 2003.4 1655.9C2008.0 1642.1 2013.0 1622.6 2017.2 1609.9C2021.4 1597.2 2024.5 1586.1 2028.7 1580.0C2032.9 1573.9 2037.3 1571.2 2042.5 1573.1C2047.7 1575.0 2056.7 1588.3 2060.0 1591.5C2063.3 1594.7 2060.3 1591.7 2062.4 1592.4C2064.5 1593.1 2069.2 1591.9 2072.7 1595.9C2076.1 1599.9 2079.6 1609.7 2083.1 1616.6C2086.6 1623.5 2089.9 1628.7 2093.4 1637.3C2096.9 1645.9 2100.4 1656.9 2103.8 1668.4C2107.2 1679.9 2110.7 1693.7 2114.1 1706.3C2117.5 1718.9 2121.9 1737.1 2124.5 1744.3C2127.1 1751.5 2128.0 1750.1 2129.7 1749.5C2131.4 1748.9 2132.2 1751.6 2134.8 1740.9C2137.4 1730.2 2141.7 1701.7 2145.2 1685.6C2148.7 1669.5 2152.1 1654.0 2155.6 1644.2C2159.1 1634.4 2162.8 1630.2 2165.9 1627.0C2169.1 1623.8 2171.1 1624.6 2174.5 1625.2C2177.9 1625.8 2182.8 1627.8 2186.6 1630.4C2190.3 1633.0 2193.6 1638.2 2197.0 1640.8C2200.4 1643.4 2203.9 1642.5 2207.3 1645.9C2210.8 1649.4 2214.2 1656.6 2217.7 1661.5C2221.1 1666.4 2224.6 1671.3 2228.0 1675.3C2231.4 1679.3 2234.9 1683.0 2238.4 1685.6C2241.9 1688.2 2245.4 1688.5 2248.8 1690.8C2252.2 1693.1 2255.7 1696.2 2259.1 1699.4C2262.5 1702.6 2265.3 1707.3 2269.5 1709.8C2273.7 1712.3 2280.2 1711.1 2284.2 1714.6C2288.2 1718.1 2290.3 1727.8 2293.4 1730.7C2296.5 1733.6 2298.0 1729.5 2302.6 1731.8C2307.2 1734.1 2315.6 1741.6 2321.0 1744.5C2326.4 1747.4 2329.8 1746.4 2334.8 1749.1C2339.8 1751.8 2345.5 1756.8 2350.9 1760.6C2356.3 1764.4 2360.5 1768.6 2367.0 1772.1C2373.5 1775.5 2383.9 1779.9 2390.0 1781.3C2396.1 1782.7 2399.2 1778.5 2403.8 1780.2C2408.4 1781.9 2413.8 1789.8 2417.6 1791.7C2421.4 1793.6 2421.8 1790.4 2426.8 1791.7C2431.8 1793.0 2442.1 1798.6 2447.5 1799.7C2452.9 1800.8 2454.0 1797.9 2459.0 1798.5C2464.0 1799.1 2472.0 1802.6 2477.4 1803.2C2482.8 1803.8 2484.7 1800.3 2491.2 1802.0C2497.7 1803.7 2509.6 1811.4 2516.5 1813.5C2523.4 1815.6 2527.2 1814.1 2532.6 1814.7C2538.0 1815.3 2542.9 1816.2 2548.7 1817.0C2554.4 1817.8 2562.1 1817.5 2567.1 1819.2C2572.1 1820.9 2574.6 1824.6 2578.6 1827.3C2582.6 1830.0 2586.4 1834.9 2591.2 1835.3C2596.0 1835.7 2604.6 1830.5 2607.3 1829.6" stroke="#c99700" stroke-width="7.5"/>
<path d="M1596.0 1809.5C1596.8 1810.5 1599.1 1812.9 1600.9 1815.5C1602.7 1818.1 1604.4 1823.0 1606.7 1825.3C1609.0 1827.6 1612.3 1828.9 1614.6 1829.2C1616.9 1829.5 1618.1 1827.6 1620.4 1827.3C1622.7 1827.0 1625.9 1826.3 1628.2 1827.3C1630.5 1828.3 1632.1 1830.5 1634.1 1833.1C1636.1 1835.7 1638.0 1838.3 1640.0 1842.9C1642.0 1847.5 1643.8 1855.9 1645.8 1860.5C1647.8 1865.1 1649.4 1868.3 1651.7 1870.3C1654.0 1872.3 1656.6 1871.3 1659.5 1872.3C1662.4 1873.3 1666.4 1870.7 1669.3 1876.2C1672.2 1881.7 1674.8 1900.0 1677.1 1905.5C1679.4 1911.0 1680.7 1908.4 1683.0 1909.4C1685.3 1910.4 1688.2 1914.3 1690.8 1911.4C1693.4 1908.5 1696.3 1895.7 1698.6 1891.8C1700.9 1887.9 1702.2 1887.6 1704.5 1887.9C1706.8 1888.2 1709.7 1890.9 1712.3 1893.8C1714.9 1896.7 1717.5 1902.6 1720.1 1905.5C1722.7 1908.4 1725.4 1909.5 1728.0 1911.4C1730.6 1913.4 1733.2 1916.6 1735.8 1917.2C1738.4 1917.8 1741.0 1916.9 1743.6 1915.3C1746.2 1913.7 1748.5 1911.1 1751.4 1907.5C1754.3 1903.9 1757.9 1896.6 1761.2 1893.8C1764.5 1891.0 1767.4 1891.1 1771.0 1890.8C1774.6 1890.5 1779.5 1891.9 1782.7 1891.8C1786.0 1891.7 1787.6 1891.5 1790.5 1889.9C1793.4 1888.3 1797.0 1884.9 1800.3 1882.0C1803.6 1879.1 1806.8 1877.5 1810.1 1872.3C1813.4 1867.1 1817.3 1855.9 1819.9 1850.7C1822.5 1845.5 1823.1 1842.0 1825.7 1841.0C1828.3 1840.0 1832.6 1844.2 1835.5 1844.9C1838.4 1845.6 1841.0 1843.3 1843.3 1844.9C1845.6 1846.5 1846.9 1852.4 1849.2 1854.7C1851.5 1857.0 1854.7 1858.3 1857.0 1858.6C1859.3 1858.9 1860.3 1855.9 1862.9 1856.6C1865.5 1857.2 1869.4 1863.5 1872.7 1862.5C1876.0 1861.5 1879.2 1853.3 1882.5 1850.7C1885.8 1848.1 1888.6 1848.1 1892.2 1846.8C1895.8 1845.5 1900.7 1842.9 1904.0 1842.9C1907.3 1842.9 1909.2 1846.2 1911.8 1846.8C1914.4 1847.4 1917.0 1846.5 1919.6 1846.8C1922.2 1847.1 1924.8 1849.1 1927.4 1848.8C1930.0 1848.5 1932.9 1845.2 1935.2 1844.9C1937.5 1844.6 1939.1 1848.1 1941.1 1846.8C1943.1 1845.5 1944.7 1843.0 1947.0 1837.1C1949.3 1831.2 1951.7 1821.1 1955.0 1811.6C1958.3 1802.0 1962.8 1791.2 1966.7 1779.8C1970.6 1768.4 1974.4 1748.5 1978.2 1743.2C1982.0 1737.9 1985.5 1752.8 1989.7 1747.8C1993.9 1742.8 1998.8 1724.8 2003.4 1713.3C2008.0 1701.8 2013.0 1688.1 2017.2 1678.9C2021.4 1669.7 2024.5 1662.0 2028.7 1658.2C2032.9 1654.4 2037.3 1653.6 2042.5 1655.9C2047.7 1658.2 2056.7 1669.0 2060.0 1671.9C2063.3 1674.9 2060.3 1673.0 2062.4 1673.6C2064.5 1674.2 2069.2 1671.6 2072.7 1675.3C2076.1 1679.0 2079.6 1689.7 2083.1 1696.0C2086.6 1702.3 2089.9 1705.7 2093.4 1713.2C2096.9 1720.7 2100.4 1730.5 2103.8 1740.9C2107.2 1751.3 2110.7 1765.1 2114.1 1775.4C2117.5 1785.8 2121.9 1797.8 2124.5 1803.0C2127.1 1808.2 2128.0 1807.0 2129.7 1806.4C2131.4 1805.8 2132.2 1807.5 2134.8 1799.5C2137.4 1791.5 2141.7 1770.2 2145.2 1758.1C2148.7 1746.0 2152.1 1734.9 2155.6 1727.1C2159.1 1719.3 2162.8 1714.4 2165.9 1711.5C2169.1 1708.6 2171.1 1709.2 2174.5 1709.8C2177.9 1710.4 2182.8 1712.7 2186.6 1715.0C2190.3 1717.3 2193.6 1721.0 2197.0 1723.6C2200.4 1726.2 2203.9 1727.0 2207.3 1730.5C2210.8 1734.0 2214.2 1740.3 2217.7 1744.3C2221.1 1748.3 2224.6 1751.8 2228.0 1754.7C2231.4 1757.6 2234.9 1759.9 2238.4 1761.6C2241.9 1763.3 2245.4 1763.6 2248.8 1765.0C2252.2 1766.4 2255.7 1767.9 2259.1 1770.2C2262.5 1772.5 2265.3 1776.6 2269.5 1778.8C2273.7 1781.0 2280.2 1780.5 2284.2 1783.6C2288.2 1786.7 2290.3 1794.7 2293.4 1797.4C2296.5 1800.1 2298.0 1797.8 2302.6 1799.7C2307.2 1801.6 2315.6 1806.6 2321.0 1808.9C2326.4 1811.2 2329.8 1811.6 2334.8 1813.5C2339.8 1815.4 2345.5 1817.7 2350.9 1820.4C2356.3 1823.1 2360.5 1827.3 2367.0 1829.6C2373.5 1831.9 2383.9 1833.8 2390.0 1834.2C2396.1 1834.6 2399.2 1830.8 2403.8 1831.9C2408.4 1833.1 2413.8 1839.8 2417.6 1841.1C2421.4 1842.4 2421.8 1839.4 2426.8 1840.0C2431.8 1840.6 2442.1 1844.1 2447.5 1844.5C2452.9 1844.9 2454.0 1842.4 2459.0 1842.2C2464.0 1842.0 2472.0 1843.4 2477.4 1843.4C2482.8 1843.4 2484.7 1841.4 2491.2 1842.2C2497.7 1843.0 2509.6 1847.0 2516.5 1848.0C2523.4 1849.0 2527.2 1847.8 2532.6 1848.0C2538.0 1848.2 2542.9 1848.8 2548.7 1849.2C2554.4 1849.6 2562.1 1849.0 2567.1 1850.3C2572.1 1851.6 2574.6 1855.1 2578.6 1857.2C2582.6 1859.3 2586.4 1863.2 2591.2 1863.0C2596.0 1862.8 2604.6 1857.2 2607.3 1856.0" stroke="#00cccc" stroke-width="7.5"/>
</g>
<rect x="1598.0" y="1198.4" width="1013.0" height="817.1" fill="none" stroke="#000" stroke-width="5.8"/>
<path d="M1598.0 2015.5V1999.5M1682.4 2015.5V2007.0M1766.8 2015.5V1999.5M1851.2 2015.5V2007.0M1935.7 2015.5V1999.5M2020.1 2015.5V2007.0M2104.5 2015.5V1999.5M2188.9 2015.5V2007.0M2273.3 2015.5V1999.5M2357.8 2015.5V2007.0M2442.2 2015.5V1999.5M2526.6 2015.5V2007.0M2611.0 2015.5V1999.5M1598.0 2015.5H1614.0M1598.0 1947.4H1606.5M1598.0 1879.3H1614.0M1598.0 1811.2H1606.5M1598.0 1743.1H1614.0M1598.0 1675.0H1606.5M1598.0 1607.0H1614.0M1598.0 1538.9H1606.5M1598.0 1470.8H1614.0M1598.0 1402.7H1606.5M1598.0 1334.6H1614.0M1598.0 1266.5H1606.5M1598.0 1198.4H1614.0" stroke="#000" stroke-width="5.7" fill="none"/>
<g style="font-family:'Liberation Sans',sans-serif;font-size:56px" fill="#000">
<text x="1580.0" y="2032.5" text-anchor="end">1.2</text>
<text x="1580.0" y="1896.3" text-anchor="end">1.3</text>
<text x="1580.0" y="1760.1" text-anchor="end">1.4</text>
<text x="1580.0" y="1624.0" text-anchor="end">1.5</text>
<text x="1580.0" y="1487.8" text-anchor="end">1.6</text>
<text x="1580.0" y="1351.6" text-anchor="end">1.7</text>
<text x="1580.0" y="1215.4" text-anchor="end">1.8</text>
<text x="1598.0" y="2076.5" text-anchor="middle">8</text>
<text x="1766.8" y="2076.5" text-anchor="middle">9</text>
<text x="1935.7" y="2076.5" text-anchor="middle">10</text>
<text x="2104.5" y="2076.5" text-anchor="middle">11</text>
<text x="2273.3" y="2076.5" text-anchor="middle">12</text>
<text x="2442.2" y="2076.5" text-anchor="middle">13</text>
<text x="2611.0" y="2076.5" text-anchor="middle">14</text>
</g>
<text x="1480.1" y="1615.0" style="font-family:'Liberation Serif',serif;font-size:72px" transform="rotate(-90 1480.1 1615.0)" text-anchor="middle">Refractive index</text>
<text x="1853.0" y="2165.3" style="font-family:'Liberation Serif',serif;font-size:72px;letter-spacing:0.6px">Wavelength (<tspan font-style="italic">&#956;</tspan>m)</text>
<text x="1378.0" y="1185.0" style="font-family:'Liberation Serif',serif;font-size:50px;font-weight:bold">(d)</text>
<path d="M1652.0 1295.0H1756.0" stroke="#ee3d40" stroke-width="7.5"/>
<text x="1767.4" y="1311.0" style="font-family:'Liberation Serif',serif;font-size:47px">0%</text>
<path d="M1652.0 1352.4H1756.0" stroke="#1f6bdb" stroke-width="7.5"/>
<text x="1767.4" y="1368.4" style="font-family:'Liberation Serif',serif;font-size:47px">10%</text>
<path d="M1652.0 1409.8H1756.0" stroke="#3aa96b" stroke-width="7.5"/>
<text x="1767.4" y="1425.8" style="font-family:'Liberation Serif',serif;font-size:47px">20%</text>
<path d="M1652.0 1467.2H1756.0" stroke="#ac79df" stroke-width="7.5"/>
<text x="1767.4" y="1483.2" style="font-family:'Liberation Serif',serif;font-size:47px">30%</text>
<path d="M1652.0 1524.6H1756.0" stroke="#c99700" stroke-width="7.5"/>
<text x="1767.4" y="1540.6" style="font-family:'Liberation Serif',serif;font-size:47px">40%</text>
<path d="M1652.0 1582.0H1756.0" stroke="#00cccc" stroke-width="7.5"/>
<text x="1767.4" y="1598.0" style="font-family:'Liberation Serif',serif;font-size:47px">50%</text>
</svg></body></html>
